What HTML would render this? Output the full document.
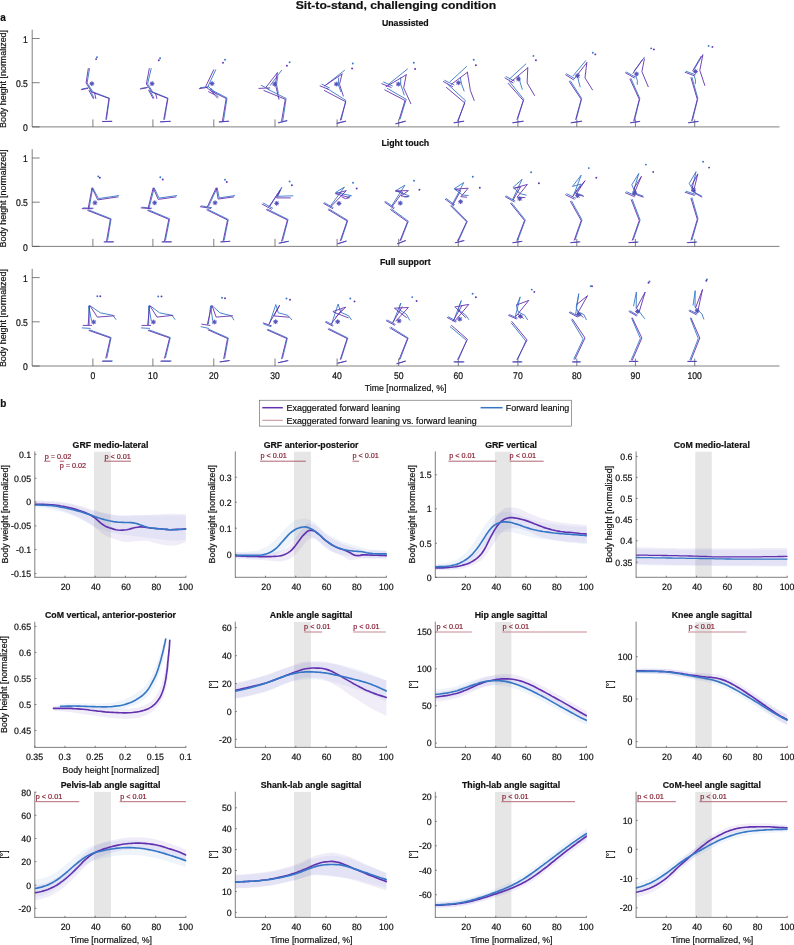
<!DOCTYPE html>
<html><head><meta charset="utf-8"><title>Sit-to-stand</title>
<style>html,body{margin:0;padding:0;background:#fff}svg{display:block;will-change:transform}text{font-family:"Liberation Sans",sans-serif}</style></head>
<body>
<svg width="794" height="945" viewBox="0 0 794 945">
<rect width="794" height="945" fill="#fff"/>
<g opacity="0.999">
<text x="395.9" y="8.5" font-size="11.6" text-anchor="middle" fill="#111111" textLength="200.4" lengthAdjust="spacingAndGlyphs" font-weight="bold" stroke="#111111" stroke-width="0.2">Sit-to-stand, challenging condition</text>
<text x="0.2" y="20.9" font-size="10" text-anchor="start" fill="#111111" font-weight="bold" stroke="#111111" stroke-width="0.2">a</text>
<text x="0.2" y="406.9" font-size="10" text-anchor="start" fill="#111111" font-weight="bold" stroke="#111111" stroke-width="0.2">b</text>
<line x1="32.2" y1="29.7" x2="32.2" y2="126.9" stroke="#4a4a4a" stroke-width="0.7"/>
<line x1="32.2" y1="126.9" x2="779.5" y2="126.9" stroke="#4a4a4a" stroke-width="0.7"/>
<line x1="32.2" y1="126.9" x2="39.7" y2="126.9" stroke="#4a4a4a" stroke-width="0.7"/>
<text x="0" y="0" font-size="8.6" text-anchor="end" fill="#111111" style="text-rendering:geometricPrecision" transform="translate(27.9 131.1) scale(1 1.13)" stroke="#111111" stroke-width="0.2">0</text>
<line x1="32.2" y1="82.7" x2="39.7" y2="82.7" stroke="#4a4a4a" stroke-width="0.7"/>
<text x="0" y="0" font-size="8.6" text-anchor="end" fill="#111111" style="text-rendering:geometricPrecision" transform="translate(27.9 86.9) scale(1 1.13)" stroke="#111111" stroke-width="0.2">0.5</text>
<line x1="32.2" y1="38.5" x2="39.7" y2="38.5" stroke="#4a4a4a" stroke-width="0.7"/>
<text x="0" y="0" font-size="8.6" text-anchor="end" fill="#111111" style="text-rendering:geometricPrecision" transform="translate(27.9 42.7) scale(1 1.13)" stroke="#111111" stroke-width="0.2">1</text>
<line x1="92.9" y1="126.9" x2="92.9" y2="119.4" stroke="#4a4a4a" stroke-width="0.7"/>
<line x1="152.9" y1="126.9" x2="152.9" y2="119.4" stroke="#4a4a4a" stroke-width="0.7"/>
<line x1="213.8" y1="126.9" x2="213.8" y2="119.4" stroke="#4a4a4a" stroke-width="0.7"/>
<line x1="275" y1="126.9" x2="275" y2="119.4" stroke="#4a4a4a" stroke-width="0.7"/>
<line x1="337.1" y1="126.9" x2="337.1" y2="119.4" stroke="#4a4a4a" stroke-width="0.7"/>
<line x1="398.7" y1="126.9" x2="398.7" y2="119.4" stroke="#4a4a4a" stroke-width="0.7"/>
<line x1="458.3" y1="126.9" x2="458.3" y2="119.4" stroke="#4a4a4a" stroke-width="0.7"/>
<line x1="517.9" y1="126.9" x2="517.9" y2="119.4" stroke="#4a4a4a" stroke-width="0.7"/>
<line x1="576.8" y1="126.9" x2="576.8" y2="119.4" stroke="#4a4a4a" stroke-width="0.7"/>
<line x1="635.4" y1="126.9" x2="635.4" y2="119.4" stroke="#4a4a4a" stroke-width="0.7"/>
<line x1="694.7" y1="126.9" x2="694.7" y2="119.4" stroke="#4a4a4a" stroke-width="0.7"/>
<text x="405.3" y="26" font-size="8.78" text-anchor="middle" fill="#111111" font-weight="bold" stroke="#111111" stroke-width="0.2">Unassisted</text>
<text x="6.3" y="79" font-size="8.8" text-anchor="middle" fill="#111111" transform="rotate(-90 6.3 79)" textLength="98" lengthAdjust="spacingAndGlyphs" stroke="#111111" stroke-width="0.2">Body height [normalized]</text>
<line x1="32.2" y1="149.2" x2="32.2" y2="246.4" stroke="#4a4a4a" stroke-width="0.7"/>
<line x1="32.2" y1="246.4" x2="779.5" y2="246.4" stroke="#4a4a4a" stroke-width="0.7"/>
<line x1="32.2" y1="246.4" x2="39.7" y2="246.4" stroke="#4a4a4a" stroke-width="0.7"/>
<text x="0" y="0" font-size="8.6" text-anchor="end" fill="#111111" style="text-rendering:geometricPrecision" transform="translate(27.9 250.6) scale(1 1.13)" stroke="#111111" stroke-width="0.2">0</text>
<line x1="32.2" y1="202.2" x2="39.7" y2="202.2" stroke="#4a4a4a" stroke-width="0.7"/>
<text x="0" y="0" font-size="8.6" text-anchor="end" fill="#111111" style="text-rendering:geometricPrecision" transform="translate(27.9 206.4) scale(1 1.13)" stroke="#111111" stroke-width="0.2">0.5</text>
<line x1="32.2" y1="158" x2="39.7" y2="158" stroke="#4a4a4a" stroke-width="0.7"/>
<text x="0" y="0" font-size="8.6" text-anchor="end" fill="#111111" style="text-rendering:geometricPrecision" transform="translate(27.9 162.2) scale(1 1.13)" stroke="#111111" stroke-width="0.2">1</text>
<line x1="92.9" y1="246.4" x2="92.9" y2="238.9" stroke="#4a4a4a" stroke-width="0.7"/>
<line x1="152.9" y1="246.4" x2="152.9" y2="238.9" stroke="#4a4a4a" stroke-width="0.7"/>
<line x1="213.8" y1="246.4" x2="213.8" y2="238.9" stroke="#4a4a4a" stroke-width="0.7"/>
<line x1="275" y1="246.4" x2="275" y2="238.9" stroke="#4a4a4a" stroke-width="0.7"/>
<line x1="337.1" y1="246.4" x2="337.1" y2="238.9" stroke="#4a4a4a" stroke-width="0.7"/>
<line x1="398.7" y1="246.4" x2="398.7" y2="238.9" stroke="#4a4a4a" stroke-width="0.7"/>
<line x1="458.3" y1="246.4" x2="458.3" y2="238.9" stroke="#4a4a4a" stroke-width="0.7"/>
<line x1="517.9" y1="246.4" x2="517.9" y2="238.9" stroke="#4a4a4a" stroke-width="0.7"/>
<line x1="576.8" y1="246.4" x2="576.8" y2="238.9" stroke="#4a4a4a" stroke-width="0.7"/>
<line x1="635.4" y1="246.4" x2="635.4" y2="238.9" stroke="#4a4a4a" stroke-width="0.7"/>
<line x1="694.7" y1="246.4" x2="694.7" y2="238.9" stroke="#4a4a4a" stroke-width="0.7"/>
<text x="405.3" y="146" font-size="8.78" text-anchor="middle" fill="#111111" font-weight="bold" stroke="#111111" stroke-width="0.2">Light touch</text>
<text x="6.3" y="198.5" font-size="8.8" text-anchor="middle" fill="#111111" transform="rotate(-90 6.3 198.5)" textLength="98" lengthAdjust="spacingAndGlyphs" stroke="#111111" stroke-width="0.2">Body height [normalized]</text>
<line x1="32.2" y1="268.8" x2="32.2" y2="366" stroke="#4a4a4a" stroke-width="0.7"/>
<line x1="32.2" y1="366" x2="779.5" y2="366" stroke="#4a4a4a" stroke-width="0.7"/>
<line x1="32.2" y1="366" x2="39.7" y2="366" stroke="#4a4a4a" stroke-width="0.7"/>
<text x="0" y="0" font-size="8.6" text-anchor="end" fill="#111111" style="text-rendering:geometricPrecision" transform="translate(27.9 370.2) scale(1 1.13)" stroke="#111111" stroke-width="0.2">0</text>
<line x1="32.2" y1="321.8" x2="39.7" y2="321.8" stroke="#4a4a4a" stroke-width="0.7"/>
<text x="0" y="0" font-size="8.6" text-anchor="end" fill="#111111" style="text-rendering:geometricPrecision" transform="translate(27.9 326) scale(1 1.13)" stroke="#111111" stroke-width="0.2">0.5</text>
<line x1="32.2" y1="277.6" x2="39.7" y2="277.6" stroke="#4a4a4a" stroke-width="0.7"/>
<text x="0" y="0" font-size="8.6" text-anchor="end" fill="#111111" style="text-rendering:geometricPrecision" transform="translate(27.9 281.8) scale(1 1.13)" stroke="#111111" stroke-width="0.2">1</text>
<line x1="92.9" y1="366" x2="92.9" y2="358.5" stroke="#4a4a4a" stroke-width="0.7"/>
<line x1="152.9" y1="366" x2="152.9" y2="358.5" stroke="#4a4a4a" stroke-width="0.7"/>
<line x1="213.8" y1="366" x2="213.8" y2="358.5" stroke="#4a4a4a" stroke-width="0.7"/>
<line x1="275" y1="366" x2="275" y2="358.5" stroke="#4a4a4a" stroke-width="0.7"/>
<line x1="337.1" y1="366" x2="337.1" y2="358.5" stroke="#4a4a4a" stroke-width="0.7"/>
<line x1="398.7" y1="366" x2="398.7" y2="358.5" stroke="#4a4a4a" stroke-width="0.7"/>
<line x1="458.3" y1="366" x2="458.3" y2="358.5" stroke="#4a4a4a" stroke-width="0.7"/>
<line x1="517.9" y1="366" x2="517.9" y2="358.5" stroke="#4a4a4a" stroke-width="0.7"/>
<line x1="576.8" y1="366" x2="576.8" y2="358.5" stroke="#4a4a4a" stroke-width="0.7"/>
<line x1="635.4" y1="366" x2="635.4" y2="358.5" stroke="#4a4a4a" stroke-width="0.7"/>
<line x1="694.7" y1="366" x2="694.7" y2="358.5" stroke="#4a4a4a" stroke-width="0.7"/>
<text x="405.3" y="265" font-size="8.78" text-anchor="middle" fill="#111111" font-weight="bold" stroke="#111111" stroke-width="0.2">Full support</text>
<text x="6.3" y="318.1" font-size="8.8" text-anchor="middle" fill="#111111" transform="rotate(-90 6.3 318.1)" textLength="98" lengthAdjust="spacingAndGlyphs" stroke="#111111" stroke-width="0.2">Body height [normalized]</text>
<text x="0" y="0" font-size="8.6" text-anchor="middle" fill="#111111" style="text-rendering:geometricPrecision" transform="translate(92.9 378.9) scale(1 1.13)" stroke="#111111" stroke-width="0.2">0</text>
<text x="0" y="0" font-size="8.6" text-anchor="middle" fill="#111111" style="text-rendering:geometricPrecision" transform="translate(152.9 378.9) scale(1 1.13)" stroke="#111111" stroke-width="0.2">10</text>
<text x="0" y="0" font-size="8.6" text-anchor="middle" fill="#111111" style="text-rendering:geometricPrecision" transform="translate(213.8 378.9) scale(1 1.13)" stroke="#111111" stroke-width="0.2">20</text>
<text x="0" y="0" font-size="8.6" text-anchor="middle" fill="#111111" style="text-rendering:geometricPrecision" transform="translate(275 378.9) scale(1 1.13)" stroke="#111111" stroke-width="0.2">30</text>
<text x="0" y="0" font-size="8.6" text-anchor="middle" fill="#111111" style="text-rendering:geometricPrecision" transform="translate(337.1 378.9) scale(1 1.13)" stroke="#111111" stroke-width="0.2">40</text>
<text x="0" y="0" font-size="8.6" text-anchor="middle" fill="#111111" style="text-rendering:geometricPrecision" transform="translate(398.7 378.9) scale(1 1.13)" stroke="#111111" stroke-width="0.2">50</text>
<text x="0" y="0" font-size="8.6" text-anchor="middle" fill="#111111" style="text-rendering:geometricPrecision" transform="translate(458.3 378.9) scale(1 1.13)" stroke="#111111" stroke-width="0.2">60</text>
<text x="0" y="0" font-size="8.6" text-anchor="middle" fill="#111111" style="text-rendering:geometricPrecision" transform="translate(517.9 378.9) scale(1 1.13)" stroke="#111111" stroke-width="0.2">70</text>
<text x="0" y="0" font-size="8.6" text-anchor="middle" fill="#111111" style="text-rendering:geometricPrecision" transform="translate(576.8 378.9) scale(1 1.13)" stroke="#111111" stroke-width="0.2">80</text>
<text x="0" y="0" font-size="8.6" text-anchor="middle" fill="#111111" style="text-rendering:geometricPrecision" transform="translate(635.4 378.9) scale(1 1.13)" stroke="#111111" stroke-width="0.2">90</text>
<text x="0" y="0" font-size="8.6" text-anchor="middle" fill="#111111" style="text-rendering:geometricPrecision" transform="translate(694.7 378.9) scale(1 1.13)" stroke="#111111" stroke-width="0.2">100</text>
<text x="405.6" y="391.1" font-size="8.8" text-anchor="middle" fill="#111111" textLength="81.5" lengthAdjust="spacingAndGlyphs" stroke="#111111" stroke-width="0.2">Time [normalized, %]</text>
<polyline points="89.5,68.6 87.1,83 92.9,91.9 109.4,98.2 106.5,119.3" fill="none" stroke="#3577C6" stroke-width="0.9" stroke-linejoin="round" stroke-linecap="round"/>
<polyline points="103,121.6 111.9,121.4" fill="none" stroke="#3577C6" stroke-width="0.9" stroke-linejoin="round" stroke-linecap="round"/>
<polyline points="82.1,89 88.4,87.8" fill="none" stroke="#3577C6" stroke-width="0.9" stroke-linejoin="round" stroke-linecap="round"/>
<polyline points="90.2,90.1 93.9,97.9" fill="none" stroke="#3577C6" stroke-width="0.9" stroke-linejoin="round" stroke-linecap="round"/>
<polyline points="88.3,68.6 86.1,83 92,92.2 109,98.5 105.9,119.3" fill="none" stroke="#6231B0" stroke-width="0.9" stroke-linejoin="round" stroke-linecap="round"/>
<polyline points="102.5,121.5 111.6,121.3" fill="none" stroke="#6231B0" stroke-width="0.9" stroke-linejoin="round" stroke-linecap="round"/>
<polyline points="81.3,89.7 87.6,88.4" fill="none" stroke="#6231B0" stroke-width="0.9" stroke-linejoin="round" stroke-linecap="round"/>
<polyline points="88.9,90.3 93.3,98.5" fill="none" stroke="#6231B0" stroke-width="0.9" stroke-linejoin="round" stroke-linecap="round"/>
<polyline points="94.6,92.8 95.8,98.5" fill="none" stroke="#6231B0" stroke-width="0.9" stroke-linejoin="round" stroke-linecap="round"/>
<circle cx="96.1" cy="59.1" r="0.95" fill="#6231B0"/>
<circle cx="97" cy="57.3" r="0.95" fill="#3577C6"/>
<line x1="89.8" y1="83.6" x2="94.4" y2="83.6" stroke="#3577C6" stroke-width="0.7"/>
<line x1="90.4" y1="81.9" x2="93.7" y2="85.2" stroke="#3577C6" stroke-width="0.7"/>
<line x1="92.1" y1="81.3" x2="92.1" y2="85.9" stroke="#3577C6" stroke-width="0.7"/>
<line x1="93.7" y1="81.9" x2="90.4" y2="85.2" stroke="#3577C6" stroke-width="0.7"/>
<line x1="89.4" y1="83.8" x2="94" y2="83.8" stroke="#6231B0" stroke-width="0.7"/>
<line x1="90" y1="82.1" x2="93.3" y2="85.4" stroke="#6231B0" stroke-width="0.7"/>
<line x1="91.7" y1="81.5" x2="91.7" y2="86.1" stroke="#6231B0" stroke-width="0.7"/>
<line x1="93.3" y1="82.1" x2="90" y2="85.4" stroke="#6231B0" stroke-width="0.7"/>
<circle cx="91.9" cy="83.7" r="1.15" fill="#5358BE"/>
<polyline points="151.2,68.6 147.6,83.8 152.7,91.9 168,98.2 164.5,119.3" fill="none" stroke="#3577C6" stroke-width="0.9" stroke-linejoin="round" stroke-linecap="round"/>
<polyline points="160.9,121.9 170.4,121.4" fill="none" stroke="#3577C6" stroke-width="0.9" stroke-linejoin="round" stroke-linecap="round"/>
<polyline points="141,88.4 147.6,87.3" fill="none" stroke="#3577C6" stroke-width="0.9" stroke-linejoin="round" stroke-linecap="round"/>
<polyline points="149.7,90.1 153.9,97.9" fill="none" stroke="#3577C6" stroke-width="0.9" stroke-linejoin="round" stroke-linecap="round"/>
<polyline points="149.3,68.6 146.4,84 151.9,92.2 167.6,98.5 163.8,119.3" fill="none" stroke="#6231B0" stroke-width="0.9" stroke-linejoin="round" stroke-linecap="round"/>
<polyline points="160.4,121.8 170,121.3" fill="none" stroke="#6231B0" stroke-width="0.9" stroke-linejoin="round" stroke-linecap="round"/>
<polyline points="140.3,89 146.8,87.8" fill="none" stroke="#6231B0" stroke-width="0.9" stroke-linejoin="round" stroke-linecap="round"/>
<polyline points="148.7,90.3 153.1,98.5" fill="none" stroke="#6231B0" stroke-width="0.9" stroke-linejoin="round" stroke-linecap="round"/>
<polyline points="155.6,93.5 156.9,98.5" fill="none" stroke="#6231B0" stroke-width="0.9" stroke-linejoin="round" stroke-linecap="round"/>
<circle cx="158.8" cy="60.3" r="0.95" fill="#6231B0"/>
<circle cx="160.1" cy="58.2" r="0.95" fill="#3577C6"/>
<line x1="150" y1="83.6" x2="154.6" y2="83.6" stroke="#3577C6" stroke-width="0.7"/>
<line x1="150.6" y1="81.9" x2="153.9" y2="85.2" stroke="#3577C6" stroke-width="0.7"/>
<line x1="152.3" y1="81.3" x2="152.3" y2="85.9" stroke="#3577C6" stroke-width="0.7"/>
<line x1="153.9" y1="81.9" x2="150.6" y2="85.2" stroke="#3577C6" stroke-width="0.7"/>
<line x1="149.6" y1="83.8" x2="154.2" y2="83.8" stroke="#6231B0" stroke-width="0.7"/>
<line x1="150.2" y1="82.1" x2="153.5" y2="85.4" stroke="#6231B0" stroke-width="0.7"/>
<line x1="151.9" y1="81.5" x2="151.9" y2="86.1" stroke="#6231B0" stroke-width="0.7"/>
<line x1="153.5" y1="82.1" x2="150.2" y2="85.4" stroke="#6231B0" stroke-width="0.7"/>
<circle cx="152.1" cy="83.7" r="1.15" fill="#5358BE"/>
<polyline points="215.7,69.8 208.1,86.2 212.6,90.5 227,98 223.5,120.7" fill="none" stroke="#3577C6" stroke-width="0.9" stroke-linejoin="round" stroke-linecap="round"/>
<polyline points="219.7,122 228.8,121.3" fill="none" stroke="#3577C6" stroke-width="0.9" stroke-linejoin="round" stroke-linecap="round"/>
<polyline points="200.3,87.7 208.6,86.7" fill="none" stroke="#3577C6" stroke-width="0.9" stroke-linejoin="round" stroke-linecap="round"/>
<polyline points="211.1,88.4 218.2,97" fill="none" stroke="#3577C6" stroke-width="0.9" stroke-linejoin="round" stroke-linecap="round"/>
<polyline points="213.7,69.8 205.6,86.7 211.1,91 226.2,98.5 222.5,120.7" fill="none" stroke="#6231B0" stroke-width="0.9" stroke-linejoin="round" stroke-linecap="round"/>
<polyline points="219.2,121.9 228.3,121.2" fill="none" stroke="#6231B0" stroke-width="0.9" stroke-linejoin="round" stroke-linecap="round"/>
<polyline points="199.3,88.7 207.4,87.4" fill="none" stroke="#6231B0" stroke-width="0.9" stroke-linejoin="round" stroke-linecap="round"/>
<polyline points="209.9,89.2 217.4,98" fill="none" stroke="#6231B0" stroke-width="0.9" stroke-linejoin="round" stroke-linecap="round"/>
<polyline points="208.6,91.7 214.2,94.5" fill="none" stroke="#6231B0" stroke-width="0.9" stroke-linejoin="round" stroke-linecap="round"/>
<circle cx="223" cy="62.7" r="0.95" fill="#6231B0"/>
<circle cx="225" cy="59.7" r="0.95" fill="#3577C6"/>
<line x1="210" y1="83.5" x2="214.6" y2="83.5" stroke="#3577C6" stroke-width="0.7"/>
<line x1="210.7" y1="81.8" x2="213.9" y2="85.1" stroke="#3577C6" stroke-width="0.7"/>
<line x1="212.3" y1="81.2" x2="212.3" y2="85.8" stroke="#3577C6" stroke-width="0.7"/>
<line x1="213.9" y1="81.8" x2="210.7" y2="85.1" stroke="#3577C6" stroke-width="0.7"/>
<line x1="209.6" y1="83.7" x2="214.2" y2="83.7" stroke="#6231B0" stroke-width="0.7"/>
<line x1="210.3" y1="82" x2="213.5" y2="85.3" stroke="#6231B0" stroke-width="0.7"/>
<line x1="211.9" y1="81.4" x2="211.9" y2="86" stroke="#6231B0" stroke-width="0.7"/>
<line x1="213.5" y1="82" x2="210.3" y2="85.3" stroke="#6231B0" stroke-width="0.7"/>
<circle cx="212.1" cy="83.6" r="1.15" fill="#5358BE"/>
<polyline points="281.6,70.3 270.2,85.4" fill="none" stroke="#3577C6" stroke-width="0.9" stroke-linejoin="round" stroke-linecap="round"/>
<polyline points="261.4,85.4 269,89.2" fill="none" stroke="#3577C6" stroke-width="0.9" stroke-linejoin="round" stroke-linecap="round"/>
<polyline points="267.7,89.2 286.1,98.5 282.8,120.7" fill="none" stroke="#3577C6" stroke-width="0.9" stroke-linejoin="round" stroke-linecap="round"/>
<polyline points="277.8,76.6 276.5,84.2 278.3,93" fill="none" stroke="#3577C6" stroke-width="0.9" stroke-linejoin="round" stroke-linecap="round"/>
<polyline points="278.8,122.8 287.1,120.8" fill="none" stroke="#3577C6" stroke-width="0.9" stroke-linejoin="round" stroke-linecap="round"/>
<polyline points="277.3,72.8 266.4,86.7" fill="none" stroke="#6231B0" stroke-width="0.9" stroke-linejoin="round" stroke-linecap="round"/>
<polyline points="258.9,88.4 269.7,87.9" fill="none" stroke="#6231B0" stroke-width="0.9" stroke-linejoin="round" stroke-linecap="round"/>
<polyline points="263.9,90.5 285.3,99.3 281.6,120.7" fill="none" stroke="#6231B0" stroke-width="0.9" stroke-linejoin="round" stroke-linecap="round"/>
<polyline points="277.3,72.8 275.3,84.2 279,99.3" fill="none" stroke="#6231B0" stroke-width="0.9" stroke-linejoin="round" stroke-linecap="round"/>
<polyline points="278.3,122.7 286.6,120.7" fill="none" stroke="#6231B0" stroke-width="0.9" stroke-linejoin="round" stroke-linecap="round"/>
<circle cx="286.9" cy="65.8" r="0.95" fill="#6231B0"/>
<circle cx="289.6" cy="62.2" r="0.95" fill="#3577C6"/>
<line x1="272.6" y1="84" x2="277.2" y2="84" stroke="#3577C6" stroke-width="0.7"/>
<line x1="273.3" y1="82.3" x2="276.5" y2="85.6" stroke="#3577C6" stroke-width="0.7"/>
<line x1="274.9" y1="81.7" x2="274.9" y2="86.3" stroke="#3577C6" stroke-width="0.7"/>
<line x1="276.5" y1="82.3" x2="273.3" y2="85.6" stroke="#3577C6" stroke-width="0.7"/>
<line x1="272.2" y1="84.2" x2="276.8" y2="84.2" stroke="#6231B0" stroke-width="0.7"/>
<line x1="272.9" y1="82.5" x2="276.1" y2="85.8" stroke="#6231B0" stroke-width="0.7"/>
<line x1="274.5" y1="81.9" x2="274.5" y2="86.5" stroke="#6231B0" stroke-width="0.7"/>
<line x1="276.1" y1="82.5" x2="272.9" y2="85.8" stroke="#6231B0" stroke-width="0.7"/>
<circle cx="274.7" cy="84.1" r="1.15" fill="#5358BE"/>
<polyline points="344.5,70.3 326.9,84.2" fill="none" stroke="#3577C6" stroke-width="0.9" stroke-linejoin="round" stroke-linecap="round"/>
<polyline points="321.9,84.2 329.4,87.9" fill="none" stroke="#3577C6" stroke-width="0.9" stroke-linejoin="round" stroke-linecap="round"/>
<polyline points="326.9,88.4 345.8,100.3 341.3,119.7" fill="none" stroke="#3577C6" stroke-width="0.9" stroke-linejoin="round" stroke-linecap="round"/>
<polyline points="338.7,77.9 338.2,84.2 340.8,91.7" fill="none" stroke="#3577C6" stroke-width="0.9" stroke-linejoin="round" stroke-linecap="round"/>
<polyline points="337.5,123.3 345.8,121.3" fill="none" stroke="#3577C6" stroke-width="0.9" stroke-linejoin="round" stroke-linecap="round"/>
<polyline points="342,74.1 324.4,85.9" fill="none" stroke="#6231B0" stroke-width="0.9" stroke-linejoin="round" stroke-linecap="round"/>
<polyline points="320.1,85.9 328.2,89.2" fill="none" stroke="#6231B0" stroke-width="0.9" stroke-linejoin="round" stroke-linecap="round"/>
<polyline points="324.4,90.5 345.8,101.8 340.3,120.2" fill="none" stroke="#6231B0" stroke-width="0.9" stroke-linejoin="round" stroke-linecap="round"/>
<polyline points="342,74.1 339.5,84.2 343.3,96" fill="none" stroke="#6231B0" stroke-width="0.9" stroke-linejoin="round" stroke-linecap="round"/>
<polyline points="337,123.2 345.3,121.2" fill="none" stroke="#6231B0" stroke-width="0.9" stroke-linejoin="round" stroke-linecap="round"/>
<circle cx="352.1" cy="68.5" r="0.95" fill="#6231B0"/>
<circle cx="352.8" cy="63.5" r="0.95" fill="#3577C6"/>
<line x1="334.3" y1="84" x2="338.9" y2="84" stroke="#3577C6" stroke-width="0.7"/>
<line x1="335" y1="82.3" x2="338.2" y2="85.6" stroke="#3577C6" stroke-width="0.7"/>
<line x1="336.6" y1="81.7" x2="336.6" y2="86.3" stroke="#3577C6" stroke-width="0.7"/>
<line x1="338.2" y1="82.3" x2="335" y2="85.6" stroke="#3577C6" stroke-width="0.7"/>
<line x1="333.9" y1="84.2" x2="338.5" y2="84.2" stroke="#6231B0" stroke-width="0.7"/>
<line x1="334.6" y1="82.5" x2="337.8" y2="85.8" stroke="#6231B0" stroke-width="0.7"/>
<line x1="336.2" y1="81.9" x2="336.2" y2="86.5" stroke="#6231B0" stroke-width="0.7"/>
<line x1="337.8" y1="82.5" x2="334.6" y2="85.8" stroke="#6231B0" stroke-width="0.7"/>
<circle cx="336.4" cy="84.1" r="1.15" fill="#5358BE"/>
<polyline points="407.5,69 388.6,84.2" fill="none" stroke="#3577C6" stroke-width="0.9" stroke-linejoin="round" stroke-linecap="round"/>
<polyline points="383.6,82.1 392.4,85.9" fill="none" stroke="#3577C6" stroke-width="0.9" stroke-linejoin="round" stroke-linecap="round"/>
<polyline points="387.4,88.4 406.2,99.3 400.2,118.9" fill="none" stroke="#3577C6" stroke-width="0.9" stroke-linejoin="round" stroke-linecap="round"/>
<polyline points="400.7,77.9 400.7,84.2 404.2,95" fill="none" stroke="#3577C6" stroke-width="0.9" stroke-linejoin="round" stroke-linecap="round"/>
<polyline points="396.2,123.8 405.5,121.3" fill="none" stroke="#3577C6" stroke-width="0.9" stroke-linejoin="round" stroke-linecap="round"/>
<polyline points="406.2,74.8 386.1,86.7" fill="none" stroke="#6231B0" stroke-width="0.9" stroke-linejoin="round" stroke-linecap="round"/>
<polyline points="381.8,83.7 391.1,87.4" fill="none" stroke="#6231B0" stroke-width="0.9" stroke-linejoin="round" stroke-linecap="round"/>
<polyline points="384.8,89.9 405,100.5 399.2,119.4" fill="none" stroke="#6231B0" stroke-width="0.9" stroke-linejoin="round" stroke-linecap="round"/>
<polyline points="406.2,74.8 403.7,87.9 410.8,103.6" fill="none" stroke="#6231B0" stroke-width="0.9" stroke-linejoin="round" stroke-linecap="round"/>
<polyline points="395.7,123.7 405,121.2" fill="none" stroke="#6231B0" stroke-width="0.9" stroke-linejoin="round" stroke-linecap="round"/>
<circle cx="415.1" cy="69" r="0.95" fill="#6231B0"/>
<circle cx="413.8" cy="62.7" r="0.95" fill="#3577C6"/>
<line x1="396.3" y1="84" x2="400.9" y2="84" stroke="#3577C6" stroke-width="0.7"/>
<line x1="397" y1="82.3" x2="400.2" y2="85.6" stroke="#3577C6" stroke-width="0.7"/>
<line x1="398.6" y1="81.7" x2="398.6" y2="86.3" stroke="#3577C6" stroke-width="0.7"/>
<line x1="400.2" y1="82.3" x2="397" y2="85.6" stroke="#3577C6" stroke-width="0.7"/>
<line x1="395.9" y1="84.2" x2="400.5" y2="84.2" stroke="#6231B0" stroke-width="0.7"/>
<line x1="396.6" y1="82.5" x2="399.8" y2="85.8" stroke="#6231B0" stroke-width="0.7"/>
<line x1="398.2" y1="81.9" x2="398.2" y2="86.5" stroke="#6231B0" stroke-width="0.7"/>
<line x1="399.8" y1="82.5" x2="396.6" y2="85.8" stroke="#6231B0" stroke-width="0.7"/>
<circle cx="398.4" cy="84.1" r="1.15" fill="#5358BE"/>
<polyline points="466.6,66.5 450.2,81.6" fill="none" stroke="#3577C6" stroke-width="0.9" stroke-linejoin="round" stroke-linecap="round"/>
<polyline points="444.7,80.4 454,84.9" fill="none" stroke="#3577C6" stroke-width="0.9" stroke-linejoin="round" stroke-linecap="round"/>
<polyline points="447.7,84.2 465.3,100.5 458.5,120.2" fill="none" stroke="#3577C6" stroke-width="0.9" stroke-linejoin="round" stroke-linecap="round"/>
<polyline points="460.3,77.9 461.6,84.2 464.1,91" fill="none" stroke="#3577C6" stroke-width="0.9" stroke-linejoin="round" stroke-linecap="round"/>
<polyline points="454.5,122.8 463.8,121.3" fill="none" stroke="#3577C6" stroke-width="0.9" stroke-linejoin="round" stroke-linecap="round"/>
<polyline points="467.4,72.3 451.5,84.2" fill="none" stroke="#6231B0" stroke-width="0.9" stroke-linejoin="round" stroke-linecap="round"/>
<polyline points="443.4,81.6 452.7,86.7" fill="none" stroke="#6231B0" stroke-width="0.9" stroke-linejoin="round" stroke-linecap="round"/>
<polyline points="446.4,87.4 464.8,103 457.8,120.7" fill="none" stroke="#6231B0" stroke-width="0.9" stroke-linejoin="round" stroke-linecap="round"/>
<polyline points="467.4,72.3 470.4,90.5 474.2,100.5" fill="none" stroke="#6231B0" stroke-width="0.9" stroke-linejoin="round" stroke-linecap="round"/>
<polyline points="454,122.7 463.3,121.2" fill="none" stroke="#6231B0" stroke-width="0.9" stroke-linejoin="round" stroke-linecap="round"/>
<circle cx="475.9" cy="65.3" r="0.95" fill="#6231B0"/>
<circle cx="473.7" cy="59.7" r="0.95" fill="#3577C6"/>
<line x1="456.4" y1="82.7" x2="461" y2="82.7" stroke="#3577C6" stroke-width="0.7"/>
<line x1="457.1" y1="81.1" x2="460.3" y2="84.3" stroke="#3577C6" stroke-width="0.7"/>
<line x1="458.7" y1="80.4" x2="458.7" y2="85" stroke="#3577C6" stroke-width="0.7"/>
<line x1="460.3" y1="81.1" x2="457.1" y2="84.3" stroke="#3577C6" stroke-width="0.7"/>
<line x1="456" y1="82.9" x2="460.6" y2="82.9" stroke="#6231B0" stroke-width="0.7"/>
<line x1="456.7" y1="81.3" x2="459.9" y2="84.5" stroke="#6231B0" stroke-width="0.7"/>
<line x1="458.3" y1="80.6" x2="458.3" y2="85.2" stroke="#6231B0" stroke-width="0.7"/>
<line x1="459.9" y1="81.3" x2="456.7" y2="84.5" stroke="#6231B0" stroke-width="0.7"/>
<circle cx="458.5" cy="82.8" r="1.15" fill="#5358BE"/>
<polyline points="525.8,64 509.4,79.1" fill="none" stroke="#3577C6" stroke-width="0.9" stroke-linejoin="round" stroke-linecap="round"/>
<polyline points="506.1,76.6 514.5,81.1" fill="none" stroke="#3577C6" stroke-width="0.9" stroke-linejoin="round" stroke-linecap="round"/>
<polyline points="509.4,81.6 523.8,99.3 517.7,118.9" fill="none" stroke="#3577C6" stroke-width="0.9" stroke-linejoin="round" stroke-linecap="round"/>
<polyline points="518.7,76.1 520.3,82.9 522.3,89.4" fill="none" stroke="#3577C6" stroke-width="0.9" stroke-linejoin="round" stroke-linecap="round"/>
<polyline points="513.2,122.8 523.3,121.3" fill="none" stroke="#3577C6" stroke-width="0.9" stroke-linejoin="round" stroke-linecap="round"/>
<polyline points="527.8,67.8 511.2,81.6" fill="none" stroke="#6231B0" stroke-width="0.9" stroke-linejoin="round" stroke-linecap="round"/>
<polyline points="504.9,77.9 513.2,82.9" fill="none" stroke="#6231B0" stroke-width="0.9" stroke-linejoin="round" stroke-linecap="round"/>
<polyline points="508.2,83.4 523.3,100.5 517,119.4" fill="none" stroke="#6231B0" stroke-width="0.9" stroke-linejoin="round" stroke-linecap="round"/>
<polyline points="527.8,67.8 527.1,82.9 534.6,95.5" fill="none" stroke="#6231B0" stroke-width="0.9" stroke-linejoin="round" stroke-linecap="round"/>
<polyline points="512.7,122.7 522.8,121.2" fill="none" stroke="#6231B0" stroke-width="0.9" stroke-linejoin="round" stroke-linecap="round"/>
<circle cx="535.9" cy="60.2" r="0.95" fill="#6231B0"/>
<circle cx="533.4" cy="55.9" r="0.95" fill="#3577C6"/>
<line x1="516.3" y1="78.9" x2="520.9" y2="78.9" stroke="#3577C6" stroke-width="0.7"/>
<line x1="517" y1="77.3" x2="520.3" y2="80.5" stroke="#3577C6" stroke-width="0.7"/>
<line x1="518.6" y1="76.6" x2="518.6" y2="81.2" stroke="#3577C6" stroke-width="0.7"/>
<line x1="520.3" y1="77.3" x2="517" y2="80.5" stroke="#3577C6" stroke-width="0.7"/>
<line x1="515.9" y1="79.1" x2="520.5" y2="79.1" stroke="#6231B0" stroke-width="0.7"/>
<line x1="516.6" y1="77.5" x2="519.9" y2="80.7" stroke="#6231B0" stroke-width="0.7"/>
<line x1="518.2" y1="76.8" x2="518.2" y2="81.4" stroke="#6231B0" stroke-width="0.7"/>
<line x1="519.9" y1="77.5" x2="516.6" y2="80.7" stroke="#6231B0" stroke-width="0.7"/>
<circle cx="518.4" cy="79" r="1.15" fill="#5358BE"/>
<polyline points="585.7,60.7 573.1,75.8" fill="none" stroke="#3577C6" stroke-width="0.9" stroke-linejoin="round" stroke-linecap="round"/>
<polyline points="566.6,73.8 574.7,78.6" fill="none" stroke="#3577C6" stroke-width="0.9" stroke-linejoin="round" stroke-linecap="round"/>
<polyline points="570.4,80.9 581.7,98.5 576.4,118.9" fill="none" stroke="#3577C6" stroke-width="0.9" stroke-linejoin="round" stroke-linecap="round"/>
<polyline points="577.7,76.1 578.7,81.6 580.2,86.9" fill="none" stroke="#3577C6" stroke-width="0.9" stroke-linejoin="round" stroke-linecap="round"/>
<polyline points="571.6,122.8 581.7,121.3" fill="none" stroke="#3577C6" stroke-width="0.9" stroke-linejoin="round" stroke-linecap="round"/>
<polyline points="586.8,62.7 574.9,77.9" fill="none" stroke="#6231B0" stroke-width="0.9" stroke-linejoin="round" stroke-linecap="round"/>
<polyline points="565.6,74.8 573.7,79.9" fill="none" stroke="#6231B0" stroke-width="0.9" stroke-linejoin="round" stroke-linecap="round"/>
<polyline points="569.4,81.6 581.2,99.3 575.7,119.4" fill="none" stroke="#6231B0" stroke-width="0.9" stroke-linejoin="round" stroke-linecap="round"/>
<polyline points="586.8,62.7 585,77.9 592.5,89.9" fill="none" stroke="#6231B0" stroke-width="0.9" stroke-linejoin="round" stroke-linecap="round"/>
<polyline points="571.1,122.7 581.2,121.2" fill="none" stroke="#6231B0" stroke-width="0.9" stroke-linejoin="round" stroke-linecap="round"/>
<circle cx="595.3" cy="54.4" r="0.95" fill="#6231B0"/>
<circle cx="592.8" cy="52.7" r="0.95" fill="#3577C6"/>
<line x1="575.5" y1="75.6" x2="580.1" y2="75.6" stroke="#3577C6" stroke-width="0.7"/>
<line x1="576.2" y1="74" x2="579.5" y2="77.3" stroke="#3577C6" stroke-width="0.7"/>
<line x1="577.8" y1="73.3" x2="577.8" y2="77.9" stroke="#3577C6" stroke-width="0.7"/>
<line x1="579.5" y1="74" x2="576.2" y2="77.3" stroke="#3577C6" stroke-width="0.7"/>
<line x1="575.1" y1="75.8" x2="579.7" y2="75.8" stroke="#6231B0" stroke-width="0.7"/>
<line x1="575.8" y1="74.2" x2="579.1" y2="77.5" stroke="#6231B0" stroke-width="0.7"/>
<line x1="577.4" y1="73.5" x2="577.4" y2="78.1" stroke="#6231B0" stroke-width="0.7"/>
<line x1="579.1" y1="74.2" x2="575.8" y2="77.5" stroke="#6231B0" stroke-width="0.7"/>
<circle cx="577.6" cy="75.7" r="1.15" fill="#5358BE"/>
<polyline points="644.4,57.2 634.3,70.8" fill="none" stroke="#3577C6" stroke-width="0.9" stroke-linejoin="round" stroke-linecap="round"/>
<polyline points="626.5,72.1 635.1,76.9" fill="none" stroke="#3577C6" stroke-width="0.9" stroke-linejoin="round" stroke-linecap="round"/>
<polyline points="631,78.6 639.8,98.5 634.6,120.2" fill="none" stroke="#3577C6" stroke-width="0.9" stroke-linejoin="round" stroke-linecap="round"/>
<polyline points="635.8,76.1 637.3,80.4 637.3,84.4" fill="none" stroke="#3577C6" stroke-width="0.9" stroke-linejoin="round" stroke-linecap="round"/>
<polyline points="631,122.8 639.8,121.5" fill="none" stroke="#3577C6" stroke-width="0.9" stroke-linejoin="round" stroke-linecap="round"/>
<polyline points="642.4,59.7 633,73.3" fill="none" stroke="#6231B0" stroke-width="0.9" stroke-linejoin="round" stroke-linecap="round"/>
<polyline points="625.5,72.8 634.3,77.9" fill="none" stroke="#6231B0" stroke-width="0.9" stroke-linejoin="round" stroke-linecap="round"/>
<polyline points="630,79.1 639.3,99.3 633.8,120.7" fill="none" stroke="#6231B0" stroke-width="0.9" stroke-linejoin="round" stroke-linecap="round"/>
<polyline points="644.4,59 641.9,71.6 648.2,86.7" fill="none" stroke="#6231B0" stroke-width="0.9" stroke-linejoin="round" stroke-linecap="round"/>
<polyline points="630.5,122.7 639.3,121.4" fill="none" stroke="#6231B0" stroke-width="0.9" stroke-linejoin="round" stroke-linecap="round"/>
<circle cx="653.9" cy="49.4" r="0.95" fill="#6231B0"/>
<circle cx="651.2" cy="48.4" r="0.95" fill="#3577C6"/>
<line x1="634.4" y1="73.9" x2="639" y2="73.9" stroke="#3577C6" stroke-width="0.7"/>
<line x1="635.1" y1="72.3" x2="638.3" y2="75.5" stroke="#3577C6" stroke-width="0.7"/>
<line x1="636.7" y1="71.6" x2="636.7" y2="76.2" stroke="#3577C6" stroke-width="0.7"/>
<line x1="638.3" y1="72.3" x2="635.1" y2="75.5" stroke="#3577C6" stroke-width="0.7"/>
<line x1="634" y1="74.1" x2="638.6" y2="74.1" stroke="#6231B0" stroke-width="0.7"/>
<line x1="634.7" y1="72.5" x2="637.9" y2="75.7" stroke="#6231B0" stroke-width="0.7"/>
<line x1="636.3" y1="71.8" x2="636.3" y2="76.4" stroke="#6231B0" stroke-width="0.7"/>
<line x1="637.9" y1="72.5" x2="634.7" y2="75.7" stroke="#6231B0" stroke-width="0.7"/>
<circle cx="636.5" cy="74" r="1.15" fill="#5358BE"/>
<polyline points="702.8,54.7 694.3,69.3" fill="none" stroke="#3577C6" stroke-width="0.9" stroke-linejoin="round" stroke-linecap="round"/>
<polyline points="686.2,71.3 695.3,74.8" fill="none" stroke="#3577C6" stroke-width="0.9" stroke-linejoin="round" stroke-linecap="round"/>
<polyline points="692,77.4 697.8,98.5 692.5,120.2" fill="none" stroke="#3577C6" stroke-width="0.9" stroke-linejoin="round" stroke-linecap="round"/>
<polyline points="694.3,76.1 695.5,79.9 695.3,83.7" fill="none" stroke="#3577C6" stroke-width="0.9" stroke-linejoin="round" stroke-linecap="round"/>
<polyline points="689,122.8 698.3,121.5" fill="none" stroke="#3577C6" stroke-width="0.9" stroke-linejoin="round" stroke-linecap="round"/>
<polyline points="701.1,56.4 692.7,70.8" fill="none" stroke="#6231B0" stroke-width="0.9" stroke-linejoin="round" stroke-linecap="round"/>
<polyline points="685.2,72.3 694.3,75.8" fill="none" stroke="#6231B0" stroke-width="0.9" stroke-linejoin="round" stroke-linecap="round"/>
<polyline points="691,77.9 697.3,99.3 691.7,120.7" fill="none" stroke="#6231B0" stroke-width="0.9" stroke-linejoin="round" stroke-linecap="round"/>
<polyline points="702.8,55.2 699.8,70.3 704.8,85.4" fill="none" stroke="#6231B0" stroke-width="0.9" stroke-linejoin="round" stroke-linecap="round"/>
<polyline points="688.5,122.7 697.8,121.4" fill="none" stroke="#6231B0" stroke-width="0.9" stroke-linejoin="round" stroke-linecap="round"/>
<circle cx="712.4" cy="46.9" r="0.95" fill="#6231B0"/>
<circle cx="708.6" cy="45.9" r="0.95" fill="#3577C6"/>
<line x1="693.4" y1="71.4" x2="698" y2="71.4" stroke="#3577C6" stroke-width="0.7"/>
<line x1="694" y1="69.7" x2="697.3" y2="73" stroke="#3577C6" stroke-width="0.7"/>
<line x1="695.7" y1="69.1" x2="695.7" y2="73.7" stroke="#3577C6" stroke-width="0.7"/>
<line x1="697.3" y1="69.7" x2="694" y2="73" stroke="#3577C6" stroke-width="0.7"/>
<line x1="693" y1="71.6" x2="697.6" y2="71.6" stroke="#6231B0" stroke-width="0.7"/>
<line x1="693.6" y1="69.9" x2="696.9" y2="73.2" stroke="#6231B0" stroke-width="0.7"/>
<line x1="695.3" y1="69.3" x2="695.3" y2="73.9" stroke="#6231B0" stroke-width="0.7"/>
<line x1="696.9" y1="69.9" x2="693.6" y2="73.2" stroke="#6231B0" stroke-width="0.7"/>
<circle cx="695.5" cy="71.5" r="1.15" fill="#5358BE"/>
<polyline points="89.2,207.9 92.7,187.8 98.5,198.6 118.7,195.6" fill="none" stroke="#3577C6" stroke-width="0.9" stroke-linejoin="round" stroke-linecap="round"/>
<polyline points="83.2,207.9 93.2,208.2" fill="none" stroke="#3577C6" stroke-width="0.9" stroke-linejoin="round" stroke-linecap="round"/>
<polyline points="88.7,209.9 111.1,218.8 107.6,240.2" fill="none" stroke="#3577C6" stroke-width="0.9" stroke-linejoin="round" stroke-linecap="round"/>
<polyline points="104.8,241.8 113.7,241.8" fill="none" stroke="#3577C6" stroke-width="0.9" stroke-linejoin="round" stroke-linecap="round"/>
<polyline points="88.2,208.4 92,187.8 97.8,199.9 117.9,196.9" fill="none" stroke="#6231B0" stroke-width="0.9" stroke-linejoin="round" stroke-linecap="round"/>
<polyline points="82.2,208.7 92.2,208.7" fill="none" stroke="#6231B0" stroke-width="0.9" stroke-linejoin="round" stroke-linecap="round"/>
<polyline points="87.7,210.5 110.4,219.3 106.6,240.7" fill="none" stroke="#6231B0" stroke-width="0.9" stroke-linejoin="round" stroke-linecap="round"/>
<polyline points="104.1,241.9 112.9,241.9" fill="none" stroke="#6231B0" stroke-width="0.9" stroke-linejoin="round" stroke-linecap="round"/>
<circle cx="99.8" cy="177.7" r="0.95" fill="#6231B0"/>
<circle cx="98.3" cy="176.4" r="0.95" fill="#3577C6"/>
<line x1="92.9" y1="202.7" x2="97.5" y2="202.7" stroke="#3577C6" stroke-width="0.7"/>
<line x1="93.5" y1="201.1" x2="96.8" y2="204.3" stroke="#3577C6" stroke-width="0.7"/>
<line x1="95.2" y1="200.4" x2="95.2" y2="205" stroke="#3577C6" stroke-width="0.7"/>
<line x1="96.8" y1="201.1" x2="93.5" y2="204.3" stroke="#3577C6" stroke-width="0.7"/>
<line x1="92.5" y1="202.9" x2="97.1" y2="202.9" stroke="#6231B0" stroke-width="0.7"/>
<line x1="93.1" y1="201.3" x2="96.4" y2="204.5" stroke="#6231B0" stroke-width="0.7"/>
<line x1="94.8" y1="200.6" x2="94.8" y2="205.2" stroke="#6231B0" stroke-width="0.7"/>
<line x1="96.4" y1="201.3" x2="93.1" y2="204.5" stroke="#6231B0" stroke-width="0.7"/>
<circle cx="95" cy="202.8" r="1.15" fill="#5358BE"/>
<polyline points="149.2,207.4 154.2,187.8 159,198.1 176.6,195.6" fill="none" stroke="#3577C6" stroke-width="0.9" stroke-linejoin="round" stroke-linecap="round"/>
<polyline points="142.1,207.2 151.7,208.2" fill="none" stroke="#3577C6" stroke-width="0.9" stroke-linejoin="round" stroke-linecap="round"/>
<polyline points="148.7,209.9 169.6,218.8 165.5,240.2" fill="none" stroke="#3577C6" stroke-width="0.9" stroke-linejoin="round" stroke-linecap="round"/>
<polyline points="162.8,241.8 171.6,241.8" fill="none" stroke="#3577C6" stroke-width="0.9" stroke-linejoin="round" stroke-linecap="round"/>
<polyline points="148.2,207.9 153.2,187.8 158.2,199.4 175.9,196.9" fill="none" stroke="#6231B0" stroke-width="0.9" stroke-linejoin="round" stroke-linecap="round"/>
<polyline points="141.1,207.9 150.7,208.7" fill="none" stroke="#6231B0" stroke-width="0.9" stroke-linejoin="round" stroke-linecap="round"/>
<polyline points="147.7,210.5 168.8,219.3 164.5,240.7" fill="none" stroke="#6231B0" stroke-width="0.9" stroke-linejoin="round" stroke-linecap="round"/>
<polyline points="162,241.9 170.8,241.9" fill="none" stroke="#6231B0" stroke-width="0.9" stroke-linejoin="round" stroke-linecap="round"/>
<circle cx="162.8" cy="179.5" r="0.95" fill="#6231B0"/>
<circle cx="160.3" cy="177.2" r="0.95" fill="#3577C6"/>
<line x1="152.6" y1="202.7" x2="157.2" y2="202.7" stroke="#3577C6" stroke-width="0.7"/>
<line x1="153.2" y1="201.1" x2="156.5" y2="204.3" stroke="#3577C6" stroke-width="0.7"/>
<line x1="154.9" y1="200.4" x2="154.9" y2="205" stroke="#3577C6" stroke-width="0.7"/>
<line x1="156.5" y1="201.1" x2="153.2" y2="204.3" stroke="#3577C6" stroke-width="0.7"/>
<line x1="152.2" y1="202.9" x2="156.8" y2="202.9" stroke="#6231B0" stroke-width="0.7"/>
<line x1="152.8" y1="201.3" x2="156.1" y2="204.5" stroke="#6231B0" stroke-width="0.7"/>
<line x1="154.5" y1="200.6" x2="154.5" y2="205.2" stroke="#6231B0" stroke-width="0.7"/>
<line x1="156.1" y1="201.3" x2="152.8" y2="204.5" stroke="#6231B0" stroke-width="0.7"/>
<circle cx="154.7" cy="202.8" r="1.15" fill="#5358BE"/>
<polyline points="208.6,206.2 217.2,187.8 219.2,197.9 234.6,195.6" fill="none" stroke="#3577C6" stroke-width="0.9" stroke-linejoin="round" stroke-linecap="round"/>
<polyline points="201.3,205.9 211.6,207.7" fill="none" stroke="#3577C6" stroke-width="0.9" stroke-linejoin="round" stroke-linecap="round"/>
<polyline points="207.9,209.4 228.3,219.5 224.2,240.2" fill="none" stroke="#3577C6" stroke-width="0.9" stroke-linejoin="round" stroke-linecap="round"/>
<polyline points="221.5,241.8 230,241.3" fill="none" stroke="#3577C6" stroke-width="0.9" stroke-linejoin="round" stroke-linecap="round"/>
<polyline points="207.4,206.7 216.2,187.8 218.2,199.1 233.8,196.9" fill="none" stroke="#6231B0" stroke-width="0.9" stroke-linejoin="round" stroke-linecap="round"/>
<polyline points="200.3,206.7 210.6,208.4" fill="none" stroke="#6231B0" stroke-width="0.9" stroke-linejoin="round" stroke-linecap="round"/>
<polyline points="206.9,209.9 227.5,220 223.2,240.7" fill="none" stroke="#6231B0" stroke-width="0.9" stroke-linejoin="round" stroke-linecap="round"/>
<polyline points="220.7,241.9 229.3,241.4" fill="none" stroke="#6231B0" stroke-width="0.9" stroke-linejoin="round" stroke-linecap="round"/>
<circle cx="226.8" cy="182" r="0.95" fill="#6231B0"/>
<circle cx="225" cy="179.7" r="0.95" fill="#3577C6"/>
<line x1="213" y1="202.7" x2="217.6" y2="202.7" stroke="#3577C6" stroke-width="0.7"/>
<line x1="213.7" y1="201.1" x2="216.9" y2="204.3" stroke="#3577C6" stroke-width="0.7"/>
<line x1="215.3" y1="200.4" x2="215.3" y2="205" stroke="#3577C6" stroke-width="0.7"/>
<line x1="216.9" y1="201.1" x2="213.7" y2="204.3" stroke="#3577C6" stroke-width="0.7"/>
<line x1="212.6" y1="202.9" x2="217.2" y2="202.9" stroke="#6231B0" stroke-width="0.7"/>
<line x1="213.3" y1="201.3" x2="216.5" y2="204.5" stroke="#6231B0" stroke-width="0.7"/>
<line x1="214.9" y1="200.6" x2="214.9" y2="205.2" stroke="#6231B0" stroke-width="0.7"/>
<line x1="216.5" y1="201.3" x2="213.3" y2="204.5" stroke="#6231B0" stroke-width="0.7"/>
<circle cx="215.1" cy="202.8" r="1.15" fill="#5358BE"/>
<polyline points="270.2,205.9 281.8,187.3 277.8,196.3 292.9,195.8" fill="none" stroke="#3577C6" stroke-width="0.9" stroke-linejoin="round" stroke-linecap="round"/>
<polyline points="263.4,203.1 272.7,208.2" fill="none" stroke="#3577C6" stroke-width="0.9" stroke-linejoin="round" stroke-linecap="round"/>
<polyline points="267.5,209.2 288.1,219.5 282.6,240.7" fill="none" stroke="#3577C6" stroke-width="0.9" stroke-linejoin="round" stroke-linecap="round"/>
<polyline points="279.8,243 288.6,241.3" fill="none" stroke="#3577C6" stroke-width="0.9" stroke-linejoin="round" stroke-linecap="round"/>
<polyline points="269,206.7 280.3,189.8 276.5,197.9 290.4,197.9" fill="none" stroke="#6231B0" stroke-width="0.9" stroke-linejoin="round" stroke-linecap="round"/>
<polyline points="262.2,204.2 271.5,209.2" fill="none" stroke="#6231B0" stroke-width="0.9" stroke-linejoin="round" stroke-linecap="round"/>
<polyline points="266.4,209.7 287.4,220 281.6,241.2" fill="none" stroke="#6231B0" stroke-width="0.9" stroke-linejoin="round" stroke-linecap="round"/>
<polyline points="279,243.2 287.9,241.4" fill="none" stroke="#6231B0" stroke-width="0.9" stroke-linejoin="round" stroke-linecap="round"/>
<circle cx="291.9" cy="185.3" r="0.95" fill="#6231B0"/>
<circle cx="289.6" cy="181.5" r="0.95" fill="#3577C6"/>
<line x1="274.6" y1="203.2" x2="279.2" y2="203.2" stroke="#3577C6" stroke-width="0.7"/>
<line x1="275.3" y1="201.6" x2="278.6" y2="204.8" stroke="#3577C6" stroke-width="0.7"/>
<line x1="276.9" y1="200.9" x2="276.9" y2="205.5" stroke="#3577C6" stroke-width="0.7"/>
<line x1="278.6" y1="201.6" x2="275.3" y2="204.8" stroke="#3577C6" stroke-width="0.7"/>
<line x1="274.2" y1="203.4" x2="278.8" y2="203.4" stroke="#6231B0" stroke-width="0.7"/>
<line x1="274.9" y1="201.8" x2="278.2" y2="205" stroke="#6231B0" stroke-width="0.7"/>
<line x1="276.5" y1="201.1" x2="276.5" y2="205.7" stroke="#6231B0" stroke-width="0.7"/>
<line x1="278.2" y1="201.8" x2="274.9" y2="205" stroke="#6231B0" stroke-width="0.7"/>
<circle cx="276.7" cy="203.3" r="1.15" fill="#5358BE"/>
<polyline points="330.6,205.8 344.4,187.1 335.6,192.5 351.4,195.7 347.6,197.2" fill="none" stroke="#3577C6" stroke-width="0.9" stroke-linejoin="round" stroke-linecap="round"/>
<polyline points="324.5,202.7 333.2,207.6" fill="none" stroke="#3577C6" stroke-width="0.9" stroke-linejoin="round" stroke-linecap="round"/>
<polyline points="329.1,209 347.8,220.5 341.2,240.3" fill="none" stroke="#3577C6" stroke-width="0.9" stroke-linejoin="round" stroke-linecap="round"/>
<polyline points="338.4,243.6 346.5,241.1" fill="none" stroke="#3577C6" stroke-width="0.9" stroke-linejoin="round" stroke-linecap="round"/>
<polyline points="331.2,206.3 346.3,190.6 335.4,193.7 349.5,197.6 345.5,198.7 341.9,196.9" fill="none" stroke="#6231B0" stroke-width="0.9" stroke-linejoin="round" stroke-linecap="round"/>
<polyline points="323.7,203.5 332.5,208.5" fill="none" stroke="#6231B0" stroke-width="0.9" stroke-linejoin="round" stroke-linecap="round"/>
<polyline points="328.2,209.7 347.1,221 340.3,240.7" fill="none" stroke="#6231B0" stroke-width="0.9" stroke-linejoin="round" stroke-linecap="round"/>
<polyline points="337.7,243.7 345.8,241.2" fill="none" stroke="#6231B0" stroke-width="0.9" stroke-linejoin="round" stroke-linecap="round"/>
<circle cx="356.7" cy="188.5" r="0.95" fill="#6231B0"/>
<circle cx="353" cy="182.8" r="0.95" fill="#3577C6"/>
<line x1="336.9" y1="203.3" x2="341.5" y2="203.3" stroke="#3577C6" stroke-width="0.7"/>
<line x1="337.6" y1="201.7" x2="340.8" y2="204.9" stroke="#3577C6" stroke-width="0.7"/>
<line x1="339.2" y1="201" x2="339.2" y2="205.6" stroke="#3577C6" stroke-width="0.7"/>
<line x1="340.8" y1="201.7" x2="337.6" y2="204.9" stroke="#3577C6" stroke-width="0.7"/>
<line x1="336.5" y1="203.5" x2="341.1" y2="203.5" stroke="#6231B0" stroke-width="0.7"/>
<line x1="337.2" y1="201.9" x2="340.4" y2="205.1" stroke="#6231B0" stroke-width="0.7"/>
<line x1="338.8" y1="201.2" x2="338.8" y2="205.8" stroke="#6231B0" stroke-width="0.7"/>
<line x1="340.4" y1="201.9" x2="337.2" y2="205.1" stroke="#6231B0" stroke-width="0.7"/>
<circle cx="339" cy="203.4" r="1.15" fill="#5358BE"/>
<polyline points="391.7,205.8 404.9,185.2 395.5,190.9 409.3,195.9 404.9,197.2" fill="none" stroke="#3577C6" stroke-width="0.9" stroke-linejoin="round" stroke-linecap="round"/>
<polyline points="385.6,201.5 394.3,207.6" fill="none" stroke="#3577C6" stroke-width="0.9" stroke-linejoin="round" stroke-linecap="round"/>
<polyline points="391.6,209 408.3,221.2 400.9,240.3" fill="none" stroke="#3577C6" stroke-width="0.9" stroke-linejoin="round" stroke-linecap="round"/>
<polyline points="398.1,243.6 405.7,240.6" fill="none" stroke="#3577C6" stroke-width="0.9" stroke-linejoin="round" stroke-linecap="round"/>
<polyline points="392.3,206.3 402.6,192.2 395.5,190.9 408.4,190.6 401.1,195.9 408.1,196.9" fill="none" stroke="#6231B0" stroke-width="0.9" stroke-linejoin="round" stroke-linecap="round"/>
<polyline points="384.8,202.2 393.6,208.5" fill="none" stroke="#6231B0" stroke-width="0.9" stroke-linejoin="round" stroke-linecap="round"/>
<polyline points="390.6,209.7 407.5,221.8 400,240.7" fill="none" stroke="#6231B0" stroke-width="0.9" stroke-linejoin="round" stroke-linecap="round"/>
<polyline points="397.4,243.7 405,240.7" fill="none" stroke="#6231B0" stroke-width="0.9" stroke-linejoin="round" stroke-linecap="round"/>
<circle cx="419.4" cy="189.8" r="0.95" fill="#6231B0"/>
<circle cx="414" cy="180.8" r="0.95" fill="#3577C6"/>
<line x1="398.2" y1="203" x2="402.8" y2="203" stroke="#3577C6" stroke-width="0.7"/>
<line x1="398.9" y1="201.4" x2="402.1" y2="204.7" stroke="#3577C6" stroke-width="0.7"/>
<line x1="400.5" y1="200.7" x2="400.5" y2="205.3" stroke="#3577C6" stroke-width="0.7"/>
<line x1="402.1" y1="201.4" x2="398.9" y2="204.7" stroke="#3577C6" stroke-width="0.7"/>
<line x1="397.8" y1="203.2" x2="402.4" y2="203.2" stroke="#6231B0" stroke-width="0.7"/>
<line x1="398.5" y1="201.6" x2="401.7" y2="204.9" stroke="#6231B0" stroke-width="0.7"/>
<line x1="400.1" y1="200.9" x2="400.1" y2="205.5" stroke="#6231B0" stroke-width="0.7"/>
<line x1="401.7" y1="201.6" x2="398.5" y2="204.9" stroke="#6231B0" stroke-width="0.7"/>
<circle cx="400.3" cy="203.1" r="1.15" fill="#5358BE"/>
<polyline points="452.5,203.9 463.8,182.5 454.1,188.8 462.6,195.1 468.2,195.5" fill="none" stroke="#3577C6" stroke-width="0.9" stroke-linejoin="round" stroke-linecap="round"/>
<polyline points="446.2,198.5 454.5,204.6" fill="none" stroke="#3577C6" stroke-width="0.9" stroke-linejoin="round" stroke-linecap="round"/>
<polyline points="451.6,205.3 467.3,221.3 458.8,240.3" fill="none" stroke="#3577C6" stroke-width="0.9" stroke-linejoin="round" stroke-linecap="round"/>
<polyline points="456,242.7 464.1,240.6" fill="none" stroke="#3577C6" stroke-width="0.9" stroke-linejoin="round" stroke-linecap="round"/>
<polyline points="452.9,204.8 460.7,190.7 455,189.2 468.2,188.2 460.9,196.7 466.7,197.2" fill="none" stroke="#6231B0" stroke-width="0.9" stroke-linejoin="round" stroke-linecap="round"/>
<polyline points="445.3,199.2 453.7,205.5" fill="none" stroke="#6231B0" stroke-width="0.9" stroke-linejoin="round" stroke-linecap="round"/>
<polyline points="450.7,205.9 466.6,221.8 457.8,240.7" fill="none" stroke="#6231B0" stroke-width="0.9" stroke-linejoin="round" stroke-linecap="round"/>
<polyline points="455.3,242.7 463.3,240.7" fill="none" stroke="#6231B0" stroke-width="0.9" stroke-linejoin="round" stroke-linecap="round"/>
<circle cx="479.8" cy="187.8" r="0.95" fill="#6231B0"/>
<circle cx="472.8" cy="176.7" r="0.95" fill="#3577C6"/>
<line x1="458.5" y1="201.6" x2="463.1" y2="201.6" stroke="#3577C6" stroke-width="0.7"/>
<line x1="459.2" y1="199.9" x2="462.4" y2="203.2" stroke="#3577C6" stroke-width="0.7"/>
<line x1="460.8" y1="199.3" x2="460.8" y2="203.9" stroke="#3577C6" stroke-width="0.7"/>
<line x1="462.4" y1="199.9" x2="459.2" y2="203.2" stroke="#3577C6" stroke-width="0.7"/>
<line x1="458.1" y1="201.8" x2="462.7" y2="201.8" stroke="#6231B0" stroke-width="0.7"/>
<line x1="458.8" y1="200.1" x2="462" y2="203.4" stroke="#6231B0" stroke-width="0.7"/>
<line x1="460.4" y1="199.5" x2="460.4" y2="204.1" stroke="#6231B0" stroke-width="0.7"/>
<line x1="462" y1="200.1" x2="458.8" y2="203.4" stroke="#6231B0" stroke-width="0.7"/>
<circle cx="460.6" cy="201.7" r="1.15" fill="#5358BE"/>
<polyline points="512.9,198.9 522.1,179.3 512.9,187.5 520.5,193.8 526.2,195.1" fill="none" stroke="#3577C6" stroke-width="0.9" stroke-linejoin="round" stroke-linecap="round"/>
<polyline points="506.3,196 515,200.9" fill="none" stroke="#3577C6" stroke-width="0.9" stroke-linejoin="round" stroke-linecap="round"/>
<polyline points="511.6,202.8 525.3,220 518,239.8" fill="none" stroke="#3577C6" stroke-width="0.9" stroke-linejoin="round" stroke-linecap="round"/>
<polyline points="513.4,242.7 522,241.4" fill="none" stroke="#3577C6" stroke-width="0.9" stroke-linejoin="round" stroke-linecap="round"/>
<polyline points="513.3,199.7 520.5,186.9 514.2,188.2 527.4,184.4 517.1,197.2 524.9,197.6" fill="none" stroke="#6231B0" stroke-width="0.9" stroke-linejoin="round" stroke-linecap="round"/>
<polyline points="505.4,196.7 514.2,201.8" fill="none" stroke="#6231B0" stroke-width="0.9" stroke-linejoin="round" stroke-linecap="round"/>
<polyline points="510.7,203.4 524.5,220.5 517,240.2" fill="none" stroke="#6231B0" stroke-width="0.9" stroke-linejoin="round" stroke-linecap="round"/>
<polyline points="512.7,242.7 521.3,241.4" fill="none" stroke="#6231B0" stroke-width="0.9" stroke-linejoin="round" stroke-linecap="round"/>
<circle cx="538.9" cy="183.2" r="0.95" fill="#6231B0"/>
<circle cx="531.1" cy="172.3" r="0.95" fill="#3577C6"/>
<line x1="517.7" y1="198.7" x2="522.3" y2="198.7" stroke="#3577C6" stroke-width="0.7"/>
<line x1="518.4" y1="197" x2="521.6" y2="200.3" stroke="#3577C6" stroke-width="0.7"/>
<line x1="520" y1="196.4" x2="520" y2="201" stroke="#3577C6" stroke-width="0.7"/>
<line x1="521.6" y1="197" x2="518.4" y2="200.3" stroke="#3577C6" stroke-width="0.7"/>
<line x1="517.3" y1="198.9" x2="521.9" y2="198.9" stroke="#6231B0" stroke-width="0.7"/>
<line x1="518" y1="197.2" x2="521.2" y2="200.5" stroke="#6231B0" stroke-width="0.7"/>
<line x1="519.6" y1="196.6" x2="519.6" y2="201.2" stroke="#6231B0" stroke-width="0.7"/>
<line x1="521.2" y1="197.2" x2="518" y2="200.5" stroke="#6231B0" stroke-width="0.7"/>
<circle cx="519.8" cy="198.8" r="1.15" fill="#5358BE"/>
<polyline points="573.4,195.8 581.2,175.2 572.4,186.5 581.2,184 574.9,192.8 582.5,195.3" fill="none" stroke="#3577C6" stroke-width="0.9" stroke-linejoin="round" stroke-linecap="round"/>
<polyline points="566.9,193.8 575.2,198.1" fill="none" stroke="#3577C6" stroke-width="0.9" stroke-linejoin="round" stroke-linecap="round"/>
<polyline points="571.6,201.1 582,220 575.2,239.7" fill="none" stroke="#3577C6" stroke-width="0.9" stroke-linejoin="round" stroke-linecap="round"/>
<polyline points="571.4,242.5 579.9,241.8" fill="none" stroke="#3577C6" stroke-width="0.9" stroke-linejoin="round" stroke-linecap="round"/>
<polyline points="572.4,196.6 585,180.7 576.2,194.1 583.7,196.3" fill="none" stroke="#6231B0" stroke-width="0.9" stroke-linejoin="round" stroke-linecap="round"/>
<polyline points="565.6,194.8 574.2,199.1" fill="none" stroke="#6231B0" stroke-width="0.9" stroke-linejoin="round" stroke-linecap="round"/>
<polyline points="570.6,201.6 581.2,220.5 574.2,240.2" fill="none" stroke="#6231B0" stroke-width="0.9" stroke-linejoin="round" stroke-linecap="round"/>
<polyline points="570.6,242.7 579.2,241.9" fill="none" stroke="#6231B0" stroke-width="0.9" stroke-linejoin="round" stroke-linecap="round"/>
<circle cx="596.3" cy="177.7" r="0.95" fill="#6231B0"/>
<circle cx="588.8" cy="168.1" r="0.95" fill="#3577C6"/>
<line x1="575.5" y1="195.6" x2="580.1" y2="195.6" stroke="#3577C6" stroke-width="0.7"/>
<line x1="576.2" y1="194" x2="579.5" y2="197.3" stroke="#3577C6" stroke-width="0.7"/>
<line x1="577.8" y1="193.3" x2="577.8" y2="197.9" stroke="#3577C6" stroke-width="0.7"/>
<line x1="579.5" y1="194" x2="576.2" y2="197.3" stroke="#3577C6" stroke-width="0.7"/>
<line x1="575.1" y1="195.8" x2="579.7" y2="195.8" stroke="#6231B0" stroke-width="0.7"/>
<line x1="575.8" y1="194.2" x2="579.1" y2="197.5" stroke="#6231B0" stroke-width="0.7"/>
<line x1="577.4" y1="193.5" x2="577.4" y2="198.1" stroke="#6231B0" stroke-width="0.7"/>
<line x1="579.1" y1="194.2" x2="575.8" y2="197.5" stroke="#6231B0" stroke-width="0.7"/>
<circle cx="577.6" cy="195.7" r="1.15" fill="#5358BE"/>
<polyline points="633,192.8 638.8,173.4 631.8,184.8 635.6,193.3 643.1,196.1" fill="none" stroke="#3577C6" stroke-width="0.9" stroke-linejoin="round" stroke-linecap="round"/>
<polyline points="626.7,191.8 635.3,195.6" fill="none" stroke="#3577C6" stroke-width="0.9" stroke-linejoin="round" stroke-linecap="round"/>
<polyline points="632.3,199.4 640.1,220 633.3,239.7" fill="none" stroke="#3577C6" stroke-width="0.9" stroke-linejoin="round" stroke-linecap="round"/>
<polyline points="629.5,242.5 638.1,242" fill="none" stroke="#3577C6" stroke-width="0.9" stroke-linejoin="round" stroke-linecap="round"/>
<polyline points="633.8,194.1 641.4,176.4 634.3,187.8 636.8,194.8 643.1,197.1" fill="none" stroke="#6231B0" stroke-width="0.9" stroke-linejoin="round" stroke-linecap="round"/>
<polyline points="625.5,192.8 634.3,196.6" fill="none" stroke="#6231B0" stroke-width="0.9" stroke-linejoin="round" stroke-linecap="round"/>
<polyline points="631.3,199.9 639.3,220.5 632.3,240.2" fill="none" stroke="#6231B0" stroke-width="0.9" stroke-linejoin="round" stroke-linecap="round"/>
<polyline points="628.8,242.7 637.3,242.2" fill="none" stroke="#6231B0" stroke-width="0.9" stroke-linejoin="round" stroke-linecap="round"/>
<circle cx="653.2" cy="171.9" r="0.95" fill="#6231B0"/>
<circle cx="645.9" cy="164.6" r="0.95" fill="#3577C6"/>
<line x1="632.4" y1="193.1" x2="637" y2="193.1" stroke="#3577C6" stroke-width="0.7"/>
<line x1="633.1" y1="191.5" x2="636.3" y2="194.8" stroke="#3577C6" stroke-width="0.7"/>
<line x1="634.7" y1="190.8" x2="634.7" y2="195.4" stroke="#3577C6" stroke-width="0.7"/>
<line x1="636.3" y1="191.5" x2="633.1" y2="194.8" stroke="#3577C6" stroke-width="0.7"/>
<line x1="632" y1="193.3" x2="636.6" y2="193.3" stroke="#6231B0" stroke-width="0.7"/>
<line x1="632.7" y1="191.7" x2="635.9" y2="195" stroke="#6231B0" stroke-width="0.7"/>
<line x1="634.3" y1="191" x2="634.3" y2="195.6" stroke="#6231B0" stroke-width="0.7"/>
<line x1="635.9" y1="191.7" x2="632.7" y2="195" stroke="#6231B0" stroke-width="0.7"/>
<circle cx="634.5" cy="193.2" r="1.15" fill="#5358BE"/>
<polyline points="691.7,190.8 696,171.7 689.2,183.5 694.3,192.3 701.8,196.1" fill="none" stroke="#3577C6" stroke-width="0.9" stroke-linejoin="round" stroke-linecap="round"/>
<polyline points="686.2,191.3 695.3,194.3" fill="none" stroke="#3577C6" stroke-width="0.9" stroke-linejoin="round" stroke-linecap="round"/>
<polyline points="692,197.9 698,218.8 692,239.7" fill="none" stroke="#3577C6" stroke-width="0.9" stroke-linejoin="round" stroke-linecap="round"/>
<polyline points="688,242.5 696.8,242" fill="none" stroke="#3577C6" stroke-width="0.9" stroke-linejoin="round" stroke-linecap="round"/>
<polyline points="693.5,191.6 697.8,173.9 691.7,185.3 695.3,193.3 701.8,197.1" fill="none" stroke="#6231B0" stroke-width="0.9" stroke-linejoin="round" stroke-linecap="round"/>
<polyline points="685.2,192.3 694.3,195.3" fill="none" stroke="#6231B0" stroke-width="0.9" stroke-linejoin="round" stroke-linecap="round"/>
<polyline points="691,198.4 697.3,219.3 691,240.2" fill="none" stroke="#6231B0" stroke-width="0.9" stroke-linejoin="round" stroke-linecap="round"/>
<polyline points="687.2,242.7 696,242.2" fill="none" stroke="#6231B0" stroke-width="0.9" stroke-linejoin="round" stroke-linecap="round"/>
<circle cx="709.1" cy="167.6" r="0.95" fill="#6231B0"/>
<circle cx="703.1" cy="161.8" r="0.95" fill="#3577C6"/>
<line x1="691.6" y1="190.1" x2="696.2" y2="190.1" stroke="#3577C6" stroke-width="0.7"/>
<line x1="692.3" y1="188.5" x2="695.5" y2="191.7" stroke="#3577C6" stroke-width="0.7"/>
<line x1="693.9" y1="187.8" x2="693.9" y2="192.4" stroke="#3577C6" stroke-width="0.7"/>
<line x1="695.5" y1="188.5" x2="692.3" y2="191.7" stroke="#3577C6" stroke-width="0.7"/>
<line x1="691.2" y1="190.3" x2="695.8" y2="190.3" stroke="#6231B0" stroke-width="0.7"/>
<line x1="691.9" y1="188.7" x2="695.1" y2="191.9" stroke="#6231B0" stroke-width="0.7"/>
<line x1="693.5" y1="188" x2="693.5" y2="192.6" stroke="#6231B0" stroke-width="0.7"/>
<line x1="695.1" y1="188.7" x2="691.9" y2="191.9" stroke="#6231B0" stroke-width="0.7"/>
<circle cx="693.7" cy="190.2" r="1.15" fill="#5358BE"/>
<polyline points="89.2,324.4 88.7,305.8 91.5,320.4" fill="none" stroke="#3577C6" stroke-width="0.9" stroke-linejoin="round" stroke-linecap="round"/>
<polyline points="91.2,306.5 100.3,312.8 112.9,315.3 115.9,319.4" fill="none" stroke="#3577C6" stroke-width="0.9" stroke-linejoin="round" stroke-linecap="round"/>
<polyline points="82.2,327.9 90.2,328.4" fill="none" stroke="#3577C6" stroke-width="0.9" stroke-linejoin="round" stroke-linecap="round"/>
<polyline points="90,329.9 111.1,337.5 106.9,357.7" fill="none" stroke="#3577C6" stroke-width="0.9" stroke-linejoin="round" stroke-linecap="round"/>
<polyline points="103.1,361 112.4,361" fill="none" stroke="#3577C6" stroke-width="0.9" stroke-linejoin="round" stroke-linecap="round"/>
<polyline points="88.2,324.9 89.7,305.3 97.3,317.1 114.2,315.8" fill="none" stroke="#6231B0" stroke-width="0.9" stroke-linejoin="round" stroke-linecap="round"/>
<polyline points="83.2,325.4 91.5,325.4" fill="none" stroke="#6231B0" stroke-width="0.9" stroke-linejoin="round" stroke-linecap="round"/>
<polyline points="89,330.5 110.4,338 105.8,358.2" fill="none" stroke="#6231B0" stroke-width="0.9" stroke-linejoin="round" stroke-linecap="round"/>
<polyline points="102.3,361.2 111.6,361.2" fill="none" stroke="#6231B0" stroke-width="0.9" stroke-linejoin="round" stroke-linecap="round"/>
<circle cx="100.3" cy="296.2" r="0.95" fill="#6231B0"/>
<circle cx="97.3" cy="296.2" r="0.95" fill="#3577C6"/>
<line x1="91.6" y1="321.9" x2="96.2" y2="321.9" stroke="#3577C6" stroke-width="0.7"/>
<line x1="92.3" y1="320.3" x2="95.5" y2="323.6" stroke="#3577C6" stroke-width="0.7"/>
<line x1="93.9" y1="319.6" x2="93.9" y2="324.2" stroke="#3577C6" stroke-width="0.7"/>
<line x1="95.5" y1="320.3" x2="92.3" y2="323.6" stroke="#3577C6" stroke-width="0.7"/>
<line x1="91.2" y1="322.1" x2="95.8" y2="322.1" stroke="#6231B0" stroke-width="0.7"/>
<line x1="91.9" y1="320.5" x2="95.1" y2="323.8" stroke="#6231B0" stroke-width="0.7"/>
<line x1="93.5" y1="319.8" x2="93.5" y2="324.4" stroke="#6231B0" stroke-width="0.7"/>
<line x1="95.1" y1="320.5" x2="91.9" y2="323.8" stroke="#6231B0" stroke-width="0.7"/>
<circle cx="93.7" cy="322" r="1.15" fill="#5358BE"/>
<polyline points="148.7,324.4 148.7,305.8 151.2,320.4" fill="none" stroke="#3577C6" stroke-width="0.9" stroke-linejoin="round" stroke-linecap="round"/>
<polyline points="151.2,306.5 159.5,312.8 172.1,315.3 174.9,319.4" fill="none" stroke="#3577C6" stroke-width="0.9" stroke-linejoin="round" stroke-linecap="round"/>
<polyline points="141.4,327.9 149.4,328.4" fill="none" stroke="#3577C6" stroke-width="0.9" stroke-linejoin="round" stroke-linecap="round"/>
<polyline points="149.2,329.9 170.3,337.5 165.5,357.7" fill="none" stroke="#3577C6" stroke-width="0.9" stroke-linejoin="round" stroke-linecap="round"/>
<polyline points="161.5,361 171.1,361" fill="none" stroke="#3577C6" stroke-width="0.9" stroke-linejoin="round" stroke-linecap="round"/>
<polyline points="147.7,324.9 149.7,305.3 157,317.1 172.8,315.3" fill="none" stroke="#6231B0" stroke-width="0.9" stroke-linejoin="round" stroke-linecap="round"/>
<polyline points="141.9,325.4 150.7,325.4" fill="none" stroke="#6231B0" stroke-width="0.9" stroke-linejoin="round" stroke-linecap="round"/>
<polyline points="148.2,330.5 169.6,338 164.5,358.2" fill="none" stroke="#6231B0" stroke-width="0.9" stroke-linejoin="round" stroke-linecap="round"/>
<polyline points="160.8,361.2 170.3,361.2" fill="none" stroke="#6231B0" stroke-width="0.9" stroke-linejoin="round" stroke-linecap="round"/>
<circle cx="161.5" cy="296.4" r="0.95" fill="#6231B0"/>
<circle cx="158.2" cy="296.4" r="0.95" fill="#3577C6"/>
<line x1="151.3" y1="321.9" x2="155.9" y2="321.9" stroke="#3577C6" stroke-width="0.7"/>
<line x1="152" y1="320.3" x2="155.2" y2="323.6" stroke="#3577C6" stroke-width="0.7"/>
<line x1="153.6" y1="319.6" x2="153.6" y2="324.2" stroke="#3577C6" stroke-width="0.7"/>
<line x1="155.2" y1="320.3" x2="152" y2="323.6" stroke="#3577C6" stroke-width="0.7"/>
<line x1="150.9" y1="322.1" x2="155.5" y2="322.1" stroke="#6231B0" stroke-width="0.7"/>
<line x1="151.6" y1="320.5" x2="154.8" y2="323.8" stroke="#6231B0" stroke-width="0.7"/>
<line x1="153.2" y1="319.8" x2="153.2" y2="324.4" stroke="#6231B0" stroke-width="0.7"/>
<line x1="154.8" y1="320.5" x2="151.6" y2="323.8" stroke="#6231B0" stroke-width="0.7"/>
<circle cx="153.4" cy="322" r="1.15" fill="#5358BE"/>
<polyline points="208.4,323.7 210.6,305.8 212.6,319.9" fill="none" stroke="#3577C6" stroke-width="0.9" stroke-linejoin="round" stroke-linecap="round"/>
<polyline points="213.1,306.5 219.9,312.8 231.3,315.8 233.8,319.9" fill="none" stroke="#3577C6" stroke-width="0.9" stroke-linejoin="round" stroke-linecap="round"/>
<polyline points="201.1,326.7 208.6,328.4" fill="none" stroke="#3577C6" stroke-width="0.9" stroke-linejoin="round" stroke-linecap="round"/>
<polyline points="209.1,329.4 228.3,338 224.7,358.2" fill="none" stroke="#3577C6" stroke-width="0.9" stroke-linejoin="round" stroke-linecap="round"/>
<polyline points="220.7,361.8 229.5,360.5" fill="none" stroke="#3577C6" stroke-width="0.9" stroke-linejoin="round" stroke-linecap="round"/>
<polyline points="207.4,324.2 211.9,305.3 216.2,317.1 232.5,315.8" fill="none" stroke="#6231B0" stroke-width="0.9" stroke-linejoin="round" stroke-linecap="round"/>
<polyline points="201.8,324.2 209.9,325.4" fill="none" stroke="#6231B0" stroke-width="0.9" stroke-linejoin="round" stroke-linecap="round"/>
<polyline points="208.1,329.9 227.5,338.5 223.7,358.7" fill="none" stroke="#6231B0" stroke-width="0.9" stroke-linejoin="round" stroke-linecap="round"/>
<polyline points="219.9,361.9 228.8,360.7" fill="none" stroke="#6231B0" stroke-width="0.9" stroke-linejoin="round" stroke-linecap="round"/>
<circle cx="225" cy="298.2" r="0.95" fill="#6231B0"/>
<circle cx="222" cy="297.7" r="0.95" fill="#3577C6"/>
<line x1="212.3" y1="321.9" x2="216.9" y2="321.9" stroke="#3577C6" stroke-width="0.7"/>
<line x1="212.9" y1="320.3" x2="216.2" y2="323.6" stroke="#3577C6" stroke-width="0.7"/>
<line x1="214.6" y1="319.6" x2="214.6" y2="324.2" stroke="#3577C6" stroke-width="0.7"/>
<line x1="216.2" y1="320.3" x2="212.9" y2="323.6" stroke="#3577C6" stroke-width="0.7"/>
<line x1="211.9" y1="322.1" x2="216.5" y2="322.1" stroke="#6231B0" stroke-width="0.7"/>
<line x1="212.5" y1="320.5" x2="215.8" y2="323.8" stroke="#6231B0" stroke-width="0.7"/>
<line x1="214.2" y1="319.8" x2="214.2" y2="324.4" stroke="#6231B0" stroke-width="0.7"/>
<line x1="215.8" y1="320.5" x2="212.5" y2="323.8" stroke="#6231B0" stroke-width="0.7"/>
<circle cx="214.4" cy="322" r="1.15" fill="#5358BE"/>
<polyline points="269.5,323.5 275.8,304.6 278.3,312.8 287.7,315.3 291.8,319.7" fill="none" stroke="#3577C6" stroke-width="0.9" stroke-linejoin="round" stroke-linecap="round"/>
<polyline points="263.8,324.1 270.7,326.6" fill="none" stroke="#3577C6" stroke-width="0.9" stroke-linejoin="round" stroke-linecap="round"/>
<polyline points="268.1,329.4 287.4,338 282.5,358.2" fill="none" stroke="#3577C6" stroke-width="0.9" stroke-linejoin="round" stroke-linecap="round"/>
<polyline points="278.9,362.6 288,360.6" fill="none" stroke="#3577C6" stroke-width="0.9" stroke-linejoin="round" stroke-linecap="round"/>
<polyline points="268.9,324.1 279.6,305.2 273.9,315.9 288.8,317.2" fill="none" stroke="#6231B0" stroke-width="0.9" stroke-linejoin="round" stroke-linecap="round"/>
<polyline points="263.2,322.9 271.4,325.8" fill="none" stroke="#6231B0" stroke-width="0.9" stroke-linejoin="round" stroke-linecap="round"/>
<polyline points="267.2,329.9 286.6,338.5 281.6,358.7" fill="none" stroke="#6231B0" stroke-width="0.9" stroke-linejoin="round" stroke-linecap="round"/>
<polyline points="278.3,362.7 287.4,360.7" fill="none" stroke="#6231B0" stroke-width="0.9" stroke-linejoin="round" stroke-linecap="round"/>
<circle cx="290" cy="299.8" r="0.95" fill="#6231B0"/>
<circle cx="286.5" cy="298.5" r="0.95" fill="#3577C6"/>
<line x1="273.5" y1="321.6" x2="278.1" y2="321.6" stroke="#3577C6" stroke-width="0.7"/>
<line x1="274.2" y1="320" x2="277.4" y2="323.3" stroke="#3577C6" stroke-width="0.7"/>
<line x1="275.8" y1="319.3" x2="275.8" y2="323.9" stroke="#3577C6" stroke-width="0.7"/>
<line x1="277.4" y1="320" x2="274.2" y2="323.3" stroke="#3577C6" stroke-width="0.7"/>
<line x1="273.1" y1="321.8" x2="277.7" y2="321.8" stroke="#6231B0" stroke-width="0.7"/>
<line x1="273.8" y1="320.2" x2="277" y2="323.5" stroke="#6231B0" stroke-width="0.7"/>
<line x1="275.4" y1="319.5" x2="275.4" y2="324.1" stroke="#6231B0" stroke-width="0.7"/>
<line x1="277" y1="320.2" x2="273.8" y2="323.5" stroke="#6231B0" stroke-width="0.7"/>
<circle cx="275.6" cy="321.7" r="1.15" fill="#5358BE"/>
<polyline points="331.8,323.5 338.1,304 340.6,312.2 348.8,315.9 351.3,319.7" fill="none" stroke="#3577C6" stroke-width="0.9" stroke-linejoin="round" stroke-linecap="round"/>
<polyline points="326.3,321.5 333.1,325.2" fill="none" stroke="#3577C6" stroke-width="0.9" stroke-linejoin="round" stroke-linecap="round"/>
<polyline points="329.1,328.6 347.8,338 341.1,359" fill="none" stroke="#3577C6" stroke-width="0.9" stroke-linejoin="round" stroke-linecap="round"/>
<polyline points="338.4,363.1 346.4,361.1" fill="none" stroke="#3577C6" stroke-width="0.9" stroke-linejoin="round" stroke-linecap="round"/>
<polyline points="331.2,324.1 341.9,309.6" fill="none" stroke="#6231B0" stroke-width="0.9" stroke-linejoin="round" stroke-linecap="round"/>
<polyline points="333.1,311.5 345.7,307.1 335.6,317.2" fill="none" stroke="#6231B0" stroke-width="0.9" stroke-linejoin="round" stroke-linecap="round"/>
<polyline points="333.7,312.2 348.2,317.8" fill="none" stroke="#6231B0" stroke-width="0.9" stroke-linejoin="round" stroke-linecap="round"/>
<polyline points="325.5,322.2 332.5,326" fill="none" stroke="#6231B0" stroke-width="0.9" stroke-linejoin="round" stroke-linecap="round"/>
<polyline points="328.2,329.2 347.1,338.5 340.3,359.4" fill="none" stroke="#6231B0" stroke-width="0.9" stroke-linejoin="round" stroke-linecap="round"/>
<polyline points="337.7,363.2 345.8,361.2" fill="none" stroke="#6231B0" stroke-width="0.9" stroke-linejoin="round" stroke-linecap="round"/>
<circle cx="354.5" cy="301.4" r="0.95" fill="#6231B0"/>
<circle cx="350.3" cy="298.5" r="0.95" fill="#3577C6"/>
<line x1="335.6" y1="321.6" x2="340.2" y2="321.6" stroke="#3577C6" stroke-width="0.7"/>
<line x1="336.3" y1="320" x2="339.5" y2="323.3" stroke="#3577C6" stroke-width="0.7"/>
<line x1="337.9" y1="319.3" x2="337.9" y2="323.9" stroke="#3577C6" stroke-width="0.7"/>
<line x1="339.5" y1="320" x2="336.3" y2="323.3" stroke="#3577C6" stroke-width="0.7"/>
<line x1="335.2" y1="321.8" x2="339.8" y2="321.8" stroke="#6231B0" stroke-width="0.7"/>
<line x1="335.9" y1="320.2" x2="339.1" y2="323.5" stroke="#6231B0" stroke-width="0.7"/>
<line x1="337.5" y1="319.5" x2="337.5" y2="324.1" stroke="#6231B0" stroke-width="0.7"/>
<line x1="339.1" y1="320.2" x2="335.9" y2="323.5" stroke="#6231B0" stroke-width="0.7"/>
<circle cx="337.7" cy="321.7" r="1.15" fill="#5358BE"/>
<polyline points="393.3,322 400.8,303.1 398.9,309.4 406.5,314.4 409.6,320.1" fill="none" stroke="#3577C6" stroke-width="0.9" stroke-linejoin="round" stroke-linecap="round"/>
<polyline points="387.2,320 395.2,324.3" fill="none" stroke="#3577C6" stroke-width="0.9" stroke-linejoin="round" stroke-linecap="round"/>
<polyline points="391,327.2 408.2,338 400.2,359" fill="none" stroke="#3577C6" stroke-width="0.9" stroke-linejoin="round" stroke-linecap="round"/>
<polyline points="397.4,363.7 405.7,361.1" fill="none" stroke="#3577C6" stroke-width="0.9" stroke-linejoin="round" stroke-linecap="round"/>
<polyline points="392.6,322.6 402.1,306.9" fill="none" stroke="#6231B0" stroke-width="0.9" stroke-linejoin="round" stroke-linecap="round"/>
<polyline points="394.5,308.2 408.4,307.5 395.8,321" fill="none" stroke="#6231B0" stroke-width="0.9" stroke-linejoin="round" stroke-linecap="round"/>
<polyline points="395.2,308.8 406.5,317.6" fill="none" stroke="#6231B0" stroke-width="0.9" stroke-linejoin="round" stroke-linecap="round"/>
<polyline points="386.3,320.7 394.5,325.2" fill="none" stroke="#6231B0" stroke-width="0.9" stroke-linejoin="round" stroke-linecap="round"/>
<polyline points="389.9,327.9 407.5,338.5 399.2,359.4" fill="none" stroke="#6231B0" stroke-width="0.9" stroke-linejoin="round" stroke-linecap="round"/>
<polyline points="396.7,363.7 405,361.2" fill="none" stroke="#6231B0" stroke-width="0.9" stroke-linejoin="round" stroke-linecap="round"/>
<circle cx="416.6" cy="301" r="0.95" fill="#6231B0"/>
<circle cx="412.2" cy="297.1" r="0.95" fill="#3577C6"/>
<line x1="397" y1="320.8" x2="401.6" y2="320.8" stroke="#3577C6" stroke-width="0.7"/>
<line x1="397.7" y1="319.2" x2="401" y2="322.4" stroke="#3577C6" stroke-width="0.7"/>
<line x1="399.3" y1="318.5" x2="399.3" y2="323.1" stroke="#3577C6" stroke-width="0.7"/>
<line x1="401" y1="319.2" x2="397.7" y2="322.4" stroke="#3577C6" stroke-width="0.7"/>
<line x1="396.6" y1="321" x2="401.2" y2="321" stroke="#6231B0" stroke-width="0.7"/>
<line x1="397.3" y1="319.4" x2="400.6" y2="322.6" stroke="#6231B0" stroke-width="0.7"/>
<line x1="398.9" y1="318.7" x2="398.9" y2="323.3" stroke="#6231B0" stroke-width="0.7"/>
<line x1="400.6" y1="319.4" x2="397.3" y2="322.6" stroke="#6231B0" stroke-width="0.7"/>
<circle cx="399.1" cy="320.9" r="1.15" fill="#5358BE"/>
<polyline points="453.7,320.4 461.3,300.6 458.1,309.4 465.7,315.1 468.8,319.5" fill="none" stroke="#3577C6" stroke-width="0.9" stroke-linejoin="round" stroke-linecap="round"/>
<polyline points="448.3,316.8 456.4,321.1" fill="none" stroke="#3577C6" stroke-width="0.9" stroke-linejoin="round" stroke-linecap="round"/>
<polyline points="450.2,326.7 466.6,340.5 458.8,358.9" fill="none" stroke="#3577C6" stroke-width="0.9" stroke-linejoin="round" stroke-linecap="round"/>
<polyline points="454.7,361.9 464,361.9" fill="none" stroke="#3577C6" stroke-width="0.9" stroke-linejoin="round" stroke-linecap="round"/>
<polyline points="453.1,321 461.9,305.6" fill="none" stroke="#6231B0" stroke-width="0.9" stroke-linejoin="round" stroke-linecap="round"/>
<polyline points="455,306.9 468.8,304.4 455.6,320.1" fill="none" stroke="#6231B0" stroke-width="0.9" stroke-linejoin="round" stroke-linecap="round"/>
<polyline points="455.6,307.5 465.7,317.6" fill="none" stroke="#6231B0" stroke-width="0.9" stroke-linejoin="round" stroke-linecap="round"/>
<polyline points="447.4,317.6 455.6,322" fill="none" stroke="#6231B0" stroke-width="0.9" stroke-linejoin="round" stroke-linecap="round"/>
<polyline points="451.5,325.4 467.4,339.3 457.8,359.4" fill="none" stroke="#6231B0" stroke-width="0.9" stroke-linejoin="round" stroke-linecap="round"/>
<polyline points="454,361.9 463.3,361.9" fill="none" stroke="#6231B0" stroke-width="0.9" stroke-linejoin="round" stroke-linecap="round"/>
<circle cx="475.9" cy="297.2" r="0.95" fill="#6231B0"/>
<circle cx="472.6" cy="293.7" r="0.95" fill="#3577C6"/>
<line x1="457.7" y1="319" x2="462.3" y2="319" stroke="#3577C6" stroke-width="0.7"/>
<line x1="458.4" y1="317.4" x2="461.7" y2="320.7" stroke="#3577C6" stroke-width="0.7"/>
<line x1="460" y1="316.7" x2="460" y2="321.3" stroke="#3577C6" stroke-width="0.7"/>
<line x1="461.7" y1="317.4" x2="458.4" y2="320.7" stroke="#3577C6" stroke-width="0.7"/>
<line x1="457.3" y1="319.2" x2="461.9" y2="319.2" stroke="#6231B0" stroke-width="0.7"/>
<line x1="458" y1="317.6" x2="461.3" y2="320.9" stroke="#6231B0" stroke-width="0.7"/>
<line x1="459.6" y1="316.9" x2="459.6" y2="321.5" stroke="#6231B0" stroke-width="0.7"/>
<line x1="461.3" y1="317.6" x2="458" y2="320.9" stroke="#6231B0" stroke-width="0.7"/>
<circle cx="459.8" cy="319.1" r="1.15" fill="#5358BE"/>
<polyline points="515.2,317 520.2,296.9 516.4,306.3 518.3,312 524.6,315.2 527.5,319.6" fill="none" stroke="#3577C6" stroke-width="0.9" stroke-linejoin="round" stroke-linecap="round"/>
<polyline points="509.5,314.6 517.2,318.1" fill="none" stroke="#3577C6" stroke-width="0.9" stroke-linejoin="round" stroke-linecap="round"/>
<polyline points="511.2,322.9 525.8,341 518,358.9" fill="none" stroke="#3577C6" stroke-width="0.9" stroke-linejoin="round" stroke-linecap="round"/>
<polyline points="513.4,361.9 522,361.9" fill="none" stroke="#3577C6" stroke-width="0.9" stroke-linejoin="round" stroke-linecap="round"/>
<polyline points="515.8,316.4 528.8,300.4 516.4,305.1" fill="none" stroke="#6231B0" stroke-width="0.9" stroke-linejoin="round" stroke-linecap="round"/>
<polyline points="518.3,314.5 523.3,318.3" fill="none" stroke="#6231B0" stroke-width="0.9" stroke-linejoin="round" stroke-linecap="round"/>
<polyline points="508.6,315.4 516.4,318.9" fill="none" stroke="#6231B0" stroke-width="0.9" stroke-linejoin="round" stroke-linecap="round"/>
<polyline points="511.9,321.6 527.1,340 517,359.4" fill="none" stroke="#6231B0" stroke-width="0.9" stroke-linejoin="round" stroke-linecap="round"/>
<polyline points="512.7,361.9 521.3,361.9" fill="none" stroke="#6231B0" stroke-width="0.9" stroke-linejoin="round" stroke-linecap="round"/>
<circle cx="534.3" cy="291.9" r="0.95" fill="#6231B0"/>
<circle cx="531.8" cy="289.6" r="0.95" fill="#3577C6"/>
<line x1="518.3" y1="316.2" x2="522.9" y2="316.2" stroke="#3577C6" stroke-width="0.7"/>
<line x1="519" y1="314.6" x2="522.2" y2="317.8" stroke="#3577C6" stroke-width="0.7"/>
<line x1="520.6" y1="313.9" x2="520.6" y2="318.5" stroke="#3577C6" stroke-width="0.7"/>
<line x1="522.2" y1="314.6" x2="519" y2="317.8" stroke="#3577C6" stroke-width="0.7"/>
<line x1="517.9" y1="316.4" x2="522.5" y2="316.4" stroke="#6231B0" stroke-width="0.7"/>
<line x1="518.6" y1="314.8" x2="521.8" y2="318" stroke="#6231B0" stroke-width="0.7"/>
<line x1="520.2" y1="314.1" x2="520.2" y2="318.7" stroke="#6231B0" stroke-width="0.7"/>
<line x1="521.8" y1="314.8" x2="518.6" y2="318" stroke="#6231B0" stroke-width="0.7"/>
<circle cx="520.4" cy="316.3" r="1.15" fill="#5358BE"/>
<polyline points="575.6,314.5 578.8,293.7 576.2,307.6 578.1,312 583.8,314.5 586.3,319.6" fill="none" stroke="#3577C6" stroke-width="0.9" stroke-linejoin="round" stroke-linecap="round"/>
<polyline points="570.2,311.9 578.2,316.2" fill="none" stroke="#3577C6" stroke-width="0.9" stroke-linejoin="round" stroke-linecap="round"/>
<polyline points="571.6,319.9 583.2,339 573.9,358.9" fill="none" stroke="#3577C6" stroke-width="0.9" stroke-linejoin="round" stroke-linecap="round"/>
<polyline points="573.1,361.9 580.6,361.9" fill="none" stroke="#3577C6" stroke-width="0.9" stroke-linejoin="round" stroke-linecap="round"/>
<polyline points="576.9,314.5 587.6,295.6 576.9,304.4" fill="none" stroke="#6231B0" stroke-width="0.9" stroke-linejoin="round" stroke-linecap="round"/>
<polyline points="578.8,313.3 583.2,317.3" fill="none" stroke="#6231B0" stroke-width="0.9" stroke-linejoin="round" stroke-linecap="round"/>
<polyline points="569.3,312.6 577.5,317" fill="none" stroke="#6231B0" stroke-width="0.9" stroke-linejoin="round" stroke-linecap="round"/>
<polyline points="572.4,319.1 585,338 574.9,359.4" fill="none" stroke="#6231B0" stroke-width="0.9" stroke-linejoin="round" stroke-linecap="round"/>
<polyline points="572.4,361.9 579.9,361.9" fill="none" stroke="#6231B0" stroke-width="0.9" stroke-linejoin="round" stroke-linecap="round"/>
<circle cx="592" cy="286.3" r="0.95" fill="#6231B0"/>
<circle cx="590.7" cy="286.1" r="0.95" fill="#3577C6"/>
<line x1="576.9" y1="314.3" x2="581.5" y2="314.3" stroke="#3577C6" stroke-width="0.7"/>
<line x1="577.5" y1="312.7" x2="580.8" y2="316" stroke="#3577C6" stroke-width="0.7"/>
<line x1="579.2" y1="312" x2="579.2" y2="316.6" stroke="#3577C6" stroke-width="0.7"/>
<line x1="580.8" y1="312.7" x2="577.5" y2="316" stroke="#3577C6" stroke-width="0.7"/>
<line x1="576.5" y1="314.5" x2="581.1" y2="314.5" stroke="#6231B0" stroke-width="0.7"/>
<line x1="577.1" y1="312.9" x2="580.4" y2="316.2" stroke="#6231B0" stroke-width="0.7"/>
<line x1="578.8" y1="312.2" x2="578.8" y2="316.8" stroke="#6231B0" stroke-width="0.7"/>
<line x1="580.4" y1="312.9" x2="577.1" y2="316.2" stroke="#6231B0" stroke-width="0.7"/>
<circle cx="579" cy="314.4" r="1.15" fill="#5358BE"/>
<polyline points="633.6,305.9 636.4,292 636.2,307.7 640.2,312.8 644.6,318.5" fill="none" stroke="#3577C6" stroke-width="0.9" stroke-linejoin="round" stroke-linecap="round"/>
<polyline points="630,310.8 637.2,315.1" fill="none" stroke="#3577C6" stroke-width="0.9" stroke-linejoin="round" stroke-linecap="round"/>
<polyline points="631.8,318.6 640.4,338.5 631.3,359.7" fill="none" stroke="#3577C6" stroke-width="0.9" stroke-linejoin="round" stroke-linecap="round"/>
<polyline points="630,361.4 638,361.4" fill="none" stroke="#3577C6" stroke-width="0.9" stroke-linejoin="round" stroke-linecap="round"/>
<polyline points="636.4,308.4 645.2,292 638.9,312.8" fill="none" stroke="#6231B0" stroke-width="0.9" stroke-linejoin="round" stroke-linecap="round"/>
<polyline points="629.1,311.5 636.4,315.9" fill="none" stroke="#6231B0" stroke-width="0.9" stroke-linejoin="round" stroke-linecap="round"/>
<polyline points="632.3,317.9 641.9,338 632.3,360.2" fill="none" stroke="#6231B0" stroke-width="0.9" stroke-linejoin="round" stroke-linecap="round"/>
<polyline points="629.3,361.4 637.3,361.4" fill="none" stroke="#6231B0" stroke-width="0.9" stroke-linejoin="round" stroke-linecap="round"/>
<circle cx="648.5" cy="282.8" r="0.95" fill="#6231B0"/>
<circle cx="649.5" cy="281.5" r="0.95" fill="#3577C6"/>
<line x1="635.5" y1="311.3" x2="640.1" y2="311.3" stroke="#3577C6" stroke-width="0.7"/>
<line x1="636.2" y1="309.7" x2="639.4" y2="313" stroke="#3577C6" stroke-width="0.7"/>
<line x1="637.8" y1="309" x2="637.8" y2="313.6" stroke="#3577C6" stroke-width="0.7"/>
<line x1="639.4" y1="309.7" x2="636.2" y2="313" stroke="#3577C6" stroke-width="0.7"/>
<line x1="635.1" y1="311.5" x2="639.7" y2="311.5" stroke="#6231B0" stroke-width="0.7"/>
<line x1="635.8" y1="309.9" x2="639" y2="313.2" stroke="#6231B0" stroke-width="0.7"/>
<line x1="637.4" y1="309.2" x2="637.4" y2="313.8" stroke="#6231B0" stroke-width="0.7"/>
<line x1="639" y1="309.9" x2="635.8" y2="313.2" stroke="#6231B0" stroke-width="0.7"/>
<circle cx="637.6" cy="311.4" r="1.15" fill="#5358BE"/>
<polyline points="693.1,305.2 695.2,290.7 695,307.1 701.9,314 703.8,319.1" fill="none" stroke="#3577C6" stroke-width="0.9" stroke-linejoin="round" stroke-linecap="round"/>
<polyline points="689.9,310.1 697,313.8" fill="none" stroke="#3577C6" stroke-width="0.9" stroke-linejoin="round" stroke-linecap="round"/>
<polyline points="690.5,318.6 698.3,338.5 690,359.7" fill="none" stroke="#3577C6" stroke-width="0.9" stroke-linejoin="round" stroke-linecap="round"/>
<polyline points="688.4,361.4 696.7,361.4" fill="none" stroke="#3577C6" stroke-width="0.9" stroke-linejoin="round" stroke-linecap="round"/>
<polyline points="695.6,307.7 702.5,289.5 697.5,312.8" fill="none" stroke="#6231B0" stroke-width="0.9" stroke-linejoin="round" stroke-linecap="round"/>
<polyline points="689.1,310.9 696.2,314.7" fill="none" stroke="#6231B0" stroke-width="0.9" stroke-linejoin="round" stroke-linecap="round"/>
<polyline points="691,317.9 699.8,338 691,360.2" fill="none" stroke="#6231B0" stroke-width="0.9" stroke-linejoin="round" stroke-linecap="round"/>
<polyline points="687.7,361.4 696,361.4" fill="none" stroke="#6231B0" stroke-width="0.9" stroke-linejoin="round" stroke-linecap="round"/>
<circle cx="706.3" cy="280.8" r="0.95" fill="#6231B0"/>
<circle cx="706.9" cy="279.5" r="0.95" fill="#3577C6"/>
<line x1="695" y1="310.7" x2="699.6" y2="310.7" stroke="#3577C6" stroke-width="0.7"/>
<line x1="695.6" y1="309.1" x2="698.9" y2="312.3" stroke="#3577C6" stroke-width="0.7"/>
<line x1="697.3" y1="308.4" x2="697.3" y2="313" stroke="#3577C6" stroke-width="0.7"/>
<line x1="698.9" y1="309.1" x2="695.6" y2="312.3" stroke="#3577C6" stroke-width="0.7"/>
<line x1="694.6" y1="310.9" x2="699.2" y2="310.9" stroke="#6231B0" stroke-width="0.7"/>
<line x1="695.2" y1="309.3" x2="698.5" y2="312.5" stroke="#6231B0" stroke-width="0.7"/>
<line x1="696.9" y1="308.6" x2="696.9" y2="313.2" stroke="#6231B0" stroke-width="0.7"/>
<line x1="698.5" y1="309.3" x2="695.2" y2="312.5" stroke="#6231B0" stroke-width="0.7"/>
<circle cx="697.1" cy="310.8" r="1.15" fill="#5358BE"/>
<rect x="259.4" y="400.2" width="311.9" height="25.9" fill="#fff" stroke="#4a4a4a" stroke-width="0.55"/>
<line x1="262.3" y1="407.7" x2="282.8" y2="407.7" stroke="#6231B0" stroke-width="1.5"/>
<text x="286.6" y="411" font-size="8.7" text-anchor="start" fill="#111111" textLength="113.5" lengthAdjust="spacingAndGlyphs" stroke="#111111" stroke-width="0.2">Exaggerated forward leaning</text>
<line x1="480.6" y1="407.7" x2="502.6" y2="407.7" stroke="#3577C6" stroke-width="1.5"/>
<text x="505.8" y="411" font-size="8.7" text-anchor="start" fill="#111111" textLength="63.5" lengthAdjust="spacingAndGlyphs" stroke="#111111" stroke-width="0.2">Forward leaning</text>
<line x1="262.3" y1="420.3" x2="282.8" y2="420.3" stroke="#C07F89" stroke-width="0.9"/>
<text x="286.6" y="423.6" font-size="8.7" text-anchor="start" fill="#111111" textLength="190" lengthAdjust="spacingAndGlyphs" stroke="#111111" stroke-width="0.2">Exaggerated forward leaning vs. forward leaning</text>
<clipPath id="c440"><rect x="34.8" y="451.4" width="151.6" height="125.9"/></clipPath>
<g clip-path="url(#c440)">
<rect x="94" y="451.4" width="16.9" height="125.9" fill="#E6E6E6" stroke="none" stroke-width="0.6"/>
<polygon points="34.8,501.5 37,501.5 39.1,501.5 41.3,501.6 43.5,501.7 45.7,501.8 47.9,501.9 50.1,502.1 52.3,502.2 54.5,502.4 56.7,502.6 58.9,502.8 61,503 63.2,503.2 65.4,503.5 67.6,503.8 69.8,504.2 72,504.7 74.2,505.3 76.4,505.9 78.6,506.6 80.8,507.4 82.9,508.1 85.1,508.8 87.3,509.6 89.5,510.2 91.7,510.9 93.9,511.4 96.1,511.9 98.3,512.3 100.5,512.7 102.7,513.2 104.9,513.6 107,514.1 109.2,514.4 111.4,514.8 113.6,515.1 115.8,515.3 118,515.5 120.2,515.6 122.4,515.6 124.6,515.6 126.8,515.6 128.9,515.6 131.1,515.6 133.3,515.6 135.5,515.6 137.7,515.6 139.9,515.6 142.1,515.6 144.3,515.6 146.5,515.6 148.7,515.6 150.8,515.6 153,515.6 155.2,515.6 157.4,515.6 159.6,515.6 161.8,515.6 164,515.6 166.2,515.6 168.4,515.6 170.6,515.6 172.8,515.6 174.9,515.6 177.1,515.6 179.3,515.6 181.5,515.6 183.7,515.6 185.9,515.6 185.9,539.5 183.7,539.9 181.5,540.3 179.3,540.6 177.1,540.7 174.9,540.7 172.8,540.6 170.6,540.5 168.4,540.3 166.2,540 164,539.8 161.8,539.6 159.6,539.3 157.4,539.1 155.2,538.8 153,538.5 150.8,538.3 148.7,538 146.5,537.7 144.3,537.4 142.1,537.1 139.9,536.8 137.7,536.6 135.5,536.3 133.3,536.1 131.1,535.8 128.9,535.6 126.8,535.3 124.6,535 122.4,534.7 120.2,534.3 118,533.9 115.8,533.5 113.6,533 111.4,532.5 109.2,532 107,531.4 104.9,530.7 102.7,530 100.5,529.3 98.3,528.5 96.1,527.4 93.9,526.3 91.7,525.1 89.5,523.9 87.3,522.7 85.1,521.6 82.9,520.6 80.8,519.5 78.6,518.4 76.4,517.3 74.2,516.3 72,515.3 69.8,514.4 67.6,513.7 65.4,513 63.2,512.5 61,511.9 58.9,511.3 56.7,510.8 54.5,510.3 52.3,509.8 50.1,509.4 47.9,508.9 45.7,508.6 43.5,508.2 41.3,508 39.1,507.8 37,507.6 34.8,507.5" fill="#4C86D0" fill-opacity="0.09" stroke="none"/>
<polygon points="34.8,500.5 37,500.5 39.1,500.5 41.3,500.6 43.5,500.6 45.7,500.7 47.9,500.8 50.1,500.9 52.3,501.1 54.5,501.2 56.7,501.4 58.9,501.6 61,501.9 63.2,502.2 65.4,502.5 67.6,502.8 69.8,503.2 72,503.7 74.2,504.3 76.4,504.9 78.6,505.5 80.8,506 82.9,506.6 85.1,507.3 87.3,508 89.5,508.7 91.7,509.4 93.9,510 96.1,510.6 98.3,511.2 100.5,511.9 102.7,512.5 104.9,513 107,513.6 109.2,514 111.4,514.4 113.6,514.8 115.8,515.1 118,515.4 120.2,515.6 122.4,515.6 124.6,515.5 126.8,515.5 128.9,515.4 131.1,515.4 133.3,515.3 135.5,515.2 137.7,515.2 139.9,515.1 142.1,515 144.3,515 146.5,514.9 148.7,514.8 150.8,514.8 153,514.7 155.2,514.6 157.4,514.5 159.6,514.4 161.8,514.2 164,514.1 166.2,514 168.4,513.9 170.6,513.8 172.8,513.8 174.9,513.8 177.1,513.9 179.3,513.9 181.5,514 183.7,514.2 185.9,514.3 185.9,542 183.7,543 181.5,543.8 179.3,544.6 177.1,545.1 174.9,545.5 172.8,545.7 170.6,545.8 168.4,545.6 166.2,545.4 164,545 161.8,544.5 159.6,544 157.4,543.5 155.2,543.1 153,542.4 150.8,541.7 148.7,541.1 146.5,540.8 144.3,540.8 142.1,540.9 139.9,541 137.7,541.2 135.5,541.3 133.3,541.5 131.1,541.7 128.9,541.9 126.8,542 124.6,541.9 122.4,541.5 120.2,540.9 118,540.2 115.8,539.5 113.6,538.8 111.4,538.1 109.2,537.3 107,536.3 104.9,535.2 102.7,533.7 100.5,532 98.3,530.1 96.1,528.4 93.9,526.9 91.7,525.3 89.5,523.7 87.3,522.2 85.1,520.7 82.9,519.4 80.8,518.2 78.6,517.1 76.4,516 74.2,515.1 72,514.2 69.8,513.3 67.6,512.5 65.4,511.8 63.2,511 61,510.3 58.9,509.6 56.7,508.9 54.5,508.3 52.3,507.8 50.1,507.5 47.9,507.2 45.7,506.9 43.5,506.6 41.3,506.3 39.1,506.2 37,506 34.8,506" fill="#5F3CB4" fill-opacity="0.09" stroke="none"/>
<polyline points="34.8,504.2 37,504.2 39.1,504.3 41.3,504.3 43.5,504.4 45.7,504.5 47.9,504.6 50.1,504.7 52.3,504.9 54.5,505.1 56.7,505.3 58.9,505.6 61,506 63.2,506.3 65.4,506.7 67.6,507.2 69.8,507.7 72,508.3 74.2,508.9 76.4,509.6 78.6,510.4 80.8,511.1 82.9,511.8 85.1,512.6 87.3,513.5 89.5,514.5 91.7,515.7 93.9,517.2 96.1,518.9 98.3,520.9 100.5,522.9 102.7,524.5 104.9,525.9 107,526.9 109.2,527.7 111.4,528.4 113.6,529.1 115.8,529.7 118,530 120.2,530.2 122.4,530.1 124.6,530 126.8,529.8 128.9,529.3 131.1,528.6 133.3,528 135.5,527.5 137.7,527.2 139.9,526.9 142.1,526.9 144.3,527.2 146.5,527.5 148.7,527.8 150.8,528.1 153,528.3 155.2,528.5 157.4,528.7 159.6,528.8 161.8,529 164,529.2 166.2,529.4 168.4,529.6 170.6,529.7 172.8,529.6 174.9,529.5 177.1,529.4 179.3,529.3 181.5,529.2 183.7,529 185.9,528.9" fill="none" stroke="#6231B0" stroke-width="1.65" stroke-linejoin="round" stroke-linecap="round"/>
<polyline points="34.8,505 37,505 39.1,505 41.3,505.1 43.5,505.2 45.7,505.3 47.9,505.4 50.1,505.5 52.3,505.6 54.5,505.9 56.7,506.2 58.9,506.7 61,507.1 63.2,507.5 65.4,508 67.6,508.5 69.8,508.9 72,509.5 74.2,510 76.4,510.6 78.6,511.2 80.8,511.8 82.9,512.5 85.1,513.2 87.3,513.9 89.5,514.7 91.7,515.4 93.9,516.2 96.1,517 98.3,517.8 100.5,518.5 102.7,519.1 104.9,519.8 107,520.3 109.2,520.8 111.4,521.2 113.6,521.6 115.8,521.9 118,522.2 120.2,522.3 122.4,522.4 124.6,522.5 126.8,522.5 128.9,522.5 131.1,522.6 133.3,522.9 135.5,523.3 137.7,523.9 139.9,524.7 142.1,525.5 144.3,526.3 146.5,527 148.7,527.5 150.8,527.9 153,528.2 155.2,528.4 157.4,528.6 159.6,528.8 161.8,529 164,529.2 166.2,529.4 168.4,529.6 170.6,529.7 172.8,529.7 174.9,529.6 177.1,529.6 179.3,529.5 181.5,529.4 183.7,529.2 185.9,528.9" fill="none" stroke="#3577C6" stroke-width="1.65" stroke-linejoin="round" stroke-linecap="round"/>
</g>
<line x1="34.8" y1="451.4" x2="34.8" y2="577.6" stroke="#4a4a4a" stroke-width="0.7"/>
<line x1="34.5" y1="577.3" x2="186.2" y2="577.3" stroke="#4a4a4a" stroke-width="0.7"/>
<line x1="34.8" y1="454.4" x2="36.4" y2="454.4" stroke="#4a4a4a" stroke-width="0.7"/>
<text x="0" y="0" font-size="8.8" text-anchor="end" fill="#111111" style="text-rendering:geometricPrecision" transform="translate(31.16 457.75) scale(1 1.04)" stroke="#111111" stroke-width="0.2">0.1</text>
<line x1="34.8" y1="478.3" x2="36.4" y2="478.3" stroke="#4a4a4a" stroke-width="0.7"/>
<text x="0" y="0" font-size="8.8" text-anchor="end" fill="#111111" style="text-rendering:geometricPrecision" transform="translate(31.16 481.68) scale(1 1.04)" stroke="#111111" stroke-width="0.2">0.05</text>
<line x1="34.8" y1="502.1" x2="36.4" y2="502.1" stroke="#4a4a4a" stroke-width="0.7"/>
<text x="0" y="0" font-size="8.8" text-anchor="end" fill="#111111" style="text-rendering:geometricPrecision" transform="translate(31.16 505.49) scale(1 1.04)" stroke="#111111" stroke-width="0.2">0</text>
<line x1="34.8" y1="525.9" x2="36.4" y2="525.9" stroke="#4a4a4a" stroke-width="0.7"/>
<text x="0" y="0" font-size="8.8" text-anchor="end" fill="#111111" style="text-rendering:geometricPrecision" transform="translate(31.16 529.29) scale(1 1.04)" stroke="#111111" stroke-width="0.2">-0.05</text>
<line x1="34.8" y1="549.6" x2="36.4" y2="549.6" stroke="#4a4a4a" stroke-width="0.7"/>
<text x="0" y="0" font-size="8.8" text-anchor="end" fill="#111111" style="text-rendering:geometricPrecision" transform="translate(31.16 552.97) scale(1 1.04)" stroke="#111111" stroke-width="0.2">-0.1</text>
<line x1="34.8" y1="573.5" x2="36.4" y2="573.5" stroke="#4a4a4a" stroke-width="0.7"/>
<text x="0" y="0" font-size="8.8" text-anchor="end" fill="#111111" style="text-rendering:geometricPrecision" transform="translate(31.16 576.9) scale(1 1.04)" stroke="#111111" stroke-width="0.2">-0.15</text>
<line x1="65" y1="577.3" x2="65" y2="575.7" stroke="#4a4a4a" stroke-width="0.7"/>
<text x="0" y="0" font-size="8.8" text-anchor="middle" fill="#111111" style="text-rendering:geometricPrecision" transform="translate(65.59 589.94) scale(1 1.04)" stroke="#111111" stroke-width="0.2">20</text>
<line x1="95.2" y1="577.3" x2="95.2" y2="575.7" stroke="#4a4a4a" stroke-width="0.7"/>
<text x="0" y="0" font-size="8.8" text-anchor="middle" fill="#111111" style="text-rendering:geometricPrecision" transform="translate(95.81 589.94) scale(1 1.04)" stroke="#111111" stroke-width="0.2">40</text>
<line x1="125.4" y1="577.3" x2="125.4" y2="575.7" stroke="#4a4a4a" stroke-width="0.7"/>
<text x="0" y="0" font-size="8.8" text-anchor="middle" fill="#111111" style="text-rendering:geometricPrecision" transform="translate(126.04 589.94) scale(1 1.04)" stroke="#111111" stroke-width="0.2">60</text>
<line x1="155.7" y1="577.3" x2="155.7" y2="575.7" stroke="#4a4a4a" stroke-width="0.7"/>
<text x="0" y="0" font-size="8.8" text-anchor="middle" fill="#111111" style="text-rendering:geometricPrecision" transform="translate(156.27 589.94) scale(1 1.04)" stroke="#111111" stroke-width="0.2">80</text>
<line x1="185.9" y1="577.3" x2="185.9" y2="575.7" stroke="#4a4a4a" stroke-width="0.7"/>
<text x="0" y="0" font-size="8.8" text-anchor="middle" fill="#111111" style="text-rendering:geometricPrecision" transform="translate(185.69 589.94) scale(1 1.04)" stroke="#111111" stroke-width="0.2">100</text>
<text x="110.5" y="447.8" font-size="8.8" text-anchor="middle" fill="#111111" font-weight="bold" stroke="#111111" stroke-width="0.2">GRF medio-lateral</text>
<text x="7.7" y="514.3" font-size="8.8" text-anchor="middle" fill="#111111" transform="rotate(-90 7.7 514.3)" stroke="#111111" stroke-width="0.2">Body weight [normalized]</text>
<line x1="44.1" y1="461.2" x2="50.4" y2="461.2" stroke="#9C3F4F" stroke-width="0.8"/>
<text x="44.8" y="458.6" font-size="7.25" fill="#861C30" stroke="#861C30" stroke-width="0.18">p = 0.02</text>
<line x1="59.7" y1="461.2" x2="64.2" y2="461.2" stroke="#9C3F4F" stroke-width="0.8"/>
<text x="59.7" y="468.1" font-size="7.25" fill="#861C30" stroke="#861C30" stroke-width="0.18">p = 0.02</text>
<line x1="104" y1="461.2" x2="131" y2="461.2" stroke="#9C3F4F" stroke-width="0.8"/>
<text x="104.5" y="458.6" font-size="7.25" fill="#861C30" stroke="#861C30" stroke-width="0.18">p &lt; 0.01</text>
<clipPath id="c195440"><rect x="235.3" y="451.4" width="151.6" height="125.9"/></clipPath>
<g clip-path="url(#c195440)">
<rect x="294" y="451.4" width="16.9" height="125.9" fill="#E6E6E6" stroke="none" stroke-width="0.6"/>
<polygon points="235.3,552.1 237.5,552.1 239.7,552 241.9,551.9 244.1,551.8 246.3,551.7 248.4,551.5 250.6,551.3 252.8,551.1 255,550.9 257.2,550.5 259.4,549.8 261.6,549 263.8,547.9 266,546.8 268.2,545.5 270.3,543.9 272.5,542.2 274.7,540.3 276.9,538.2 279.1,535.7 281.3,533.1 283.5,530.5 285.7,528.2 287.9,526 290.1,523.9 292.3,522 294.4,520.6 296.6,519.9 298.8,519.3 301,518.9 303.2,518.6 305.4,518.6 307.6,519.1 309.8,520 312,521.1 314.2,522.3 316.3,524 318.5,526.1 320.7,528.4 322.9,530.7 325.1,532.6 327.3,534 329.5,535.3 331.7,536.5 333.9,537.6 336.1,538.6 338.2,539.6 340.4,540.5 342.6,541.4 344.8,542.2 347,542.9 349.2,543.7 351.4,544.4 353.6,545 355.8,545.7 358,546.3 360.2,547 362.3,547.6 364.5,548.2 366.7,548.7 368.9,549.2 371.1,549.5 373.3,549.8 375.5,550.1 377.7,550.3 379.9,550.5 382.1,550.7 384.2,550.8 386.4,550.8 386.4,557.9 384.2,557.9 382.1,557.9 379.9,557.9 377.7,557.9 375.5,557.9 373.3,557.9 371.1,557.9 368.9,557.9 366.7,557.8 364.5,557.7 362.3,557.5 360.2,557.3 358,557.1 355.8,556.9 353.6,556.6 351.4,556.4 349.2,556.1 347,555.8 344.8,555.4 342.6,555 340.4,554.5 338.2,554 336.1,553.4 333.9,552.6 331.7,551.6 329.5,550.4 327.3,549.1 325.1,547.7 322.9,545.8 320.7,543.7 318.5,541.6 316.3,539.8 314.2,538.3 312,536.9 309.8,535.9 307.6,535.7 305.4,536 303.2,536.4 301,536.9 298.8,537.7 296.6,538.9 294.4,540.5 292.3,542.1 290.1,543.8 287.9,545.7 285.7,547.8 283.5,549.9 281.3,551.6 279.1,553.1 276.9,554.4 274.7,555.6 272.5,556.6 270.3,557.2 268.2,557.6 266,557.9 263.8,558.2 261.6,558.4 259.4,558.4 257.2,558.4 255,558.4 252.8,558.4 250.6,558.4 248.4,558.3 246.3,558.3 244.1,558.2 241.9,558.2 239.7,558.1 237.5,558 235.3,557.9" fill="#4C86D0" fill-opacity="0.09" stroke="none"/>
<polygon points="235.3,552.6 237.5,552.6 239.7,552.7 241.9,552.7 244.1,552.8 246.3,552.8 248.4,552.8 250.6,552.8 252.8,552.8 255,552.8 257.2,552.8 259.4,552.8 261.6,552.8 263.8,552.8 266,552.8 268.2,552.8 270.3,552.6 272.5,552.3 274.7,552 276.9,551.6 279.1,551.2 281.3,550.7 283.5,549.8 285.7,548.5 287.9,546.9 290.1,545.1 292.3,542.9 294.4,540 296.6,536.6 298.8,533.3 301,530.4 303.2,527.6 305.4,524.9 307.6,523.3 309.8,523.3 312,523.9 314.2,524.8 316.3,525.9 318.5,527.4 320.7,529.5 322.9,531.7 325.1,533.8 327.3,535.4 329.5,536.9 331.7,538.3 333.9,539.6 336.1,540.8 338.2,541.9 340.4,542.9 342.6,543.9 344.8,544.8 347,545.6 349.2,546.3 351.4,547 353.6,547.6 355.8,548.2 358,548.8 360.2,549.6 362.3,550.2 364.5,550.7 366.7,550.8 368.9,550.7 371.1,550.6 373.3,550.4 375.5,550.3 377.7,550.3 379.9,550.4 382.1,550.5 384.2,550.6 386.4,550.8 386.4,558.9 384.2,558.8 382.1,558.7 379.9,558.6 377.7,558.5 375.5,558.4 373.3,558.4 371.1,558.4 368.9,558.4 366.7,558.4 364.5,558.4 362.3,558.4 360.2,558.5 358,558.9 355.8,559.5 353.6,560.1 351.4,560.4 349.2,560 347,559 344.8,557.6 342.6,556.2 340.4,555.1 338.2,554.1 336.1,553.2 333.9,552.3 331.7,551.2 329.5,549.9 327.3,548.3 325.1,546.5 322.9,544.8 320.7,543.1 318.5,541.3 316.3,539.5 314.2,538.3 312,538.4 309.8,539 307.6,539.9 305.4,542.2 303.2,545.2 301,548.1 298.8,550.6 296.6,553.1 294.4,555.5 292.3,557.5 290.1,558.7 287.9,559.7 285.7,560.5 283.5,561.1 281.3,561.4 279.1,561.4 276.9,561.3 274.7,561.2 272.5,561 270.3,560.8 268.2,560.6 266,560.4 263.8,560.3 261.6,560.1 259.4,560 257.2,559.8 255,559.7 252.8,559.6 250.6,559.4 248.4,559.3 246.3,559.1 244.1,559 241.9,558.8 239.7,558.7 237.5,558.5 235.3,558.4" fill="#5F3CB4" fill-opacity="0.09" stroke="none"/>
<polyline points="235.3,555.9 237.5,556 239.7,556 241.9,556.1 244.1,556.2 246.3,556.3 248.4,556.3 250.6,556.4 252.8,556.4 255,556.5 257.2,556.5 259.4,556.6 261.6,556.6 263.8,556.6 266,556.6 268.2,556.6 270.3,556.6 272.5,556.5 274.7,556.4 276.9,556.3 279.1,556 281.3,555.6 283.5,555 285.7,554.1 287.9,552.9 290.1,551.3 292.3,549.4 294.4,546.9 296.6,544.1 298.8,541 301,538 303.2,535.3 305.4,533.1 307.6,531.2 309.8,530.2 312,530.4 314.2,530.9 316.3,532.3 318.5,534 320.7,535.9 322.9,538.1 325.1,540.1 327.3,541.7 329.5,543.2 331.7,544.7 333.9,545.9 336.1,547.1 338.2,548 340.4,548.8 342.6,549.5 344.8,550.3 347,551.2 349.2,552.3 351.4,553.5 353.6,554.9 355.8,555.5 358,555.6 360.2,555.4 362.3,554.9 364.5,554.9 366.7,554.9 368.9,555 371.1,555.1 373.3,555.2 375.5,555.2 377.7,555.3 379.9,555.4 382.1,555.5 384.2,555.5 386.4,555.6" fill="none" stroke="#6231B0" stroke-width="1.65" stroke-linejoin="round" stroke-linecap="round"/>
<polyline points="235.3,555.1 237.5,555.2 239.7,555.3 241.9,555.3 244.1,555.3 246.3,555.4 248.4,555.4 250.6,555.4 252.8,555.3 255,555.3 257.2,555.2 259.4,555.2 261.6,555 263.8,554.6 266,554 268.2,553.3 270.3,552.3 272.5,551 274.7,549.5 276.9,547.7 279.1,545.4 281.3,542.8 283.5,540.4 285.7,537.9 287.9,535.4 290.1,533.2 292.3,531.5 294.4,530 296.6,528.8 298.8,528 301,527.4 303.2,527 305.4,526.9 307.6,527.4 309.8,528.2 312,529.2 314.2,530.6 316.3,532.3 318.5,534 320.7,536 322.9,538.1 325.1,540.1 327.3,541.7 329.5,543.3 331.7,544.8 333.9,546 336.1,547.1 338.2,547.9 340.4,548.6 342.6,549.3 344.8,549.8 347,550.2 349.2,550.6 351.4,550.8 353.6,551.1 355.8,551.2 358,551.4 360.2,551.5 362.3,551.7 364.5,552.2 366.7,552.7 368.9,553.1 371.1,553.4 373.3,553.7 375.5,553.8 377.7,553.9 379.9,553.9 382.1,553.9 384.2,553.9 386.4,553.9" fill="none" stroke="#3577C6" stroke-width="1.65" stroke-linejoin="round" stroke-linecap="round"/>
</g>
<line x1="235.3" y1="451.4" x2="235.3" y2="577.6" stroke="#4a4a4a" stroke-width="0.7"/>
<line x1="235" y1="577.3" x2="386.7" y2="577.3" stroke="#4a4a4a" stroke-width="0.7"/>
<line x1="235.3" y1="477.3" x2="236.9" y2="477.3" stroke="#4a4a4a" stroke-width="0.7"/>
<text x="0" y="0" font-size="8.8" text-anchor="end" fill="#111111" style="text-rendering:geometricPrecision" transform="translate(231.7 480.67) scale(1 1.04)" stroke="#111111" stroke-width="0.2">0.3</text>
<line x1="235.3" y1="502.2" x2="236.9" y2="502.2" stroke="#4a4a4a" stroke-width="0.7"/>
<text x="0" y="0" font-size="8.8" text-anchor="end" fill="#111111" style="text-rendering:geometricPrecision" transform="translate(231.7 505.61) scale(1 1.04)" stroke="#111111" stroke-width="0.2">0.2</text>
<line x1="235.3" y1="528.2" x2="236.9" y2="528.2" stroke="#4a4a4a" stroke-width="0.7"/>
<text x="0" y="0" font-size="8.8" text-anchor="end" fill="#111111" style="text-rendering:geometricPrecision" transform="translate(231.7 531.56) scale(1 1.04)" stroke="#111111" stroke-width="0.2">0.1</text>
<line x1="235.3" y1="554.6" x2="236.9" y2="554.6" stroke="#4a4a4a" stroke-width="0.7"/>
<text x="0" y="0" font-size="8.8" text-anchor="end" fill="#111111" style="text-rendering:geometricPrecision" transform="translate(231.7 558) scale(1 1.04)" stroke="#111111" stroke-width="0.2">0</text>
<line x1="265.5" y1="577.3" x2="265.5" y2="575.7" stroke="#4a4a4a" stroke-width="0.7"/>
<text x="0" y="0" font-size="8.8" text-anchor="middle" fill="#111111" style="text-rendering:geometricPrecision" transform="translate(266.13 589.94) scale(1 1.04)" stroke="#111111" stroke-width="0.2">20</text>
<line x1="295.8" y1="577.3" x2="295.8" y2="575.7" stroke="#4a4a4a" stroke-width="0.7"/>
<text x="0" y="0" font-size="8.8" text-anchor="middle" fill="#111111" style="text-rendering:geometricPrecision" transform="translate(296.36 589.94) scale(1 1.04)" stroke="#111111" stroke-width="0.2">40</text>
<line x1="326" y1="577.3" x2="326" y2="575.7" stroke="#4a4a4a" stroke-width="0.7"/>
<text x="0" y="0" font-size="8.8" text-anchor="middle" fill="#111111" style="text-rendering:geometricPrecision" transform="translate(326.58 589.94) scale(1 1.04)" stroke="#111111" stroke-width="0.2">60</text>
<line x1="356.2" y1="577.3" x2="356.2" y2="575.7" stroke="#4a4a4a" stroke-width="0.7"/>
<text x="0" y="0" font-size="8.8" text-anchor="middle" fill="#111111" style="text-rendering:geometricPrecision" transform="translate(356.81 589.94) scale(1 1.04)" stroke="#111111" stroke-width="0.2">80</text>
<line x1="386.4" y1="577.3" x2="386.4" y2="575.7" stroke="#4a4a4a" stroke-width="0.7"/>
<text x="0" y="0" font-size="8.8" text-anchor="middle" fill="#111111" style="text-rendering:geometricPrecision" transform="translate(386.24 589.94) scale(1 1.04)" stroke="#111111" stroke-width="0.2">100</text>
<text x="311.1" y="447.8" font-size="8.8" text-anchor="middle" fill="#111111" font-weight="bold" stroke="#111111" stroke-width="0.2">GRF anterior-posterior</text>
<text x="215.4" y="514.3" font-size="8.8" text-anchor="middle" fill="#111111" transform="rotate(-90 215.4 514.3)" stroke="#111111" stroke-width="0.2">Body weight [normalized]</text>
<line x1="260" y1="461.2" x2="305.8" y2="461.2" stroke="#9C3F4F" stroke-width="0.8"/>
<text x="260.5" y="458.4" font-size="7.25" fill="#861C30" stroke="#861C30" stroke-width="0.18">p &lt; 0.01</text>
<line x1="352.4" y1="461.2" x2="359.2" y2="461.2" stroke="#9C3F4F" stroke-width="0.8"/>
<text x="352.4" y="458.4" font-size="7.25" fill="#861C30" stroke="#861C30" stroke-width="0.18">p &lt; 0.01</text>
<clipPath id="c395440"><rect x="435.3" y="451.4" width="151.6" height="125.9"/></clipPath>
<g clip-path="url(#c395440)">
<rect x="495" y="451.4" width="16.4" height="125.9" fill="#E6E6E6" stroke="none" stroke-width="0.6"/>
<polygon points="435.3,563.9 437.5,563.9 439.7,563.7 441.9,563.5 444.1,563.3 446.3,562.9 448.5,562.5 450.7,562.1 452.9,561.4 455.1,560.4 457.3,559.2 459.5,557.8 461.7,556.3 463.9,554.4 466.1,552.2 468.3,549.8 470.5,547.2 472.7,544.3 474.9,541 477.1,537.6 479.3,534.1 481.5,530.7 483.7,527.1 485.8,523.7 488,520.8 490.2,518.5 492.4,516.4 494.6,514.8 496.8,513.9 499,513.1 501.2,512.4 503.4,512 505.6,511.8 507.8,511.9 510,512.2 512.2,512.7 514.4,513.2 516.6,513.7 518.8,514.4 521,515.3 523.2,516.2 525.4,517.2 527.6,518.1 529.8,518.9 532,519.6 534.2,520.3 536.4,520.9 538.6,521.5 540.8,522 543,522.5 545.2,523 547.4,523.3 549.6,523.7 551.8,524 554,524.3 556.2,524.6 558.4,524.9 560.6,525.1 562.8,525.3 565,525.5 567.2,525.7 569.4,525.9 571.6,526.1 573.8,526.2 576,526.4 578.1,526.5 580.3,526.6 582.5,526.7 584.7,526.8 586.9,526.9 586.9,544.5 584.7,544.3 582.5,544.1 580.3,543.8 578.1,543.6 576,543.3 573.8,543.1 571.6,542.8 569.4,542.5 567.2,542.2 565,541.9 562.8,541.6 560.6,541.3 558.4,541 556.2,540.8 554,540.5 551.8,540.2 549.6,540 547.4,539.7 545.2,539.5 543,539.2 540.8,538.9 538.6,538.6 536.4,538.3 534.2,537.9 532,537.4 529.8,536.8 527.6,536.2 525.4,535.6 523.2,535 521,534.5 518.8,533.9 516.6,533.4 514.4,532.8 512.2,532.3 510,532 507.8,531.9 505.6,532 503.4,532.3 501.2,532.6 499,533 496.8,533.7 494.6,535 492.4,536.8 490.2,538.7 488,541 485.8,543.7 483.7,546.5 481.5,549.1 479.3,551.8 477.1,554.3 474.9,556.6 472.7,558.9 470.5,561 468.3,562.9 466.1,564.4 463.9,565.5 461.7,566.6 459.5,567.5 457.3,568.1 455.1,568.5 452.9,568.7 450.7,569 448.5,569.2 446.3,569.3 444.1,569.5 441.9,569.6 439.7,569.7 437.5,569.7 435.3,569.7" fill="#4C86D0" fill-opacity="0.09" stroke="none"/>
<polygon points="435.3,565.2 437.5,565.2 439.7,565.1 441.9,565 444.1,564.9 446.3,564.8 448.5,564.6 450.7,564.4 452.9,564.2 455.1,564 457.3,563.6 459.5,563 461.7,562.1 463.9,561.1 466.1,559.9 468.3,558.6 470.5,557.2 472.7,555.6 474.9,553.7 477.1,551.4 479.3,548.8 481.5,545.9 483.7,541.9 485.8,537.2 488,532.3 490.2,527.8 492.4,523.7 494.6,519.7 496.8,516.1 499,513.5 501.2,511 503.4,509.1 505.6,508 507.8,507.8 510,507.6 512.2,507.5 514.4,507.6 516.6,508 518.8,508.7 521,509.6 523.2,510.6 525.4,511.6 527.6,512.4 529.8,513.4 532,514.4 534.2,515.3 536.4,516.3 538.6,517.2 540.8,518 543,518.7 545.2,519.3 547.4,519.9 549.6,520.5 551.8,521 554,521.5 556.2,521.9 558.4,522.2 560.6,522.5 562.8,522.7 565,523 567.2,523.2 569.4,523.4 571.6,523.7 573.8,523.9 576,524.1 578.1,524.3 580.3,524.5 582.5,524.7 584.7,524.9 586.9,525.1 586.9,542.8 584.7,542.7 582.5,542.7 580.3,542.6 578.1,542.4 576,542.3 573.8,542.2 571.6,542 569.4,541.9 567.2,541.7 565,541.4 562.8,541.2 560.6,540.9 558.4,540.6 556.2,540.2 554,539.9 551.8,539.5 549.6,539.1 547.4,538.6 545.2,538.1 543,537.5 540.8,536.9 538.6,536.1 536.4,535.2 534.2,534.2 532,533.1 529.8,532.1 527.6,531.2 525.4,530.5 523.2,529.8 521,529.1 518.8,528.5 516.6,528.2 514.4,528.2 512.2,528.3 510,528.6 507.8,529 505.6,529.5 503.4,530.9 501.2,533.3 499,536 496.8,538.9 494.6,542.3 492.4,545.8 490.2,549 488,552.1 485.8,555.2 483.7,558 481.5,560.3 479.3,561.8 477.1,563.1 474.9,564.2 472.7,565.2 470.5,566 468.3,566.7 466.1,567.5 463.9,568.1 461.7,568.7 459.5,569.2 457.3,569.6 455.1,569.7 452.9,569.8 450.7,569.9 448.5,570 446.3,570.1 444.1,570.1 441.9,570.2 439.7,570.2 437.5,570.2 435.3,570.2" fill="#5F3CB4" fill-opacity="0.09" stroke="none"/>
<polyline points="435.3,568 437.5,567.9 439.7,567.9 441.9,567.8 444.1,567.8 446.3,567.7 448.5,567.5 450.7,567.3 452.9,567 455.1,566.8 457.3,566.4 459.5,566 461.7,565.5 463.9,564.9 466.1,564.3 468.3,563.4 470.5,562.4 472.7,561.2 474.9,559.8 477.1,558.1 479.3,556.1 481.5,553.7 483.7,550.5 485.8,546.8 488,542.4 490.2,537.9 492.4,533.8 494.6,529.9 496.8,526.6 499,523.7 501.2,521.5 503.4,519.8 505.6,518.7 507.8,518 510,517.6 512.2,517.6 514.4,517.9 516.6,518.2 518.8,518.6 521,519.2 523.2,519.8 525.4,520.4 527.6,521.1 529.8,521.9 532,522.8 534.2,523.7 536.4,524.5 538.6,525.4 540.8,526.2 543,527.1 545.2,527.9 547.4,528.5 549.6,529.1 551.8,529.7 554,530.2 556.2,530.7 558.4,531.1 560.6,531.5 562.8,531.8 565,532.1 567.2,532.3 569.4,532.4 571.6,532.5 573.8,532.7 576,533 578.1,533.3 580.3,533.6 582.5,533.8 584.7,533.9 586.9,534" fill="none" stroke="#6231B0" stroke-width="1.65" stroke-linejoin="round" stroke-linecap="round"/>
<polyline points="435.3,566.7 437.5,566.7 439.7,566.6 441.9,566.6 444.1,566.5 446.3,566.4 448.5,566.2 450.7,565.8 452.9,565.3 455.1,564.8 457.3,564.1 459.5,563.2 461.7,562.1 463.9,560.9 466.1,559.5 468.3,557.8 470.5,556 472.7,553.8 474.9,551.2 477.1,548.5 479.3,545.5 481.5,542.1 483.7,538.8 485.8,535.3 488,532.1 490.2,529.3 492.4,526.8 494.6,525.1 496.8,523.7 499,522.9 501.2,522.2 503.4,521.9 505.6,521.9 507.8,522.1 510,522.3 512.2,522.8 514.4,523.5 516.6,524.1 518.8,524.8 521,525.6 523.2,526.5 525.4,527.2 527.6,527.9 529.8,528.6 532,529.2 534.2,529.7 536.4,530.2 538.6,530.7 540.8,531.1 543,531.5 545.2,531.8 547.4,532.1 549.6,532.4 551.8,532.7 554,533 556.2,533.2 558.4,533.4 560.6,533.6 562.8,533.8 565,534 567.2,534.1 569.4,534.3 571.6,534.5 573.8,534.6 576,534.8 578.1,535 580.3,535.1 582.5,535.3 584.7,535.5 586.9,535.7" fill="none" stroke="#3577C6" stroke-width="1.65" stroke-linejoin="round" stroke-linecap="round"/>
</g>
<line x1="435.3" y1="451.4" x2="435.3" y2="577.6" stroke="#4a4a4a" stroke-width="0.7"/>
<line x1="435" y1="577.3" x2="586.7" y2="577.3" stroke="#4a4a4a" stroke-width="0.7"/>
<line x1="435.3" y1="474.8" x2="436.9" y2="474.8" stroke="#4a4a4a" stroke-width="0.7"/>
<text x="0" y="0" font-size="8.8" text-anchor="end" fill="#111111" style="text-rendering:geometricPrecision" transform="translate(431.7 478.16) scale(1 1.04)" stroke="#111111" stroke-width="0.2">1.5</text>
<line x1="435.3" y1="508.8" x2="436.9" y2="508.8" stroke="#4a4a4a" stroke-width="0.7"/>
<text x="0" y="0" font-size="8.8" text-anchor="end" fill="#111111" style="text-rendering:geometricPrecision" transform="translate(431.7 512.16) scale(1 1.04)" stroke="#111111" stroke-width="0.2">1</text>
<line x1="435.3" y1="543.3" x2="436.9" y2="543.3" stroke="#4a4a4a" stroke-width="0.7"/>
<text x="0" y="0" font-size="8.8" text-anchor="end" fill="#111111" style="text-rendering:geometricPrecision" transform="translate(431.7 546.67) scale(1 1.04)" stroke="#111111" stroke-width="0.2">0.5</text>
<line x1="435.3" y1="577.3" x2="436.9" y2="577.3" stroke="#4a4a4a" stroke-width="0.7"/>
<text x="0" y="0" font-size="8.8" text-anchor="end" fill="#111111" style="text-rendering:geometricPrecision" transform="translate(431.7 580.67) scale(1 1.04)" stroke="#111111" stroke-width="0.2">0</text>
<line x1="465.5" y1="577.3" x2="465.5" y2="575.7" stroke="#4a4a4a" stroke-width="0.7"/>
<text x="0" y="0" font-size="8.8" text-anchor="middle" fill="#111111" style="text-rendering:geometricPrecision" transform="translate(466.13 589.94) scale(1 1.04)" stroke="#111111" stroke-width="0.2">20</text>
<line x1="495.8" y1="577.3" x2="495.8" y2="575.7" stroke="#4a4a4a" stroke-width="0.7"/>
<text x="0" y="0" font-size="8.8" text-anchor="middle" fill="#111111" style="text-rendering:geometricPrecision" transform="translate(496.36 589.94) scale(1 1.04)" stroke="#111111" stroke-width="0.2">40</text>
<line x1="526" y1="577.3" x2="526" y2="575.7" stroke="#4a4a4a" stroke-width="0.7"/>
<text x="0" y="0" font-size="8.8" text-anchor="middle" fill="#111111" style="text-rendering:geometricPrecision" transform="translate(526.58 589.94) scale(1 1.04)" stroke="#111111" stroke-width="0.2">60</text>
<line x1="556.2" y1="577.3" x2="556.2" y2="575.7" stroke="#4a4a4a" stroke-width="0.7"/>
<text x="0" y="0" font-size="8.8" text-anchor="middle" fill="#111111" style="text-rendering:geometricPrecision" transform="translate(556.81 589.94) scale(1 1.04)" stroke="#111111" stroke-width="0.2">80</text>
<line x1="586.4" y1="577.3" x2="586.4" y2="575.7" stroke="#4a4a4a" stroke-width="0.7"/>
<text x="0" y="0" font-size="8.8" text-anchor="middle" fill="#111111" style="text-rendering:geometricPrecision" transform="translate(586.24 589.94) scale(1 1.04)" stroke="#111111" stroke-width="0.2">100</text>
<text x="511.1" y="447.8" font-size="8.8" text-anchor="middle" fill="#111111" font-weight="bold" stroke="#111111" stroke-width="0.2">GRF vertical</text>
<text x="415.4" y="514.3" font-size="8.8" text-anchor="middle" fill="#111111" transform="rotate(-90 415.4 514.3)" stroke="#111111" stroke-width="0.2">Body weight [normalized]</text>
<line x1="448.4" y1="461.2" x2="496.5" y2="461.2" stroke="#9C3F4F" stroke-width="0.8"/>
<text x="449.2" y="458.4" font-size="7.25" fill="#861C30" stroke="#861C30" stroke-width="0.18">p &lt; 0.01</text>
<line x1="509.6" y1="461.2" x2="543.6" y2="461.2" stroke="#9C3F4F" stroke-width="0.8"/>
<text x="509.6" y="458.4" font-size="7.25" fill="#861C30" stroke="#861C30" stroke-width="0.18">p &lt; 0.01</text>
<clipPath id="c594440"><rect x="636.1" y="451.4" width="151.6" height="125.9"/></clipPath>
<g clip-path="url(#c594440)">
<rect x="695.3" y="451.4" width="16.4" height="125.9" fill="#E6E6E6" stroke="none" stroke-width="0.6"/>
<polygon points="636.1,548.8 638.3,548.9 640.4,548.9 642.6,549 644.8,549 647,549.1 649.2,549.1 651.4,549.2 653.6,549.2 655.8,549.3 658,549.3 660.2,549.4 662.3,549.4 664.5,549.5 666.7,549.5 668.9,549.6 671.1,549.6 673.3,549.6 675.5,549.7 677.7,549.7 679.9,549.7 682.1,549.8 684.3,549.8 686.4,549.8 688.6,549.8 690.8,549.8 693,549.8 695.2,549.8 697.4,549.8 699.6,549.8 701.8,549.8 704,549.8 706.2,549.8 708.3,549.8 710.5,549.8 712.7,549.8 714.9,549.8 717.1,549.8 719.3,549.8 721.5,549.8 723.7,549.8 725.9,549.8 728.1,549.8 730.3,549.8 732.4,549.8 734.6,549.8 736.8,549.8 739,549.8 741.2,549.8 743.4,549.8 745.6,549.8 747.8,549.8 750,549.8 752.2,549.8 754.3,549.8 756.5,549.8 758.7,549.8 760.9,549.8 763.1,549.8 765.3,549.8 767.5,549.8 769.7,549.8 771.9,549.8 774.1,549.8 776.2,549.8 778.4,549.8 780.6,549.8 782.8,549.8 785,549.8 787.2,549.8 787.2,566.4 785,566.4 782.8,566.4 780.6,566.4 778.4,566.4 776.2,566.4 774.1,566.4 771.9,566.4 769.7,566.4 767.5,566.4 765.3,566.4 763.1,566.4 760.9,566.4 758.7,566.4 756.5,566.4 754.3,566.3 752.2,566.3 750,566.3 747.8,566.3 745.6,566.3 743.4,566.3 741.2,566.3 739,566.3 736.8,566.3 734.6,566.2 732.4,566.2 730.3,566.2 728.1,566.2 725.9,566.2 723.7,566.2 721.5,566.1 719.3,566.1 717.1,566.1 714.9,566.1 712.7,566.1 710.5,566.1 708.3,566.1 706.2,566 704,566 701.8,566 699.6,566 697.4,566 695.2,565.9 693,565.9 690.8,565.9 688.6,565.9 686.4,565.9 684.3,565.8 682.1,565.8 679.9,565.8 677.7,565.8 675.5,565.8 673.3,565.7 671.1,565.7 668.9,565.7 666.7,565.6 664.5,565.6 662.3,565.6 660.2,565.6 658,565.5 655.8,565.5 653.6,565.5 651.4,565.4 649.2,565.4 647,565.4 644.8,565.3 642.6,565.3 640.4,565.3 638.3,565.2 636.1,565.2" fill="#4C86D0" fill-opacity="0.09" stroke="none"/>
<polygon points="636.1,547.1 638.3,547.1 640.4,547.2 642.6,547.3 644.8,547.3 647,547.4 649.2,547.5 651.4,547.5 653.6,547.6 655.8,547.7 658,547.7 660.2,547.8 662.3,547.8 664.5,547.9 666.7,547.9 668.9,548 671.1,548 673.3,548.1 675.5,548.1 677.7,548.2 679.9,548.2 682.1,548.2 684.3,548.3 686.4,548.3 688.6,548.3 690.8,548.3 693,548.3 695.2,548.3 697.4,548.3 699.6,548.3 701.8,548.3 704,548.3 706.2,548.3 708.3,548.3 710.5,548.3 712.7,548.3 714.9,548.3 717.1,548.3 719.3,548.3 721.5,548.3 723.7,548.3 725.9,548.3 728.1,548.3 730.3,548.3 732.4,548.3 734.6,548.3 736.8,548.3 739,548.3 741.2,548.2 743.4,548.2 745.6,548.2 747.8,548.2 750,548.2 752.2,548.2 754.3,548.2 756.5,548.2 758.7,548.1 760.9,548.1 763.1,548.1 765.3,548.1 767.5,548.1 769.7,548 771.9,548 774.1,548 776.2,548 778.4,547.9 780.6,547.9 782.8,547.9 785,547.8 787.2,547.8 787.2,565.7 785,565.7 782.8,565.7 780.6,565.7 778.4,565.7 776.2,565.7 774.1,565.7 771.9,565.7 769.7,565.7 767.5,565.7 765.3,565.7 763.1,565.7 760.9,565.6 758.7,565.6 756.5,565.6 754.3,565.6 752.2,565.6 750,565.6 747.8,565.6 745.6,565.6 743.4,565.6 741.2,565.5 739,565.5 736.8,565.5 734.6,565.5 732.4,565.5 730.3,565.5 728.1,565.5 725.9,565.4 723.7,565.4 721.5,565.4 719.3,565.4 717.1,565.4 714.9,565.4 712.7,565.3 710.5,565.3 708.3,565.3 706.2,565.3 704,565.3 701.8,565.3 699.6,565.2 697.4,565.2 695.2,565.2 693,565.2 690.8,565.1 688.6,565.1 686.4,565.1 684.3,565.1 682.1,565 679.9,565 677.7,565 675.5,564.9 673.3,564.9 671.1,564.8 668.9,564.8 666.7,564.7 664.5,564.7 662.3,564.6 660.2,564.6 658,564.5 655.8,564.5 653.6,564.4 651.4,564.3 649.2,564.3 647,564.2 644.8,564.2 642.6,564.1 640.4,564.1 638.3,564 636.1,563.9" fill="#5F3CB4" fill-opacity="0.09" stroke="none"/>
<polyline points="636.1,555.1 638.3,555.1 640.4,555.2 642.6,555.2 644.8,555.2 647,555.2 649.2,555.3 651.4,555.3 653.6,555.3 655.8,555.3 658,555.4 660.2,555.4 662.3,555.5 664.5,555.5 666.7,555.5 668.9,555.6 671.1,555.6 673.3,555.7 675.5,555.7 677.7,555.7 679.9,555.8 682.1,555.8 684.3,555.9 686.4,555.9 688.6,556 690.8,556 693,556.1 695.2,556.1 697.4,556.2 699.6,556.3 701.8,556.3 704,556.4 706.2,556.5 708.3,556.6 710.5,556.7 712.7,556.8 714.9,556.8 717.1,556.9 719.3,556.9 721.5,556.9 723.7,556.9 725.9,556.9 728.1,556.9 730.3,556.9 732.4,556.9 734.6,556.9 736.8,556.9 739,556.9 741.2,556.9 743.4,556.9 745.6,556.8 747.8,556.8 750,556.8 752.2,556.8 754.3,556.8 756.5,556.8 758.7,556.8 760.9,556.8 763.1,556.7 765.3,556.7 767.5,556.7 769.7,556.7 771.9,556.6 774.1,556.6 776.2,556.6 778.4,556.5 780.6,556.5 782.8,556.5 785,556.4 787.2,556.4" fill="none" stroke="#6231B0" stroke-width="1.3" stroke-linejoin="round" stroke-linecap="round"/>
<polyline points="636.1,557.5 638.3,557.5 640.4,557.6 642.6,557.6 644.8,557.6 647,557.7 649.2,557.7 651.4,557.7 653.6,557.8 655.8,557.8 658,557.8 660.2,557.9 662.3,557.9 664.5,557.9 666.7,558 668.9,558 671.1,558 673.3,558.1 675.5,558.1 677.7,558.1 679.9,558.2 682.1,558.2 684.3,558.2 686.4,558.3 688.6,558.3 690.8,558.3 693,558.4 695.2,558.4 697.4,558.4 699.6,558.5 701.8,558.5 704,558.5 706.2,558.6 708.3,558.6 710.5,558.7 712.7,558.7 714.9,558.8 717.1,558.8 719.3,558.8 721.5,558.9 723.7,558.9 725.9,559 728.1,559 730.3,559 732.4,559.1 734.6,559.1 736.8,559.1 739,559.1 741.2,559.1 743.4,559.1 745.6,559.1 747.8,559.1 750,559.1 752.2,559.1 754.3,559.1 756.5,559.1 758.7,559.1 760.9,559.1 763.1,559.1 765.3,559.1 767.5,559.1 769.7,559.1 771.9,559.1 774.1,559.1 776.2,559.1 778.4,559.1 780.6,559.1 782.8,559.1 785,559.1 787.2,559.1" fill="none" stroke="#3577C6" stroke-width="1.3" stroke-linejoin="round" stroke-linecap="round"/>
</g>
<line x1="636.1" y1="451.4" x2="636.1" y2="577.6" stroke="#4a4a4a" stroke-width="0.7"/>
<line x1="635.8" y1="577.3" x2="787.5" y2="577.3" stroke="#4a4a4a" stroke-width="0.7"/>
<line x1="636.1" y1="456.4" x2="637.7" y2="456.4" stroke="#4a4a4a" stroke-width="0.7"/>
<text x="0" y="0" font-size="8.8" text-anchor="end" fill="#111111" style="text-rendering:geometricPrecision" transform="translate(632.47 459.77) scale(1 1.04)" stroke="#111111" stroke-width="0.2">0.6</text>
<line x1="636.1" y1="477.3" x2="637.7" y2="477.3" stroke="#4a4a4a" stroke-width="0.7"/>
<text x="0" y="0" font-size="8.8" text-anchor="end" fill="#111111" style="text-rendering:geometricPrecision" transform="translate(632.47 480.67) scale(1 1.04)" stroke="#111111" stroke-width="0.2">0.55</text>
<line x1="636.1" y1="498.4" x2="637.7" y2="498.4" stroke="#4a4a4a" stroke-width="0.7"/>
<text x="0" y="0" font-size="8.8" text-anchor="end" fill="#111111" style="text-rendering:geometricPrecision" transform="translate(632.47 501.83) scale(1 1.04)" stroke="#111111" stroke-width="0.2">0.5</text>
<line x1="636.1" y1="519.6" x2="637.7" y2="519.6" stroke="#4a4a4a" stroke-width="0.7"/>
<text x="0" y="0" font-size="8.8" text-anchor="end" fill="#111111" style="text-rendering:geometricPrecision" transform="translate(632.47 522.99) scale(1 1.04)" stroke="#111111" stroke-width="0.2">0.45</text>
<line x1="636.1" y1="540.8" x2="637.7" y2="540.8" stroke="#4a4a4a" stroke-width="0.7"/>
<text x="0" y="0" font-size="8.8" text-anchor="end" fill="#111111" style="text-rendering:geometricPrecision" transform="translate(632.47 544.15) scale(1 1.04)" stroke="#111111" stroke-width="0.2">0.4</text>
<line x1="636.1" y1="562.2" x2="637.7" y2="562.2" stroke="#4a4a4a" stroke-width="0.7"/>
<text x="0" y="0" font-size="8.8" text-anchor="end" fill="#111111" style="text-rendering:geometricPrecision" transform="translate(632.47 565.56) scale(1 1.04)" stroke="#111111" stroke-width="0.2">0.35</text>
<line x1="666.3" y1="577.3" x2="666.3" y2="575.7" stroke="#4a4a4a" stroke-width="0.7"/>
<text x="0" y="0" font-size="8.8" text-anchor="middle" fill="#111111" style="text-rendering:geometricPrecision" transform="translate(666.89 589.94) scale(1 1.04)" stroke="#111111" stroke-width="0.2">20</text>
<line x1="696.5" y1="577.3" x2="696.5" y2="575.7" stroke="#4a4a4a" stroke-width="0.7"/>
<text x="0" y="0" font-size="8.8" text-anchor="middle" fill="#111111" style="text-rendering:geometricPrecision" transform="translate(697.12 589.94) scale(1 1.04)" stroke="#111111" stroke-width="0.2">40</text>
<line x1="726.7" y1="577.3" x2="726.7" y2="575.7" stroke="#4a4a4a" stroke-width="0.7"/>
<text x="0" y="0" font-size="8.8" text-anchor="middle" fill="#111111" style="text-rendering:geometricPrecision" transform="translate(727.35 589.94) scale(1 1.04)" stroke="#111111" stroke-width="0.2">60</text>
<line x1="757" y1="577.3" x2="757" y2="575.7" stroke="#4a4a4a" stroke-width="0.7"/>
<text x="0" y="0" font-size="8.8" text-anchor="middle" fill="#111111" style="text-rendering:geometricPrecision" transform="translate(757.57 589.94) scale(1 1.04)" stroke="#111111" stroke-width="0.2">80</text>
<line x1="787.2" y1="577.3" x2="787.2" y2="575.7" stroke="#4a4a4a" stroke-width="0.7"/>
<text x="0" y="0" font-size="8.8" text-anchor="middle" fill="#111111" style="text-rendering:geometricPrecision" transform="translate(787 589.94) scale(1 1.04)" stroke="#111111" stroke-width="0.2">100</text>
<text x="711.8" y="447.8" font-size="8.8" text-anchor="middle" fill="#111111" font-weight="bold" stroke="#111111" stroke-width="0.2">CoM medio-lateral</text>
<text x="611.6" y="514.3" font-size="8.8" text-anchor="middle" fill="#111111" transform="rotate(-90 611.6 514.3)" stroke="#111111" stroke-width="0.2">Body height [normalized]</text>
<clipPath id="c600"><rect x="34.8" y="621.7" width="151.6" height="125.7"/></clipPath>
<g clip-path="url(#c600)">
<polygon points="60.5,703.8 62.5,703.7 64.5,703.6 66.5,703.5 68.6,703.4 70.6,703.3 72.6,703.3 74.7,703.3 76.7,703.3 78.7,703.3 80.8,703.3 82.8,703.4 84.8,703.4 86.9,703.5 88.9,703.5 90.9,703.5 93,703.5 95,703.5 97,703.5 99.1,703.4 101.1,703.4 103.1,703.4 105.2,703.3 107.2,703.2 109.2,703 111.2,702.7 113.3,702.4 115.3,701.9 117.2,701.5 119.2,701.1 121.2,700.5 123.1,699.9 125,699.1 126.9,698.4 128.7,697.5 130.5,696.6 132.3,695.6 134,694.5 135.8,693.4 137.4,692.2 139.1,691.1 140.8,689.9 142.4,688.6 143.8,687.2 145.1,685.7 146.4,684.1 147.6,682.4 148.7,680.7 149.8,679 150.8,677.2 151.7,675.4 152.6,673.5 153.4,671.7 154.2,669.8 155,668 155.8,666.1 156.5,664.1 157.1,662.2 157.8,660.3 158.5,658.4 159.1,656.4 159.7,654.5 160.3,652.6 160.8,650.6 161.5,648.7 162.1,646.7 162.7,644.8 163.4,642.9 164.1,641 164.7,639 166.8,639 166.5,641.2 166.2,643.4 165.9,645.6 165.6,647.8 165.2,649.9 164.9,652.1 164.5,654.3 164,656.4 163.6,658.6 163.1,660.7 162.5,662.8 162,665 161.4,667.1 160.8,669.2 160.2,671.3 159.6,673.4 158.9,675.5 158.2,677.6 157.4,679.7 156.5,681.7 155.6,683.7 154.7,685.7 153.7,687.6 152.6,689.6 151.4,691.4 150.2,693.3 148.8,695 147.3,696.6 145.7,698.1 144,699.6 142.3,700.9 140.4,702.1 138.6,703.2 136.6,704.2 134.6,705.2 132.6,706.1 130.5,706.8 128.4,707.5 126.3,708.1 124.1,708.6 122,709 119.8,709.3 117.6,709.4 115.4,709.6 113.2,709.7 111,709.7 108.8,709.8 106.6,709.8 104.4,709.8 102.2,709.8 100,709.7 97.8,709.6 95.6,709.5 93.4,709.4 91.2,709.3 89,709.3 86.8,709.2 84.6,709.1 82.4,709 80.2,708.9 78,708.8 75.8,708.8 73.6,708.8 71.4,708.8 69.2,708.8 67.1,708.8 64.9,708.8 62.7,708.8 60.5,708.8" fill="#4C86D0" fill-opacity="0.09" stroke="none"/>
<polygon points="53.4,705.8 55.8,705.8 58.2,705.8 60.5,705.8 62.9,705.8 65.3,705.8 67.7,705.8 70.1,705.9 72.4,705.9 74.8,706 77.2,706.1 79.6,706.3 81.9,706.4 84.3,706.5 86.7,706.7 89.1,706.8 91.4,707 93.8,707.2 96.2,707.3 98.6,707.5 100.9,707.7 103.3,707.9 105.7,708 108.1,708.2 110.4,708.3 112.8,708.4 115.2,708.5 117.6,708.6 120,708.7 122.3,708.8 124.7,708.8 127.1,708.8 129.5,708.7 131.8,708.4 134.2,708.1 136.5,707.7 138.9,707.2 141.2,706.5 143.4,705.7 145.6,704.8 147.7,703.7 149.8,702.4 151.7,700.9 153.3,699.3 154.8,697.4 156.1,695.4 157.3,693.4 158.5,691.3 159.5,689.1 160.4,686.9 161.3,684.7 162,682.4 162.7,680.1 163.3,677.8 163.9,675.5 164.4,673.2 164.9,670.9 165.4,668.6 165.8,666.2 166.2,663.9 166.5,661.5 166.9,659.2 167.2,656.8 167.6,654.4 168,652.1 168.3,649.7 168.7,647.4 169,645 169.3,642.7 169.5,640.3 170,640.3 170,642.9 170,645.4 170,648 170,650.5 169.8,653.1 169.7,655.7 169.5,658.2 169.4,660.8 169.2,663.3 169,665.9 168.8,668.4 168.6,671 168.3,673.5 168,676.1 167.7,678.6 167.3,681.1 166.9,683.7 166.4,686.2 165.9,688.7 165.2,691.2 164.5,693.6 163.7,696 162.7,698.4 161.6,700.8 160.3,703 158.9,705.1 157.3,707.1 155.5,709 153.6,710.7 151.6,712.2 149.4,713.6 147.1,714.7 144.8,715.7 142.3,716.6 139.8,717.4 137.3,717.9 134.8,718.2 132.3,718.5 129.7,718.7 127.1,718.9 124.6,718.9 122,718.8 119.5,718.6 116.9,718.4 114.4,718.2 111.8,718 109.3,717.7 106.7,717.4 104.2,717.1 101.7,716.7 99.1,716.3 96.6,716 94,715.6 91.5,715.3 89,715 86.4,714.6 83.9,714.3 81.4,714 78.8,713.6 76.3,713.2 73.8,712.7 71.2,712.3 68.7,711.9 66.2,711.7 63.6,711.4 61.1,711.2 58.5,711.1 56,710.9 53.4,710.8" fill="#5F3CB4" fill-opacity="0.09" stroke="none"/>
<polyline points="53.4,708.3 55.9,708.3 58.3,708.3 60.8,708.3 63.3,708.3 65.7,708.3 68.2,708.3 70.7,708.4 73.1,708.6 75.6,708.7 78.1,708.9 80.5,709.1 83,709.3 85.4,709.5 87.9,709.8 90.3,710.2 92.8,710.5 95.2,710.8 97.7,711.1 100.2,711.3 102.6,711.6 105.1,711.9 107.5,712.1 110,712.3 112.4,712.4 114.9,712.5 117.4,712.6 119.8,712.7 122.3,712.8 124.8,712.8 127.3,712.8 129.7,712.7 132.2,712.5 134.6,712.2 137.1,711.9 139.5,711.5 141.9,710.9 144.3,710.2 146.6,709.4 148.9,708.4 151.1,707.1 153.1,705.7 154.9,704.1 156.6,702.3 158.1,700.3 159.5,698.3 160.7,696.1 161.7,693.8 162.6,691.5 163.4,689.2 164.1,686.8 164.7,684.4 165.2,682 165.7,679.6 166.1,677.1 166.4,674.7 166.8,672.2 167.1,669.8 167.4,667.3 167.6,664.9 167.8,662.4 168.1,660 168.3,657.5 168.6,655.1 168.8,652.6 169.1,650.2 169.3,647.7 169.5,645.2 169.6,642.8 169.8,640.3" fill="none" stroke="#6231B0" stroke-width="1.65" stroke-linejoin="round" stroke-linecap="round"/>
<polyline points="60.5,706.3 62.6,706.2 64.7,706.2 66.8,706.1 68.9,706.1 71.1,706.1 73.2,706 75.3,706 77.4,706.1 79.5,706.1 81.7,706.2 83.8,706.3 85.9,706.4 88,706.5 90.1,706.5 92.3,706.6 94.4,706.6 96.5,706.7 98.6,706.7 100.8,706.8 102.9,706.8 105,706.8 107.1,706.8 109.2,706.7 111.4,706.6 113.5,706.4 115.6,706.1 117.7,705.9 119.8,705.6 121.9,705.2 124,704.7 126,704.1 128,703.4 130,702.7 131.9,701.9 133.9,700.9 135.8,699.9 137.6,698.8 139.4,697.7 141.1,696.5 142.8,695.1 144.4,693.7 145.9,692.2 147.2,690.6 148.4,688.9 149.6,687.1 150.7,685.2 151.7,683.4 152.7,681.5 153.7,679.6 154.7,677.7 155.5,675.8 156.4,673.8 157.1,671.9 157.8,669.9 158.5,667.8 159.1,665.8 159.7,663.8 160.3,661.7 160.9,659.7 161.4,657.6 161.9,655.6 162.5,653.5 163,651.5 163.5,649.4 163.9,647.3 164.4,645.3 164.9,643.2 165.3,641.1 165.7,639" fill="none" stroke="#3577C6" stroke-width="1.65" stroke-linejoin="round" stroke-linecap="round"/>
</g>
<line x1="34.8" y1="621.7" x2="34.8" y2="747.7" stroke="#4a4a4a" stroke-width="0.7"/>
<line x1="34.5" y1="747.4" x2="186.2" y2="747.4" stroke="#4a4a4a" stroke-width="0.7"/>
<line x1="34.8" y1="626.4" x2="36.4" y2="626.4" stroke="#4a4a4a" stroke-width="0.7"/>
<text x="0" y="0" font-size="8.8" text-anchor="end" fill="#111111" style="text-rendering:geometricPrecision" transform="translate(31.16 629.84) scale(1 1.04)" stroke="#111111" stroke-width="0.2">0.65</text>
<line x1="34.8" y1="652.4" x2="36.4" y2="652.4" stroke="#4a4a4a" stroke-width="0.7"/>
<text x="0" y="0" font-size="8.8" text-anchor="end" fill="#111111" style="text-rendering:geometricPrecision" transform="translate(31.16 655.79) scale(1 1.04)" stroke="#111111" stroke-width="0.2">0.6</text>
<line x1="34.8" y1="678.6" x2="36.4" y2="678.6" stroke="#4a4a4a" stroke-width="0.7"/>
<text x="0" y="0" font-size="8.8" text-anchor="end" fill="#111111" style="text-rendering:geometricPrecision" transform="translate(31.16 681.98) scale(1 1.04)" stroke="#111111" stroke-width="0.2">0.55</text>
<line x1="34.8" y1="704.5" x2="36.4" y2="704.5" stroke="#4a4a4a" stroke-width="0.7"/>
<text x="0" y="0" font-size="8.8" text-anchor="end" fill="#111111" style="text-rendering:geometricPrecision" transform="translate(31.16 707.93) scale(1 1.04)" stroke="#111111" stroke-width="0.2">0.5</text>
<line x1="34.8" y1="730.5" x2="36.4" y2="730.5" stroke="#4a4a4a" stroke-width="0.7"/>
<text x="0" y="0" font-size="8.8" text-anchor="end" fill="#111111" style="text-rendering:geometricPrecision" transform="translate(31.16 733.87) scale(1 1.04)" stroke="#111111" stroke-width="0.2">0.45</text>
<line x1="34.8" y1="747.4" x2="34.8" y2="745.8" stroke="#4a4a4a" stroke-width="0.7"/>
<text x="0" y="0" font-size="8.8" text-anchor="middle" fill="#111111" style="text-rendering:geometricPrecision" transform="translate(34.46 760.04) scale(1 1.04)" stroke="#111111" stroke-width="0.2">0.35</text>
<line x1="65" y1="747.4" x2="65" y2="745.8" stroke="#4a4a4a" stroke-width="0.7"/>
<text x="0" y="0" font-size="8.8" text-anchor="middle" fill="#111111" style="text-rendering:geometricPrecision" transform="translate(64.69 760.04) scale(1 1.04)" stroke="#111111" stroke-width="0.2">0.3</text>
<line x1="95.2" y1="747.4" x2="95.2" y2="745.8" stroke="#4a4a4a" stroke-width="0.7"/>
<text x="0" y="0" font-size="8.8" text-anchor="middle" fill="#111111" style="text-rendering:geometricPrecision" transform="translate(94.91 760.04) scale(1 1.04)" stroke="#111111" stroke-width="0.2">0.25</text>
<line x1="125.4" y1="747.4" x2="125.4" y2="745.8" stroke="#4a4a4a" stroke-width="0.7"/>
<text x="0" y="0" font-size="8.8" text-anchor="middle" fill="#111111" style="text-rendering:geometricPrecision" transform="translate(125.14 760.04) scale(1 1.04)" stroke="#111111" stroke-width="0.2">0.2</text>
<line x1="155.7" y1="747.4" x2="155.7" y2="745.8" stroke="#4a4a4a" stroke-width="0.7"/>
<text x="0" y="0" font-size="8.8" text-anchor="middle" fill="#111111" style="text-rendering:geometricPrecision" transform="translate(155.37 760.04) scale(1 1.04)" stroke="#111111" stroke-width="0.2">0.15</text>
<line x1="185.9" y1="747.4" x2="185.9" y2="745.8" stroke="#4a4a4a" stroke-width="0.7"/>
<text x="0" y="0" font-size="8.8" text-anchor="middle" fill="#111111" style="text-rendering:geometricPrecision" transform="translate(185.59 760.04) scale(1 1.04)" stroke="#111111" stroke-width="0.2">0.1</text>
<text x="110.5" y="618.1" font-size="8.8" text-anchor="middle" fill="#111111" font-weight="bold" stroke="#111111" stroke-width="0.2">CoM vertical, anterior-posterior</text>
<text x="7.1" y="684.5" font-size="8.8" text-anchor="middle" fill="#111111" transform="rotate(-90 7.1 684.5)" stroke="#111111" stroke-width="0.2">Body height [normalized]</text>
<text x="110.8" y="773" font-size="8.8" text-anchor="middle" fill="#111111" stroke="#111111" stroke-width="0.2">Body height [normalized]</text>
<clipPath id="c195600"><rect x="235.3" y="621.7" width="151.6" height="125.7"/></clipPath>
<g clip-path="url(#c195600)">
<rect x="294" y="621.7" width="16.9" height="125.7" fill="#E6E6E6" stroke="none" stroke-width="0.6"/>
<polygon points="235.3,684.4 237.5,683.8 239.7,683.2 241.9,682.6 244.1,682 246.3,681.3 248.4,680.7 250.6,680.1 252.8,679.4 255,678.8 257.2,678.1 259.4,677.5 261.6,676.8 263.8,676.1 266,675.4 268.2,674.7 270.3,674 272.5,673.2 274.7,672.4 276.9,671.6 279.1,670.8 281.3,670 283.5,669.3 285.7,668.5 287.9,667.8 290.1,667.1 292.3,666.4 294.4,665.8 296.6,665.3 298.8,664.7 301,664.1 303.2,663.5 305.4,663.1 307.6,662.7 309.8,662.5 312,662.5 314.2,662.5 316.3,662.6 318.5,662.7 320.7,662.8 322.9,662.9 325.1,663 327.3,663.2 329.5,663.4 331.7,663.5 333.9,663.8 336.1,664.1 338.2,664.5 340.4,664.9 342.6,665.4 344.8,665.9 347,666.5 349.2,667 351.4,667.6 353.6,668.1 355.8,668.8 358,669.5 360.2,670.2 362.3,671 364.5,671.8 366.7,672.6 368.9,673.4 371.1,674.2 373.3,675.1 375.5,675.9 377.7,676.8 379.9,677.7 382.1,678.7 384.2,679.6 386.4,680.6 386.4,702 384.2,700.8 382.1,699.6 379.9,698.4 377.7,697.3 375.5,696.3 373.3,695.3 371.1,694.4 368.9,693.5 366.7,692.7 364.5,691.9 362.3,691.2 360.2,690.5 358,689.8 355.8,689.1 353.6,688.4 351.4,687.7 349.2,687 347,686.3 344.8,685.6 342.6,684.9 340.4,684.2 338.2,683.6 336.1,683 333.9,682.4 331.7,682 329.5,681.6 327.3,681.2 325.1,680.8 322.9,680.5 320.7,680.1 318.5,679.8 316.3,679.6 314.2,679.4 312,679.4 309.8,679.4 307.6,679.4 305.4,679.6 303.2,679.7 301,680 298.8,680.2 296.6,680.5 294.4,680.8 292.3,681.2 290.1,681.8 287.9,682.5 285.7,683.3 283.5,684.1 281.3,685 279.1,685.9 276.9,686.9 274.7,687.8 272.5,688.7 270.3,689.6 268.2,690.3 266,691.1 263.8,691.7 261.6,692.3 259.4,692.9 257.2,693.5 255,694.1 252.8,694.7 250.6,695.3 248.4,695.8 246.3,696.3 244.1,696.8 241.9,697.3 239.7,697.8 237.5,698.3 235.3,698.7" fill="#4C86D0" fill-opacity="0.09" stroke="none"/>
<polygon points="235.3,683.1 237.5,682.6 239.7,682.1 241.9,681.6 244.1,681.1 246.3,680.5 248.4,680 250.6,679.4 252.8,678.8 255,678.2 257.2,677.5 259.4,676.9 261.6,676.3 263.8,675.6 266,674.9 268.2,674.2 270.3,673.5 272.5,672.7 274.7,671.8 276.9,671 279.1,670.2 281.3,669.3 283.5,668.5 285.7,667.7 287.9,666.9 290.1,666.2 292.3,665.5 294.4,664.7 296.6,663.9 298.8,663.2 301,662.5 303.2,662 305.4,661.7 307.6,661.6 309.8,661.5 312,661.4 314.2,661.3 316.3,661.3 318.5,661.2 320.7,661.2 322.9,661.3 325.1,661.6 327.3,662 329.5,662.5 331.7,663.1 333.9,663.7 336.1,664.2 338.2,664.8 340.4,665.5 342.6,666.3 344.8,667 347,667.8 349.2,668.6 351.4,669.3 353.6,670 355.8,670.7 358,671.4 360.2,672.1 362.3,672.8 364.5,673.4 366.7,674.1 368.9,674.8 371.1,675.5 373.3,676.2 375.5,676.9 377.7,677.6 379.9,678.4 382.1,679.1 384.2,679.9 386.4,680.6 386.4,715.9 384.2,714.9 382.1,713.8 379.9,712.8 377.7,711.7 375.5,710.6 373.3,709.4 371.1,708.2 368.9,706.9 366.7,705.7 364.5,704.3 362.3,702.9 360.2,701.5 358,700.1 355.8,698.7 353.6,697.3 351.4,695.9 349.2,694.4 347,692.9 344.8,691.3 342.6,689.8 340.4,688.3 338.2,686.9 336.1,685.6 333.9,684.4 331.7,683.1 329.5,681.8 327.3,680.7 325.1,679.7 322.9,679 320.7,678.6 318.5,678.3 316.3,678.1 314.2,677.9 312,677.8 309.8,677.7 307.6,677.6 305.4,677.6 303.2,677.8 301,678.3 298.8,678.9 296.6,679.7 294.4,680.5 292.3,681.3 290.1,682.1 287.9,682.9 285.7,683.7 283.5,684.7 281.3,685.6 279.1,686.6 276.9,687.6 274.7,688.6 272.5,689.5 270.3,690.3 268.2,691.1 266,691.8 263.8,692.4 261.6,693 259.4,693.6 257.2,694.1 255,694.7 252.8,695.2 250.6,695.7 248.4,696.2 246.3,696.6 244.1,697 241.9,697.4 239.7,697.7 237.5,698 235.3,698.2" fill="#5F3CB4" fill-opacity="0.09" stroke="none"/>
<polyline points="235.3,690.2 237.5,689.7 239.7,689.3 241.9,688.8 244.1,688.3 246.3,687.9 248.4,687.4 250.6,686.9 252.8,686.3 255,685.8 257.2,685.3 259.4,684.8 261.6,684.2 263.8,683.6 266,683 268.2,682.3 270.3,681.5 272.5,680.7 274.7,679.9 276.9,679 279.1,678.2 281.3,677.3 283.5,676.5 285.7,675.6 287.9,674.7 290.1,673.9 292.3,673 294.4,672.2 296.6,671.5 298.8,670.7 301,670 303.2,669.3 305.4,668.8 307.6,668.5 309.8,668.2 312,668 314.2,668 316.3,668.1 318.5,668.1 320.7,668.2 322.9,668.5 325.1,669 327.3,669.6 329.5,670.4 331.7,671.3 333.9,672.4 336.1,673.6 338.2,674.7 340.4,676 342.6,677.3 344.8,678.6 347,679.9 349.2,681.1 351.4,682.4 353.6,683.7 355.8,684.9 358,686.1 360.2,687.2 362.3,688.3 364.5,689.4 366.7,690.4 368.9,691.3 371.1,692.2 373.3,693.1 375.5,693.9 377.7,694.7 379.9,695.4 382.1,696.1 384.2,696.8 386.4,697.5" fill="none" stroke="#6231B0" stroke-width="1.65" stroke-linejoin="round" stroke-linecap="round"/>
<polyline points="235.3,691.2 237.5,690.7 239.7,690.3 241.9,689.8 244.1,689.3 246.3,688.7 248.4,688.2 250.6,687.6 252.8,687 255,686.4 257.2,685.7 259.4,685.1 261.6,684.4 263.8,683.7 266,683 268.2,682.2 270.3,681.4 272.5,680.6 274.7,679.8 276.9,678.9 279.1,678.1 281.3,677.4 283.5,676.6 285.7,675.8 287.9,675.1 290.1,674.5 292.3,673.9 294.4,673.4 296.6,672.9 298.8,672.5 301,672.3 303.2,672.1 305.4,671.9 307.6,671.8 309.8,671.8 312,671.9 314.2,672 316.3,672.1 318.5,672.2 320.7,672.4 322.9,672.7 325.1,672.9 327.3,673.2 329.5,673.6 331.7,674.1 333.9,674.6 336.1,675.1 338.2,675.5 340.4,676 342.6,676.5 344.8,677 347,677.5 349.2,678.1 351.4,678.6 353.6,679.2 355.8,679.7 358,680.3 360.2,680.9 362.3,681.5 364.5,682.1 366.7,682.8 368.9,683.5 371.1,684.3 373.3,685.2 375.5,686 377.7,686.9 379.9,687.9 382.1,688.9 384.2,689.9 386.4,690.9" fill="none" stroke="#3577C6" stroke-width="1.65" stroke-linejoin="round" stroke-linecap="round"/>
</g>
<line x1="235.3" y1="621.7" x2="235.3" y2="747.7" stroke="#4a4a4a" stroke-width="0.7"/>
<line x1="235" y1="747.4" x2="386.7" y2="747.4" stroke="#4a4a4a" stroke-width="0.7"/>
<line x1="235.3" y1="627.7" x2="236.9" y2="627.7" stroke="#4a4a4a" stroke-width="0.7"/>
<text x="0" y="0" font-size="8.8" text-anchor="end" fill="#111111" style="text-rendering:geometricPrecision" transform="translate(231.7 631.1) scale(1 1.04)" stroke="#111111" stroke-width="0.2">60</text>
<line x1="235.3" y1="655.7" x2="236.9" y2="655.7" stroke="#4a4a4a" stroke-width="0.7"/>
<text x="0" y="0" font-size="8.8" text-anchor="end" fill="#111111" style="text-rendering:geometricPrecision" transform="translate(231.7 659.06) scale(1 1.04)" stroke="#111111" stroke-width="0.2">40</text>
<line x1="235.3" y1="683.6" x2="236.9" y2="683.6" stroke="#4a4a4a" stroke-width="0.7"/>
<text x="0" y="0" font-size="8.8" text-anchor="end" fill="#111111" style="text-rendering:geometricPrecision" transform="translate(231.7 687.02) scale(1 1.04)" stroke="#111111" stroke-width="0.2">20</text>
<line x1="235.3" y1="711.6" x2="236.9" y2="711.6" stroke="#4a4a4a" stroke-width="0.7"/>
<text x="0" y="0" font-size="8.8" text-anchor="end" fill="#111111" style="text-rendering:geometricPrecision" transform="translate(231.7 714.98) scale(1 1.04)" stroke="#111111" stroke-width="0.2">0</text>
<line x1="235.3" y1="739.3" x2="236.9" y2="739.3" stroke="#4a4a4a" stroke-width="0.7"/>
<text x="0" y="0" font-size="8.8" text-anchor="end" fill="#111111" style="text-rendering:geometricPrecision" transform="translate(231.7 742.69) scale(1 1.04)" stroke="#111111" stroke-width="0.2">-20</text>
<line x1="265.5" y1="747.4" x2="265.5" y2="745.8" stroke="#4a4a4a" stroke-width="0.7"/>
<text x="0" y="0" font-size="8.8" text-anchor="middle" fill="#111111" style="text-rendering:geometricPrecision" transform="translate(266.13 760.04) scale(1 1.04)" stroke="#111111" stroke-width="0.2">20</text>
<line x1="295.8" y1="747.4" x2="295.8" y2="745.8" stroke="#4a4a4a" stroke-width="0.7"/>
<text x="0" y="0" font-size="8.8" text-anchor="middle" fill="#111111" style="text-rendering:geometricPrecision" transform="translate(296.36 760.04) scale(1 1.04)" stroke="#111111" stroke-width="0.2">40</text>
<line x1="326" y1="747.4" x2="326" y2="745.8" stroke="#4a4a4a" stroke-width="0.7"/>
<text x="0" y="0" font-size="8.8" text-anchor="middle" fill="#111111" style="text-rendering:geometricPrecision" transform="translate(326.58 760.04) scale(1 1.04)" stroke="#111111" stroke-width="0.2">60</text>
<line x1="356.2" y1="747.4" x2="356.2" y2="745.8" stroke="#4a4a4a" stroke-width="0.7"/>
<text x="0" y="0" font-size="8.8" text-anchor="middle" fill="#111111" style="text-rendering:geometricPrecision" transform="translate(356.81 760.04) scale(1 1.04)" stroke="#111111" stroke-width="0.2">80</text>
<line x1="386.4" y1="747.4" x2="386.4" y2="745.8" stroke="#4a4a4a" stroke-width="0.7"/>
<text x="0" y="0" font-size="8.8" text-anchor="middle" fill="#111111" style="text-rendering:geometricPrecision" transform="translate(386.24 760.04) scale(1 1.04)" stroke="#111111" stroke-width="0.2">100</text>
<text x="311.1" y="618.1" font-size="8.8" text-anchor="middle" fill="#111111" font-weight="bold" stroke="#111111" stroke-width="0.2">Ankle angle sagittal</text>
<text x="215.6" y="684.5" font-size="8.3" text-anchor="middle" fill="#111111" transform="rotate(-90 215.6 684.5)" stroke="#111111" stroke-width="0.2">[&#176;]</text>
<line x1="304.1" y1="632" x2="322.2" y2="632" stroke="#C68A94" stroke-width="1.1"/>
<text x="304.1" y="629.1" font-size="7.25" fill="#861C30" stroke="#861C30" stroke-width="0.18">p &lt; 0.01</text>
<line x1="353.2" y1="632" x2="385.7" y2="632" stroke="#C68A94" stroke-width="1.1"/>
<text x="353.2" y="629.1" font-size="7.25" fill="#861C30" stroke="#861C30" stroke-width="0.18">p &lt; 0.01</text>
<clipPath id="c395600"><rect x="435.3" y="621.7" width="151.6" height="125.7"/></clipPath>
<g clip-path="url(#c395600)">
<rect x="495" y="621.7" width="16.4" height="125.7" fill="#E6E6E6" stroke="none" stroke-width="0.6"/>
<polygon points="435.3,689.7 437.5,689.5 439.7,689.2 441.9,688.9 444.1,688.6 446.3,688.3 448.5,687.9 450.7,687.5 452.9,687 455.1,686.5 457.3,685.9 459.5,685.1 461.7,684.3 463.9,683.5 466.1,682.7 468.3,681.9 470.5,681.1 472.7,680.3 474.9,679.6 477.1,678.9 479.3,678.2 481.5,677.5 483.7,676.9 485.8,676.6 488,676.3 490.2,676.1 492.4,675.9 494.6,675.8 496.8,675.8 499,675.9 501.2,676.1 503.4,676.3 505.6,676.6 507.8,677.1 510,677.6 512.2,678.2 514.4,678.9 516.6,679.7 518.8,680.5 521,681.4 523.2,682.3 525.4,683.3 527.6,684.3 529.8,685.3 532,686.4 534.2,687.4 536.4,688.5 538.6,689.6 540.8,690.8 543,691.9 545.2,693.1 547.4,694.3 549.6,695.6 551.8,696.8 554,698.1 556.2,699.3 558.4,700.6 560.6,701.9 562.8,703.1 565,704.3 567.2,705.6 569.4,706.7 571.6,707.9 573.8,709.1 576,710.3 578.1,711.5 580.3,712.6 582.5,713.6 584.7,714.7 586.9,715.6 586.9,725.2 584.7,724.2 582.5,723.2 580.3,722.2 578.1,721 576,719.9 573.8,718.7 571.6,717.5 569.4,716.3 567.2,715.1 565,713.9 562.8,712.7 560.6,711.5 558.4,710.2 556.2,708.9 554,707.6 551.8,706.4 549.6,705.2 547.4,703.9 545.2,702.7 543,701.5 540.8,700.3 538.6,699.2 536.4,698.1 534.2,697 532,695.9 529.8,694.9 527.6,693.8 525.4,692.8 523.2,691.9 521,691 518.8,690.1 516.6,689.3 514.4,688.5 512.2,687.8 510,687.2 507.8,686.7 505.6,686.2 503.4,685.9 501.2,685.7 499,685.5 496.8,685.4 494.6,685.4 492.4,685.5 490.2,685.7 488,685.9 485.8,686.1 483.7,686.5 481.5,687.1 479.3,687.7 477.1,688.5 474.9,689.2 472.7,689.9 470.5,690.7 468.3,691.5 466.1,692.3 463.9,693 461.7,693.9 459.5,694.7 457.3,695.4 455.1,696.1 452.9,696.6 450.7,697.1 448.5,697.5 446.3,697.8 444.1,698.2 441.9,698.5 439.7,698.8 437.5,699 435.3,699.2" fill="#4C86D0" fill-opacity="0.09" stroke="none"/>
<polygon points="435.3,692.2 437.5,692 439.7,691.7 441.9,691.4 444.1,691.1 446.3,690.8 448.5,690.4 450.7,690 452.9,689.5 455.1,689 457.3,688.4 459.5,687.7 461.7,686.9 463.9,686 466.1,685.2 468.3,684.2 470.5,683.2 472.7,682.2 474.9,681.2 477.1,680.3 479.3,679.4 481.5,678.5 483.7,677.7 485.8,677 488,676.4 490.2,675.9 492.4,675.4 494.6,675 496.8,674.7 499,674.4 501.2,674.1 503.4,674.1 505.6,674.1 507.8,674.2 510,674.3 512.2,674.4 514.4,674.7 516.6,675.2 518.8,675.8 521,676.3 523.2,677 525.4,677.9 527.6,678.8 529.8,679.8 532,680.8 534.2,681.8 536.4,682.9 538.6,684.1 540.8,685.2 543,686.4 545.2,687.6 547.4,688.8 549.6,690.1 551.8,691.3 554,692.5 556.2,693.7 558.4,694.9 560.6,696.1 562.8,697.3 565,698.6 567.2,699.9 569.4,701.1 571.6,702.4 573.8,703.7 576,704.9 578.1,706.2 580.3,707.5 582.5,708.7 584.7,709.9 586.9,711.1 586.9,720.7 584.7,719.5 582.5,718.3 580.3,717 578.1,715.8 576,714.5 573.8,713.2 571.6,712 569.4,710.7 567.2,709.4 565,708.2 562.8,706.9 560.6,705.7 558.4,704.4 556.2,703.2 554,702 551.8,700.8 549.6,699.6 547.4,698.4 545.2,697.2 543,696 540.8,694.8 538.6,693.7 536.4,692.5 534.2,691.4 532,690.4 529.8,689.4 527.6,688.4 525.4,687.4 523.2,686.6 521,685.9 518.8,685.3 516.6,684.8 514.4,684.3 512.2,684 510,683.8 507.8,683.7 505.6,683.7 503.4,683.6 501.2,683.7 499,683.9 496.8,684.2 494.6,684.5 492.4,685 490.2,685.4 488,686 485.8,686.6 483.7,687.3 481.5,688.1 479.3,688.9 477.1,689.8 474.9,690.7 472.7,691.7 470.5,692.8 468.3,693.8 466.1,694.7 463.9,695.6 461.7,696.5 459.5,697.3 457.3,698 455.1,698.6 452.9,699.1 450.7,699.6 448.5,700 446.3,700.4 444.1,700.7 441.9,701 439.7,701.3 437.5,701.5 435.3,701.8" fill="#5F3CB4" fill-opacity="0.09" stroke="none"/>
<polyline points="435.3,697 437.5,696.8 439.7,696.5 441.9,696.2 444.1,695.9 446.3,695.6 448.5,695.2 450.7,694.8 452.9,694.3 455.1,693.8 457.3,693.2 459.5,692.5 461.7,691.7 463.9,690.8 466.1,690 468.3,689 470.5,688 472.7,686.9 474.9,686 477.1,685 479.3,684.1 481.5,683.3 483.7,682.5 485.8,681.8 488,681.2 490.2,680.7 492.4,680.2 494.6,679.8 496.8,679.4 499,679.2 501.2,678.9 503.4,678.8 505.6,678.9 507.8,678.9 510,679 512.2,679.2 514.4,679.5 516.6,680 518.8,680.5 521,681.1 523.2,681.8 525.4,682.7 527.6,683.6 529.8,684.6 532,685.6 534.2,686.6 536.4,687.7 538.6,688.9 540.8,690 543,691.2 545.2,692.4 547.4,693.6 549.6,694.8 551.8,696.1 554,697.3 556.2,698.5 558.4,699.7 560.6,700.9 562.8,702.1 565,703.4 567.2,704.6 569.4,705.9 571.6,707.2 573.8,708.5 576,709.7 578.1,711 580.3,712.3 582.5,713.5 584.7,714.7 586.9,715.9" fill="none" stroke="#6231B0" stroke-width="1.65" stroke-linejoin="round" stroke-linecap="round"/>
<polyline points="435.3,694.5 437.5,694.2 439.7,694 441.9,693.7 444.1,693.4 446.3,693.1 448.5,692.7 450.7,692.3 452.9,691.8 455.1,691.3 457.3,690.7 459.5,689.9 461.7,689.1 463.9,688.3 466.1,687.5 468.3,686.7 470.5,685.9 472.7,685.1 474.9,684.4 477.1,683.7 479.3,682.9 481.5,682.3 483.7,681.7 485.8,681.3 488,681.1 490.2,680.9 492.4,680.7 494.6,680.6 496.8,680.6 499,680.7 501.2,680.9 503.4,681.1 505.6,681.4 507.8,681.9 510,682.4 512.2,683 514.4,683.7 516.6,684.5 518.8,685.3 521,686.2 523.2,687.1 525.4,688 527.6,689.1 529.8,690.1 532,691.1 534.2,692.2 536.4,693.3 538.6,694.4 540.8,695.6 543,696.7 545.2,697.9 547.4,699.1 549.6,700.4 551.8,701.6 554,702.9 556.2,704.1 558.4,705.4 560.6,706.7 562.8,707.9 565,709.1 567.2,710.3 569.4,711.5 571.6,712.7 573.8,713.9 576,715.1 578.1,716.2 580.3,717.4 582.5,718.4 584.7,719.4 586.9,720.4" fill="none" stroke="#3577C6" stroke-width="1.65" stroke-linejoin="round" stroke-linecap="round"/>
</g>
<line x1="435.3" y1="621.7" x2="435.3" y2="747.7" stroke="#4a4a4a" stroke-width="0.7"/>
<line x1="435" y1="747.4" x2="586.7" y2="747.4" stroke="#4a4a4a" stroke-width="0.7"/>
<line x1="435.3" y1="632" x2="436.9" y2="632" stroke="#4a4a4a" stroke-width="0.7"/>
<text x="0" y="0" font-size="8.8" text-anchor="end" fill="#111111" style="text-rendering:geometricPrecision" transform="translate(431.7 635.38) scale(1 1.04)" stroke="#111111" stroke-width="0.2">150</text>
<line x1="435.3" y1="668.8" x2="436.9" y2="668.8" stroke="#4a4a4a" stroke-width="0.7"/>
<text x="0" y="0" font-size="8.8" text-anchor="end" fill="#111111" style="text-rendering:geometricPrecision" transform="translate(431.7 672.16) scale(1 1.04)" stroke="#111111" stroke-width="0.2">100</text>
<line x1="435.3" y1="705.8" x2="436.9" y2="705.8" stroke="#4a4a4a" stroke-width="0.7"/>
<text x="0" y="0" font-size="8.8" text-anchor="end" fill="#111111" style="text-rendering:geometricPrecision" transform="translate(431.7 709.19) scale(1 1.04)" stroke="#111111" stroke-width="0.2">50</text>
<line x1="435.3" y1="743.1" x2="436.9" y2="743.1" stroke="#4a4a4a" stroke-width="0.7"/>
<text x="0" y="0" font-size="8.8" text-anchor="end" fill="#111111" style="text-rendering:geometricPrecision" transform="translate(431.7 746.47) scale(1 1.04)" stroke="#111111" stroke-width="0.2">0</text>
<line x1="465.5" y1="747.4" x2="465.5" y2="745.8" stroke="#4a4a4a" stroke-width="0.7"/>
<text x="0" y="0" font-size="8.8" text-anchor="middle" fill="#111111" style="text-rendering:geometricPrecision" transform="translate(466.13 760.04) scale(1 1.04)" stroke="#111111" stroke-width="0.2">20</text>
<line x1="495.8" y1="747.4" x2="495.8" y2="745.8" stroke="#4a4a4a" stroke-width="0.7"/>
<text x="0" y="0" font-size="8.8" text-anchor="middle" fill="#111111" style="text-rendering:geometricPrecision" transform="translate(496.36 760.04) scale(1 1.04)" stroke="#111111" stroke-width="0.2">40</text>
<line x1="526" y1="747.4" x2="526" y2="745.8" stroke="#4a4a4a" stroke-width="0.7"/>
<text x="0" y="0" font-size="8.8" text-anchor="middle" fill="#111111" style="text-rendering:geometricPrecision" transform="translate(526.58 760.04) scale(1 1.04)" stroke="#111111" stroke-width="0.2">60</text>
<line x1="556.2" y1="747.4" x2="556.2" y2="745.8" stroke="#4a4a4a" stroke-width="0.7"/>
<text x="0" y="0" font-size="8.8" text-anchor="middle" fill="#111111" style="text-rendering:geometricPrecision" transform="translate(556.81 760.04) scale(1 1.04)" stroke="#111111" stroke-width="0.2">80</text>
<line x1="586.4" y1="747.4" x2="586.4" y2="745.8" stroke="#4a4a4a" stroke-width="0.7"/>
<text x="0" y="0" font-size="8.8" text-anchor="middle" fill="#111111" style="text-rendering:geometricPrecision" transform="translate(586.24 760.04) scale(1 1.04)" stroke="#111111" stroke-width="0.2">100</text>
<text x="511.1" y="618.1" font-size="8.8" text-anchor="middle" fill="#111111" font-weight="bold" stroke="#111111" stroke-width="0.2">Hip angle sagittal</text>
<text x="415.6" y="684.5" font-size="8.3" text-anchor="middle" fill="#111111" transform="rotate(-90 415.6 684.5)" stroke="#111111" stroke-width="0.2">[&#176;]</text>
<line x1="436.1" y1="632" x2="471.8" y2="632" stroke="#C68A94" stroke-width="1.1"/>
<text x="436.6" y="628.6" font-size="7.25" fill="#861C30" stroke="#861C30" stroke-width="0.18">p &lt; 0.01</text>
<line x1="502.1" y1="632" x2="586.9" y2="632" stroke="#C68A94" stroke-width="1.1"/>
<text x="502.6" y="628.6" font-size="7.25" fill="#861C30" stroke="#861C30" stroke-width="0.18">p &lt; 0.01</text>
<clipPath id="c594600"><rect x="636.1" y="621.7" width="151.6" height="125.7"/></clipPath>
<g clip-path="url(#c594600)">
<rect x="695.3" y="621.7" width="16.4" height="125.7" fill="#E6E6E6" stroke="none" stroke-width="0.6"/>
<polygon points="636.1,669 638.3,668.9 640.4,668.9 642.6,668.8 644.8,668.8 647,668.8 649.2,668.8 651.4,668.8 653.6,668.8 655.8,668.8 658,668.9 660.2,668.9 662.3,669 664.5,669.1 666.7,669.2 668.9,669.4 671.1,669.6 673.3,669.9 675.5,670.2 677.7,670.6 679.9,670.9 682.1,671.2 684.3,671.6 686.4,671.9 688.6,672.3 690.8,672.7 693,673.1 695.2,673.4 697.4,673.8 699.6,674.1 701.8,674.4 704,674.8 706.2,675.1 708.3,675.5 710.5,676 712.7,676.4 714.9,676.9 717.1,677.6 719.3,678.3 721.5,679.1 723.7,680 725.9,680.9 728.1,681.8 730.3,682.9 732.4,684 734.6,685.1 736.8,686.2 739,687.4 741.2,688.6 743.4,689.9 745.6,691.1 747.8,692.4 750,693.6 752.2,694.9 754.3,696.2 756.5,697.5 758.7,698.8 760.9,700.1 763.1,701.4 765.3,702.7 767.5,704.1 769.7,705.4 771.9,706.8 774.1,708.1 776.2,709.3 778.4,710.5 780.6,711.6 782.8,712.7 785,713.8 787.2,714.9 787.2,725.4 785,724.3 782.8,723.2 780.6,722 778.4,720.7 776.2,719.4 774.1,718.1 771.9,716.7 769.7,715.3 767.5,713.8 765.3,712.4 763.1,711 760.9,709.5 758.7,708.1 756.5,706.7 754.3,705.3 752.2,703.9 750,702.6 747.8,701.2 745.6,699.8 743.4,698.5 741.2,697.2 739,695.8 736.8,694.6 734.6,693.3 732.4,692.1 730.3,690.9 728.1,689.8 725.9,688.7 723.7,687.7 721.5,686.7 719.3,685.8 717.1,685 714.9,684.3 712.7,683.6 710.5,683.1 708.3,682.6 706.2,682.1 704,681.6 701.8,681.1 699.6,680.7 697.4,680.3 695.2,679.9 693,679.4 690.8,679 688.6,678.5 686.4,678.1 684.3,677.6 682.1,677.2 679.9,676.8 677.7,676.4 675.5,676 673.3,675.7 671.1,675.3 668.9,675 666.7,674.7 664.5,674.5 662.3,674.4 660.2,674.2 658,674.1 655.8,674 653.6,673.9 651.4,673.8 649.2,673.8 647,673.7 644.8,673.7 642.6,673.6 640.4,673.6 638.3,673.6 636.1,673.6" fill="#4C86D0" fill-opacity="0.09" stroke="none"/>
<polygon points="636.1,668.5 638.3,668.5 640.4,668.5 642.6,668.5 644.8,668.5 647,668.5 649.2,668.5 651.4,668.5 653.6,668.6 655.8,668.6 658,668.6 660.2,668.7 662.3,668.7 664.5,668.8 666.7,668.9 668.9,669.1 671.1,669.3 673.3,669.6 675.5,669.8 677.7,670.1 679.9,670.4 682.1,670.6 684.3,670.9 686.4,671.2 688.6,671.6 690.8,671.9 693,672.2 695.2,672.4 697.4,672.7 699.6,672.9 701.8,673.1 704,673.3 706.2,673.5 708.3,673.7 710.5,673.8 712.7,674 714.9,674.2 717.1,674.5 719.3,675 721.5,675.6 723.7,676.3 725.9,677 728.1,677.9 730.3,679 732.4,680.1 734.6,681.3 736.8,682.5 739,683.8 741.2,685.1 743.4,686.5 745.6,687.9 747.8,689.3 750,690.7 752.2,692.1 754.3,693.6 756.5,695 758.7,696.5 760.9,698 763.1,699.5 765.3,701 767.5,702.5 769.7,704 771.9,705.5 774.1,707 776.2,708.3 778.4,709.6 780.6,710.9 782.8,712.1 785,713.3 787.2,714.4 787.2,724.9 785,723.8 782.8,722.5 780.6,721.2 778.4,719.9 776.2,718.5 774.1,717 771.9,715.5 769.7,713.9 767.5,712.2 765.3,710.6 763.1,709 760.9,707.4 758.7,705.9 756.5,704.3 754.3,702.7 752.2,701.2 750,699.6 747.8,698.1 745.6,696.6 743.4,695.1 741.2,693.7 739,692.2 736.8,690.8 734.6,689.5 732.4,688.2 730.3,687 728.1,685.9 725.9,684.9 723.7,684 721.5,683.2 719.3,682.5 717.1,682 714.9,681.5 712.7,681.2 710.5,680.9 708.3,680.7 706.2,680.4 704,680.1 701.8,679.8 699.6,679.5 697.4,679.2 695.2,678.8 693,678.5 690.8,678.1 688.6,677.7 686.4,677.4 684.3,677 682.1,676.6 679.9,676.3 677.7,676 675.5,675.6 673.3,675.3 671.1,675 668.9,674.7 666.7,674.5 664.5,674.3 662.3,674.1 660.2,674 658,673.9 655.8,673.8 653.6,673.7 651.4,673.6 649.2,673.5 647,673.4 644.8,673.3 642.6,673.3 640.4,673.2 638.3,673.1 636.1,673" fill="#5F3CB4" fill-opacity="0.09" stroke="none"/>
<polyline points="636.1,670.8 638.3,670.8 640.4,670.8 642.6,670.9 644.8,670.9 647,671 649.2,671 651.4,671.1 653.6,671.1 655.8,671.2 658,671.3 660.2,671.3 662.3,671.4 664.5,671.5 666.7,671.7 668.9,671.9 671.1,672.1 673.3,672.4 675.5,672.7 677.7,673 679.9,673.3 682.1,673.6 684.3,674 686.4,674.3 688.6,674.7 690.8,675 693,675.3 695.2,675.6 697.4,675.9 699.6,676.2 701.8,676.5 704,676.7 706.2,677 708.3,677.2 710.5,677.3 712.7,677.6 714.9,677.8 717.1,678.2 719.3,678.8 721.5,679.4 723.7,680.1 725.9,680.9 728.1,681.9 730.3,683 732.4,684.2 734.6,685.4 736.8,686.7 739,688 741.2,689.4 743.4,690.8 745.6,692.2 747.8,693.7 750,695.2 752.2,696.6 754.3,698.1 756.5,699.7 758.7,701.2 760.9,702.7 763.1,704.3 765.3,705.8 767.5,707.4 769.7,708.9 771.9,710.5 774.1,712 776.2,713.4 778.4,714.8 780.6,716.1 782.8,717.3 785,718.5 787.2,719.6" fill="none" stroke="#6231B0" stroke-width="1.65" stroke-linejoin="round" stroke-linecap="round"/>
<polyline points="636.1,671.3 638.3,671.3 640.4,671.3 642.6,671.3 644.8,671.3 647,671.3 649.2,671.3 651.4,671.3 653.6,671.3 655.8,671.4 658,671.5 660.2,671.6 662.3,671.7 664.5,671.8 666.7,671.9 668.9,672.2 671.1,672.5 673.3,672.8 675.5,673.1 677.7,673.5 679.9,673.8 682.1,674.2 684.3,674.6 686.4,675 688.6,675.4 690.8,675.8 693,676.3 695.2,676.7 697.4,677 699.6,677.4 701.8,677.8 704,678.2 706.2,678.6 708.3,679 710.5,679.5 712.7,680 714.9,680.6 717.1,681.3 719.3,682.1 721.5,682.9 723.7,683.8 725.9,684.8 728.1,685.8 730.3,686.9 732.4,688 734.6,689.2 736.8,690.4 739,691.6 741.2,692.9 743.4,694.2 745.6,695.5 747.8,696.8 750,698.1 752.2,699.4 754.3,700.7 756.5,702.1 758.7,703.4 760.9,704.8 763.1,706.2 765.3,707.6 767.5,709 769.7,710.4 771.9,711.7 774.1,713.1 776.2,714.4 778.4,715.6 780.6,716.8 782.8,718 785,719.1 787.2,720.2" fill="none" stroke="#3577C6" stroke-width="1.65" stroke-linejoin="round" stroke-linecap="round"/>
</g>
<line x1="636.1" y1="621.7" x2="636.1" y2="747.7" stroke="#4a4a4a" stroke-width="0.7"/>
<line x1="635.8" y1="747.4" x2="787.5" y2="747.4" stroke="#4a4a4a" stroke-width="0.7"/>
<line x1="636.1" y1="656.7" x2="637.7" y2="656.7" stroke="#4a4a4a" stroke-width="0.7"/>
<text x="0" y="0" font-size="8.8" text-anchor="end" fill="#111111" style="text-rendering:geometricPrecision" transform="translate(632.47 660.07) scale(1 1.04)" stroke="#111111" stroke-width="0.2">100</text>
<line x1="636.1" y1="699" x2="637.7" y2="699" stroke="#4a4a4a" stroke-width="0.7"/>
<text x="0" y="0" font-size="8.8" text-anchor="end" fill="#111111" style="text-rendering:geometricPrecision" transform="translate(632.47 702.39) scale(1 1.04)" stroke="#111111" stroke-width="0.2">50</text>
<line x1="636.1" y1="741.6" x2="637.7" y2="741.6" stroke="#4a4a4a" stroke-width="0.7"/>
<text x="0" y="0" font-size="8.8" text-anchor="end" fill="#111111" style="text-rendering:geometricPrecision" transform="translate(632.47 744.96) scale(1 1.04)" stroke="#111111" stroke-width="0.2">0</text>
<line x1="666.3" y1="747.4" x2="666.3" y2="745.8" stroke="#4a4a4a" stroke-width="0.7"/>
<text x="0" y="0" font-size="8.8" text-anchor="middle" fill="#111111" style="text-rendering:geometricPrecision" transform="translate(666.89 760.04) scale(1 1.04)" stroke="#111111" stroke-width="0.2">20</text>
<line x1="696.5" y1="747.4" x2="696.5" y2="745.8" stroke="#4a4a4a" stroke-width="0.7"/>
<text x="0" y="0" font-size="8.8" text-anchor="middle" fill="#111111" style="text-rendering:geometricPrecision" transform="translate(697.12 760.04) scale(1 1.04)" stroke="#111111" stroke-width="0.2">40</text>
<line x1="726.7" y1="747.4" x2="726.7" y2="745.8" stroke="#4a4a4a" stroke-width="0.7"/>
<text x="0" y="0" font-size="8.8" text-anchor="middle" fill="#111111" style="text-rendering:geometricPrecision" transform="translate(727.35 760.04) scale(1 1.04)" stroke="#111111" stroke-width="0.2">60</text>
<line x1="757" y1="747.4" x2="757" y2="745.8" stroke="#4a4a4a" stroke-width="0.7"/>
<text x="0" y="0" font-size="8.8" text-anchor="middle" fill="#111111" style="text-rendering:geometricPrecision" transform="translate(757.57 760.04) scale(1 1.04)" stroke="#111111" stroke-width="0.2">80</text>
<line x1="787.2" y1="747.4" x2="787.2" y2="745.8" stroke="#4a4a4a" stroke-width="0.7"/>
<text x="0" y="0" font-size="8.8" text-anchor="middle" fill="#111111" style="text-rendering:geometricPrecision" transform="translate(787 760.04) scale(1 1.04)" stroke="#111111" stroke-width="0.2">100</text>
<text x="711.8" y="618.1" font-size="8.8" text-anchor="middle" fill="#111111" font-weight="bold" stroke="#111111" stroke-width="0.2">Knee angle sagittal</text>
<text x="612.6" y="684.5" font-size="8.3" text-anchor="middle" fill="#111111" transform="rotate(-90 612.6 684.5)" stroke="#111111" stroke-width="0.2">[&#176;]</text>
<line x1="688" y1="632" x2="746.4" y2="632" stroke="#C68A94" stroke-width="1.1"/>
<text x="688.5" y="628.6" font-size="7.25" fill="#861C30" stroke="#861C30" stroke-width="0.18">p &lt; 0.01</text>
<clipPath id="c770"><rect x="34.8" y="791.7" width="151.6" height="125.7"/></clipPath>
<g clip-path="url(#c770)">
<rect x="94" y="791.7" width="16.9" height="125.7" fill="#E6E6E6" stroke="none" stroke-width="0.6"/>
<polygon points="34.8,879.8 37,879.5 39.1,879.1 41.3,878.6 43.5,878 45.7,877.3 47.9,876.5 50.1,875.5 52.3,874.3 54.5,873.1 56.7,871.8 58.9,870.3 61,868.6 63.2,866.9 65.4,865.1 67.6,863.3 69.8,861.4 72,859.4 74.2,857.5 76.4,855.8 78.6,854 80.8,852.3 82.9,850.7 85.1,849.3 87.3,848 89.5,846.9 91.7,845.9 93.9,845.1 96.1,844.5 98.3,844 100.5,843.5 102.7,843 104.9,842.6 107,842.2 109.2,841.9 111.4,841.5 113.6,841.2 115.8,840.9 118,840.7 120.2,840.6 122.4,840.4 124.6,840.3 126.8,840.3 128.9,840.3 131.1,840.3 133.3,840.5 135.5,840.6 137.7,840.8 139.9,841 142.1,841.4 144.3,841.7 146.5,842.1 148.7,842.6 150.8,843 153,843.5 155.2,844 157.4,844.6 159.6,845.2 161.8,845.8 164,846.5 166.2,847.2 168.4,848 170.6,848.7 172.8,849.4 174.9,850.1 177.1,850.9 179.3,851.7 181.5,852.5 183.7,853.3 185.9,854.1 185.9,867.2 183.7,866.5 181.5,865.7 179.3,865 177.1,864.3 174.9,863.6 172.8,862.9 170.6,862.2 168.4,861.6 166.2,860.9 164,860.2 161.8,859.6 159.6,859 157.4,858.5 155.2,858 153,857.5 150.8,857.1 148.7,856.7 146.5,856.3 144.3,855.9 142.1,855.6 139.9,855.4 137.7,855.2 135.5,855.1 133.3,855 131.1,854.9 128.9,854.9 126.8,854.9 124.6,855 122.4,855.2 120.2,855.4 118,855.6 115.8,855.8 113.6,856.2 111.4,856.6 109.2,857 107,857.4 104.9,857.8 102.7,858.3 100.5,858.9 98.3,859.4 96.1,860 93.9,860.7 91.7,861.5 89.5,862.6 87.3,863.8 85.1,865.1 82.9,866.6 80.8,868.3 78.6,870 76.4,871.9 74.2,873.7 72,875.6 69.8,877.7 67.6,879.6 65.4,881.5 63.2,883.3 61,885.1 58.9,886.8 56.7,888.3 54.5,889.7 52.3,891 50.1,892.2 47.9,893.3 45.7,894.2 43.5,894.9 41.3,895.6 39.1,896.2 37,896.6 34.8,897" fill="#4C86D0" fill-opacity="0.09" stroke="none"/>
<polygon points="34.8,885.1 37,884.9 39.1,884.5 41.3,884 43.5,883.5 45.7,882.9 47.9,882.2 50.1,881.3 52.3,880.2 54.5,879.1 56.7,877.9 58.9,876.6 61,875.1 63.2,873.5 65.4,871.8 67.6,870 69.8,868 72,866 74.2,863.9 76.4,861.8 78.6,859.6 80.8,857.3 82.9,855.1 85.1,853.1 87.3,851.2 89.5,849.5 91.7,847.9 93.9,846.6 96.1,845.5 98.3,844.6 100.5,843.8 102.7,843 104.9,842.3 107,841.6 109.2,841 111.4,840.5 113.6,839.9 115.8,839.4 118,839 120.2,838.6 122.4,838.3 124.6,837.9 126.8,837.7 128.9,837.5 131.1,837.4 133.3,837.3 135.5,837.3 137.7,837.2 139.9,837.2 142.1,837.4 144.3,837.6 146.5,837.9 148.7,838.1 150.8,838.5 153,838.8 155.2,839.3 157.4,839.8 159.6,840.3 161.8,840.9 164,841.6 166.2,842.4 168.4,843.1 170.6,843.8 172.8,844.5 174.9,845.3 177.1,846 179.3,846.9 181.5,847.8 183.7,848.8 185.9,849.8 185.9,859.9 183.7,859 181.5,858.1 179.3,857.2 177.1,856.5 174.9,855.8 172.8,855.1 170.6,854.5 168.4,853.8 166.2,853.2 164,852.5 161.8,851.8 159.6,851.3 157.4,850.8 155.2,850.4 153,850 150.8,849.7 148.7,849.5 146.5,849.3 144.3,849.1 142.1,849 139.9,848.9 137.7,848.9 135.5,849 133.3,849.1 131.1,849.3 128.9,849.5 126.8,849.7 124.6,850 122.4,850.4 120.2,850.8 118,851.3 115.8,851.8 113.6,852.3 111.4,853 109.2,853.6 107,854.3 104.9,855 102.7,855.8 100.5,856.7 98.3,857.6 96.1,858.7 93.9,859.8 91.7,861.2 89.5,862.9 87.3,864.7 85.1,866.6 82.9,868.8 80.8,871 78.6,873.3 76.4,875.6 74.2,877.8 72,879.9 69.8,882.1 67.6,884.1 65.4,886 63.2,887.7 61,889.4 58.9,891 56.7,892.4 54.5,893.6 52.3,894.8 50.1,895.9 47.9,896.9 45.7,897.7 43.5,898.3 41.3,899 39.1,899.5 37,899.9 34.8,900.2" fill="#5F3CB4" fill-opacity="0.09" stroke="none"/>
<polyline points="34.8,892.7 37,892.4 39.1,892 41.3,891.5 43.5,890.9 45.7,890.3 47.9,889.5 50.1,888.6 52.3,887.5 54.5,886.4 56.7,885.2 58.9,883.8 61,882.2 63.2,880.6 65.4,878.9 67.6,877 69.8,875 72,873 74.2,870.8 76.4,868.7 78.6,866.5 80.8,864.2 82.9,861.9 85.1,859.9 87.3,858 89.5,856.2 91.7,854.6 93.9,853.2 96.1,852.1 98.3,851.1 100.5,850.2 102.7,849.4 104.9,848.6 107,848 109.2,847.3 111.4,846.7 113.6,846.1 115.8,845.6 118,845.1 120.2,844.7 122.4,844.3 124.6,844 126.8,843.7 128.9,843.5 131.1,843.4 133.3,843.2 135.5,843.1 137.7,843.1 139.9,843.1 142.1,843.2 144.3,843.4 146.5,843.6 148.7,843.8 150.8,844.1 153,844.4 155.2,844.8 157.4,845.3 159.6,845.8 161.8,846.4 164,847 166.2,847.8 168.4,848.5 170.6,849.1 172.8,849.8 174.9,850.5 177.1,851.2 179.3,852 181.5,852.9 183.7,853.9 185.9,854.9" fill="none" stroke="#6231B0" stroke-width="1.65" stroke-linejoin="round" stroke-linecap="round"/>
<polyline points="34.8,888.4 37,888.1 39.1,887.6 41.3,887.1 43.5,886.4 45.7,885.7 47.9,884.9 50.1,883.8 52.3,882.7 54.5,881.4 56.7,880 58.9,878.5 61,876.9 63.2,875.1 65.4,873.3 67.6,871.5 69.8,869.5 72,867.5 74.2,865.6 76.4,863.8 78.6,862 80.8,860.3 82.9,858.7 85.1,857.2 87.3,855.9 89.5,854.7 91.7,853.7 93.9,852.9 96.1,852.2 98.3,851.7 100.5,851.2 102.7,850.7 104.9,850.2 107,849.8 109.2,849.4 111.4,849 113.6,848.7 115.8,848.4 118,848.1 120.2,848 122.4,847.8 124.6,847.7 126.8,847.6 128.9,847.6 131.1,847.6 133.3,847.7 135.5,847.9 137.7,848 139.9,848.2 142.1,848.5 144.3,848.8 146.5,849.2 148.7,849.6 150.8,850 153,850.5 155.2,851 157.4,851.5 159.6,852.1 161.8,852.7 164,853.4 166.2,854.1 168.4,854.8 170.6,855.5 172.8,856.1 174.9,856.9 177.1,857.6 179.3,858.3 181.5,859.1 183.7,859.9 185.9,860.7" fill="none" stroke="#3577C6" stroke-width="1.65" stroke-linejoin="round" stroke-linecap="round"/>
</g>
<line x1="34.8" y1="791.7" x2="34.8" y2="917.7" stroke="#4a4a4a" stroke-width="0.7"/>
<line x1="34.5" y1="917.4" x2="186.2" y2="917.4" stroke="#4a4a4a" stroke-width="0.7"/>
<line x1="34.8" y1="792.2" x2="36.4" y2="792.2" stroke="#4a4a4a" stroke-width="0.7"/>
<text x="0" y="0" font-size="8.8" text-anchor="end" fill="#111111" style="text-rendering:geometricPrecision" transform="translate(31.16 795.56) scale(1 1.04)" stroke="#111111" stroke-width="0.2">80</text>
<line x1="34.8" y1="815.3" x2="36.4" y2="815.3" stroke="#4a4a4a" stroke-width="0.7"/>
<text x="0" y="0" font-size="8.8" text-anchor="end" fill="#111111" style="text-rendering:geometricPrecision" transform="translate(31.16 818.73) scale(1 1.04)" stroke="#111111" stroke-width="0.2">60</text>
<line x1="34.8" y1="838.5" x2="36.4" y2="838.5" stroke="#4a4a4a" stroke-width="0.7"/>
<text x="0" y="0" font-size="8.8" text-anchor="end" fill="#111111" style="text-rendering:geometricPrecision" transform="translate(31.16 841.91) scale(1 1.04)" stroke="#111111" stroke-width="0.2">40</text>
<line x1="34.8" y1="861.7" x2="36.4" y2="861.7" stroke="#4a4a4a" stroke-width="0.7"/>
<text x="0" y="0" font-size="8.8" text-anchor="end" fill="#111111" style="text-rendering:geometricPrecision" transform="translate(31.16 865.08) scale(1 1.04)" stroke="#111111" stroke-width="0.2">20</text>
<line x1="34.8" y1="885.1" x2="36.4" y2="885.1" stroke="#4a4a4a" stroke-width="0.7"/>
<text x="0" y="0" font-size="8.8" text-anchor="end" fill="#111111" style="text-rendering:geometricPrecision" transform="translate(31.16 888.51) scale(1 1.04)" stroke="#111111" stroke-width="0.2">0</text>
<line x1="34.8" y1="908.3" x2="36.4" y2="908.3" stroke="#4a4a4a" stroke-width="0.7"/>
<text x="0" y="0" font-size="8.8" text-anchor="end" fill="#111111" style="text-rendering:geometricPrecision" transform="translate(31.16 911.68) scale(1 1.04)" stroke="#111111" stroke-width="0.2">-20</text>
<line x1="65" y1="917.4" x2="65" y2="915.8" stroke="#4a4a4a" stroke-width="0.7"/>
<text x="0" y="0" font-size="8.8" text-anchor="middle" fill="#111111" style="text-rendering:geometricPrecision" transform="translate(65.59 930.04) scale(1 1.04)" stroke="#111111" stroke-width="0.2">20</text>
<line x1="95.2" y1="917.4" x2="95.2" y2="915.8" stroke="#4a4a4a" stroke-width="0.7"/>
<text x="0" y="0" font-size="8.8" text-anchor="middle" fill="#111111" style="text-rendering:geometricPrecision" transform="translate(95.81 930.04) scale(1 1.04)" stroke="#111111" stroke-width="0.2">40</text>
<line x1="125.4" y1="917.4" x2="125.4" y2="915.8" stroke="#4a4a4a" stroke-width="0.7"/>
<text x="0" y="0" font-size="8.8" text-anchor="middle" fill="#111111" style="text-rendering:geometricPrecision" transform="translate(126.04 930.04) scale(1 1.04)" stroke="#111111" stroke-width="0.2">60</text>
<line x1="155.7" y1="917.4" x2="155.7" y2="915.8" stroke="#4a4a4a" stroke-width="0.7"/>
<text x="0" y="0" font-size="8.8" text-anchor="middle" fill="#111111" style="text-rendering:geometricPrecision" transform="translate(156.27 930.04) scale(1 1.04)" stroke="#111111" stroke-width="0.2">80</text>
<line x1="185.9" y1="917.4" x2="185.9" y2="915.8" stroke="#4a4a4a" stroke-width="0.7"/>
<text x="0" y="0" font-size="8.8" text-anchor="middle" fill="#111111" style="text-rendering:geometricPrecision" transform="translate(185.69 930.04) scale(1 1.04)" stroke="#111111" stroke-width="0.2">100</text>
<text x="110.5" y="788.1" font-size="8.8" text-anchor="middle" fill="#111111" font-weight="bold" stroke="#111111" stroke-width="0.2">Pelvis-lab angle sagittal</text>
<text x="7.3" y="854.5" font-size="8.3" text-anchor="middle" fill="#111111" transform="rotate(-90 7.3 854.5)" stroke="#111111" stroke-width="0.2">[&#176;]</text>
<text x="110.8" y="943" font-size="8.8" text-anchor="middle" fill="#111111" stroke="#111111" stroke-width="0.2">Time [normalized, %]</text>
<line x1="35.3" y1="801.7" x2="79.3" y2="801.7" stroke="#B4606E" stroke-width="0.95"/>
<text x="35.8" y="798.6" font-size="7.25" fill="#861C30" stroke="#861C30" stroke-width="0.18">p &lt; 0.01</text>
<line x1="119.6" y1="801.7" x2="185.9" y2="801.7" stroke="#B4606E" stroke-width="0.95"/>
<text x="120.2" y="798.6" font-size="7.25" fill="#861C30" stroke="#861C30" stroke-width="0.18">p &lt; 0.01</text>
<clipPath id="c195770"><rect x="235.3" y="791.7" width="151.6" height="125.7"/></clipPath>
<g clip-path="url(#c195770)">
<rect x="294" y="791.7" width="16.9" height="125.7" fill="#E6E6E6" stroke="none" stroke-width="0.6"/>
<polygon points="235.3,875.3 237.5,875.3 239.7,875.2 241.9,875.1 244.1,875 246.3,874.8 248.4,874.6 250.6,874.4 252.8,874.2 255,874 257.2,873.8 259.4,873.5 261.6,873.3 263.8,873 266,872.7 268.2,872.4 270.3,872.1 272.5,871.7 274.7,871.2 276.9,870.8 279.1,870.3 281.3,869.7 283.5,869.2 285.7,868.6 287.9,868 290.1,867.4 292.3,866.7 294.4,866.1 296.6,865.5 298.8,864.7 301,863.8 303.2,862.9 305.4,862 307.6,861 309.8,860.1 312,859.3 314.2,858.6 316.3,858.1 318.5,857.6 320.7,857 322.9,856.6 325.1,856.2 327.3,855.9 329.5,855.7 331.7,855.6 333.9,855.7 336.1,855.9 338.2,856.2 340.4,856.6 342.6,857 344.8,857.4 347,857.8 349.2,858.4 351.4,859.1 353.6,859.9 355.8,860.8 358,861.7 360.2,862.7 362.3,863.6 364.5,864.5 366.7,865.4 368.9,866.2 371.1,867 373.3,867.8 375.5,868.7 377.7,869.5 379.9,870.3 382.1,871.1 384.2,871.9 386.4,872.8 386.4,887.9 384.2,887.3 382.1,886.7 379.9,886.1 377.7,885.5 375.5,884.9 373.3,884.4 371.1,883.8 368.9,883.2 366.7,882.6 364.5,882 362.3,881.4 360.2,880.8 358,880.3 355.8,879.7 353.6,879.3 351.4,878.9 349.2,878.5 347,878.2 344.8,877.8 342.6,877.5 340.4,877.3 338.2,877 336.1,876.8 333.9,876.6 331.7,876.4 329.5,876.2 327.3,876 325.1,875.8 322.9,875.6 320.7,875.4 318.5,875.3 316.3,875.3 314.2,875.4 312,875.6 309.8,876 307.6,876.5 305.4,877 303.2,877.6 301,878.2 298.8,878.8 296.6,879.4 294.4,879.9 292.3,880.3 290.1,880.9 287.9,881.4 285.7,881.9 283.5,882.5 281.3,883 279.1,883.5 276.9,884 274.7,884.4 272.5,884.9 270.3,885.2 268.2,885.6 266,885.8 263.8,886 261.6,886.3 259.4,886.5 257.2,886.7 255,886.9 252.8,887.1 250.6,887.2 248.4,887.4 246.3,887.5 244.1,887.7 241.9,887.8 239.7,887.8 237.5,887.9 235.3,887.9" fill="#4C86D0" fill-opacity="0.09" stroke="none"/>
<polygon points="235.3,874.5 237.5,874.5 239.7,874.5 241.9,874.4 244.1,874.2 246.3,874.1 248.4,873.9 250.6,873.7 252.8,873.5 255,873.3 257.2,873 259.4,872.8 261.6,872.5 263.8,872.2 266,872 268.2,871.6 270.3,871.3 272.5,870.9 274.7,870.4 276.9,869.9 279.1,869.4 281.3,868.8 283.5,868.2 285.7,867.6 287.9,866.9 290.1,866.3 292.3,865.6 294.4,864.9 296.6,864.2 298.8,863.3 301,862.3 303.2,861.2 305.4,860.1 307.6,859 309.8,858 312,857 314.2,856.2 316.3,855.5 318.5,854.9 320.7,854.3 322.9,853.8 325.1,853.3 327.3,852.9 329.5,852.7 331.7,852.6 333.9,852.8 336.1,853.1 338.2,853.5 340.4,854.1 342.6,854.7 344.8,855.3 347,855.9 349.2,856.6 351.4,857.5 353.6,858.4 355.8,859.4 358,860.5 360.2,861.6 362.3,862.6 364.5,863.7 366.7,864.7 368.9,865.6 371.1,866.6 373.3,867.5 375.5,868.5 377.7,869.4 379.9,870.4 382.1,871.4 384.2,872.3 386.4,873.3 386.4,890.4 384.2,889.8 382.1,889.1 379.9,888.5 377.7,887.8 375.5,887.1 373.3,886.5 371.1,885.8 368.9,885.1 366.7,884.4 364.5,883.6 362.3,882.9 360.2,882.2 358,881.5 355.8,880.8 353.6,880.2 351.4,879.6 349.2,879.1 347,878.6 344.8,878.1 342.6,877.7 340.4,877.3 338.2,876.9 336.1,876.5 333.9,876.2 331.7,875.9 329.5,875.6 327.3,875.4 325.1,875.1 322.9,874.9 320.7,874.7 318.5,874.6 316.3,874.5 314.2,874.6 312,874.9 309.8,875.5 307.6,876.1 305.4,876.9 303.2,877.7 301,878.5 298.8,879.2 296.6,879.9 294.4,880.4 292.3,880.9 290.1,881.5 287.9,882 285.7,882.6 283.5,883.1 281.3,883.6 279.1,884.1 276.9,884.6 274.7,885 272.5,885.4 270.3,885.8 268.2,886.1 266,886.3 263.8,886.5 261.6,886.8 259.4,887 257.2,887.2 255,887.4 252.8,887.6 250.6,887.7 248.4,887.9 246.3,888 244.1,888.2 241.9,888.3 239.7,888.3 237.5,888.4 235.3,888.4" fill="#5F3CB4" fill-opacity="0.09" stroke="none"/>
<polyline points="235.3,881.8 237.5,881.8 239.7,881.8 241.9,881.7 244.1,881.6 246.3,881.5 248.4,881.4 250.6,881.3 252.8,881.2 255,881 257.2,880.8 259.4,880.6 261.6,880.3 263.8,880 266,879.8 268.2,879.5 270.3,879.1 272.5,878.7 274.7,878.3 276.9,877.9 279.1,877.4 281.3,876.9 283.5,876.4 285.7,875.8 287.9,875.2 290.1,874.6 292.3,873.9 294.4,873.2 296.6,872.5 298.8,871.6 301,870.8 303.2,869.8 305.4,868.9 307.6,868 309.8,867 312,866 314.2,865.1 316.3,864.3 318.5,863.5 320.7,862.8 322.9,862.3 325.1,861.9 327.3,861.7 329.5,861.5 331.7,861.4 333.9,861.6 336.1,862 338.2,862.4 340.4,862.9 342.6,863.8 344.8,864.7 347,865.6 349.2,866.5 351.4,867.4 353.6,868.4 355.8,869.3 358,870.2 360.2,871.2 362.3,872.1 364.5,873 366.7,874 368.9,874.9 371.1,875.7 373.3,876.6 375.5,877.5 377.7,878.3 379.9,879.2 382.1,880 384.2,880.8 386.4,881.6" fill="none" stroke="#6231B0" stroke-width="1.65" stroke-linejoin="round" stroke-linecap="round"/>
<polyline points="235.3,881.8 237.5,881.8 239.7,881.8 241.9,881.7 244.1,881.6 246.3,881.5 248.4,881.4 250.6,881.3 252.8,881.2 255,881.1 257.2,880.9 259.4,880.7 261.6,880.5 263.8,880.3 266,880 268.2,879.7 270.3,879.4 272.5,879.1 274.7,878.7 276.9,878.3 279.1,877.9 281.3,877.4 283.5,877 285.7,876.5 287.9,875.9 290.1,875.4 292.3,874.8 294.4,874.2 296.6,873.5 298.8,872.7 301,871.9 303.2,871 305.4,870.2 307.6,869.3 309.8,868.5 312,867.7 314.2,867 316.3,866.4 318.5,865.8 320.7,865.4 322.9,865 325.1,864.8 327.3,864.6 329.5,864.5 331.7,864.5 333.9,864.5 336.1,864.6 338.2,864.7 340.4,864.9 342.6,865.4 344.8,865.9 347,866.4 349.2,867.1 351.4,867.8 353.6,868.6 355.8,869.4 358,870.1 360.2,870.8 362.3,871.5 364.5,872.2 366.7,872.9 368.9,873.7 371.1,874.5 373.3,875.2 375.5,876 377.7,876.7 379.9,877.5 382.1,878.2 384.2,878.9 386.4,879.6" fill="none" stroke="#3577C6" stroke-width="1.65" stroke-linejoin="round" stroke-linecap="round"/>
</g>
<line x1="235.3" y1="791.7" x2="235.3" y2="917.7" stroke="#4a4a4a" stroke-width="0.7"/>
<line x1="235" y1="917.4" x2="386.7" y2="917.4" stroke="#4a4a4a" stroke-width="0.7"/>
<line x1="235.3" y1="807.8" x2="236.9" y2="807.8" stroke="#4a4a4a" stroke-width="0.7"/>
<text x="0" y="0" font-size="8.8" text-anchor="end" fill="#111111" style="text-rendering:geometricPrecision" transform="translate(231.7 811.18) scale(1 1.04)" stroke="#111111" stroke-width="0.2">50</text>
<line x1="235.3" y1="828.7" x2="236.9" y2="828.7" stroke="#4a4a4a" stroke-width="0.7"/>
<text x="0" y="0" font-size="8.8" text-anchor="end" fill="#111111" style="text-rendering:geometricPrecision" transform="translate(231.7 832.08) scale(1 1.04)" stroke="#111111" stroke-width="0.2">40</text>
<line x1="235.3" y1="849.6" x2="236.9" y2="849.6" stroke="#4a4a4a" stroke-width="0.7"/>
<text x="0" y="0" font-size="8.8" text-anchor="end" fill="#111111" style="text-rendering:geometricPrecision" transform="translate(231.7 852.99) scale(1 1.04)" stroke="#111111" stroke-width="0.2">30</text>
<line x1="235.3" y1="870.5" x2="236.9" y2="870.5" stroke="#4a4a4a" stroke-width="0.7"/>
<text x="0" y="0" font-size="8.8" text-anchor="end" fill="#111111" style="text-rendering:geometricPrecision" transform="translate(231.7 873.9) scale(1 1.04)" stroke="#111111" stroke-width="0.2">20</text>
<line x1="235.3" y1="891.4" x2="236.9" y2="891.4" stroke="#4a4a4a" stroke-width="0.7"/>
<text x="0" y="0" font-size="8.8" text-anchor="end" fill="#111111" style="text-rendering:geometricPrecision" transform="translate(231.7 894.81) scale(1 1.04)" stroke="#111111" stroke-width="0.2">10</text>
<line x1="235.3" y1="912.3" x2="236.9" y2="912.3" stroke="#4a4a4a" stroke-width="0.7"/>
<text x="0" y="0" font-size="8.8" text-anchor="end" fill="#111111" style="text-rendering:geometricPrecision" transform="translate(231.7 915.71) scale(1 1.04)" stroke="#111111" stroke-width="0.2">0</text>
<line x1="265.5" y1="917.4" x2="265.5" y2="915.8" stroke="#4a4a4a" stroke-width="0.7"/>
<text x="0" y="0" font-size="8.8" text-anchor="middle" fill="#111111" style="text-rendering:geometricPrecision" transform="translate(266.13 930.04) scale(1 1.04)" stroke="#111111" stroke-width="0.2">20</text>
<line x1="295.8" y1="917.4" x2="295.8" y2="915.8" stroke="#4a4a4a" stroke-width="0.7"/>
<text x="0" y="0" font-size="8.8" text-anchor="middle" fill="#111111" style="text-rendering:geometricPrecision" transform="translate(296.36 930.04) scale(1 1.04)" stroke="#111111" stroke-width="0.2">40</text>
<line x1="326" y1="917.4" x2="326" y2="915.8" stroke="#4a4a4a" stroke-width="0.7"/>
<text x="0" y="0" font-size="8.8" text-anchor="middle" fill="#111111" style="text-rendering:geometricPrecision" transform="translate(326.58 930.04) scale(1 1.04)" stroke="#111111" stroke-width="0.2">60</text>
<line x1="356.2" y1="917.4" x2="356.2" y2="915.8" stroke="#4a4a4a" stroke-width="0.7"/>
<text x="0" y="0" font-size="8.8" text-anchor="middle" fill="#111111" style="text-rendering:geometricPrecision" transform="translate(356.81 930.04) scale(1 1.04)" stroke="#111111" stroke-width="0.2">80</text>
<line x1="386.4" y1="917.4" x2="386.4" y2="915.8" stroke="#4a4a4a" stroke-width="0.7"/>
<text x="0" y="0" font-size="8.8" text-anchor="middle" fill="#111111" style="text-rendering:geometricPrecision" transform="translate(386.24 930.04) scale(1 1.04)" stroke="#111111" stroke-width="0.2">100</text>
<text x="311.1" y="788.1" font-size="8.8" text-anchor="middle" fill="#111111" font-weight="bold" stroke="#111111" stroke-width="0.2">Shank-lab angle sagittal</text>
<text x="215.6" y="854.5" font-size="8.3" text-anchor="middle" fill="#111111" transform="rotate(-90 215.6 854.5)" stroke="#111111" stroke-width="0.2">[&#176;]</text>
<text x="311.4" y="943" font-size="8.8" text-anchor="middle" fill="#111111" stroke="#111111" stroke-width="0.2">Time [normalized, %]</text>
<clipPath id="c395770"><rect x="435.3" y="791.7" width="151.6" height="125.7"/></clipPath>
<g clip-path="url(#c395770)">
<rect x="495" y="791.7" width="16.4" height="125.7" fill="#E6E6E6" stroke="none" stroke-width="0.6"/>
<polygon points="435.3,901.7 437.5,901.7 439.7,901.6 441.9,901.5 444.1,901.3 446.3,901.2 448.5,901 450.7,900.8 452.9,900.6 455.1,900.3 457.3,899.9 459.5,899.6 461.7,899.1 463.9,898.7 466.1,898.3 468.3,897.7 470.5,897.1 472.7,896.5 474.9,895.8 477.1,895.1 479.3,894.4 481.5,893.6 483.7,892.9 485.8,892.1 488,891.4 490.2,890.5 492.4,889.7 494.6,888.9 496.8,888 499,887.1 501.2,886.2 503.4,885.3 505.6,884.3 507.8,883.3 510,882.3 512.2,881.2 514.4,880.1 516.6,878.9 518.8,877.6 521,876.3 523.2,874.9 525.4,873.4 527.6,872 529.8,870.4 532,868.8 534.2,867.2 536.4,865.6 538.6,863.9 540.8,862.2 543,860.5 545.2,858.8 547.4,857.1 549.6,855.5 551.8,853.8 554,852.1 556.2,850.4 558.4,848.7 560.6,847 562.8,845.3 565,843.6 567.2,842 569.4,840.3 571.6,838.7 573.8,837 576,835.4 578.1,833.9 580.3,832.4 582.5,831 584.7,829.6 586.9,828.2 586.9,838.8 584.7,840.1 582.5,841.4 580.3,842.8 578.1,844.2 576,845.7 573.8,847.2 571.6,848.7 569.4,850.3 567.2,851.9 565,853.5 562.8,855.1 560.6,856.7 558.4,858.3 556.2,859.9 554,861.5 551.8,863.2 549.6,864.8 547.4,866.4 545.2,868 543,869.6 540.8,871.2 538.6,872.9 536.4,874.4 534.2,876 532,877.5 529.8,879 527.6,880.5 525.4,881.9 523.2,883.3 521,884.6 518.8,885.9 516.6,887.1 514.4,888.2 512.2,889.2 510,890.2 507.8,891.2 505.6,892.1 503.4,893 501.2,893.9 499,894.7 496.8,895.5 494.6,896.3 492.4,897.1 490.2,897.8 488,898.6 485.8,899.3 483.7,900.1 481.5,900.8 479.3,901.4 477.1,902.1 474.9,902.8 472.7,903.4 470.5,904 468.3,904.5 466.1,905 463.9,905.4 461.7,905.8 459.5,906.2 457.3,906.5 455.1,906.8 452.9,907 450.7,907.2 448.5,907.3 446.3,907.4 444.1,907.6 441.9,907.6 439.7,907.7 437.5,907.8 435.3,907.8" fill="#4C86D0" fill-opacity="0.09" stroke="none"/>
<polygon points="435.3,902.7 437.5,902.7 439.7,902.6 441.9,902.5 444.1,902.3 446.3,902.2 448.5,902 450.7,901.8 452.9,901.6 455.1,901.3 457.3,901 459.5,900.7 461.7,900.3 463.9,899.9 466.1,899.5 468.3,899.1 470.5,898.5 472.7,898 474.9,897.4 477.1,896.7 479.3,896.1 481.5,895.4 483.7,894.8 485.8,894.1 488,893.4 490.2,892.6 492.4,891.9 494.6,891.1 496.8,890.3 499,889.6 501.2,888.8 503.4,887.9 505.6,887.1 507.8,886.2 510,885.3 512.2,884.4 514.4,883.5 516.6,882.5 518.8,881.4 521,880.3 523.2,879.2 525.4,877.9 527.6,876.6 529.8,875.2 532,873.7 534.2,872.2 536.4,870.6 538.6,869 540.8,867.3 543,865.6 545.2,863.9 547.4,862.1 549.6,860.4 551.8,858.6 554,856.7 556.2,854.9 558.4,853.1 560.6,851.3 562.8,849.5 565,847.7 567.2,846 569.4,844.3 571.6,842.6 573.8,840.9 576,839.2 578.1,837.6 580.3,836 582.5,834.4 584.7,832.8 586.9,831.2 586.9,840.8 584.7,842.3 582.5,843.8 580.3,845.3 578.1,846.9 576,848.5 573.8,850 571.6,851.6 569.4,853.2 567.2,854.9 565,856.6 562.8,858.3 560.6,860 558.4,861.7 556.2,863.5 554,865.2 551.8,866.9 549.6,868.7 547.4,870.4 545.2,872 543,873.7 540.8,875.3 538.6,876.9 536.4,878.5 534.2,880 532,881.4 529.8,882.8 527.6,884.2 525.4,885.4 523.2,886.5 521,887.6 518.8,888.7 516.6,889.6 514.4,890.6 512.2,891.4 510,892.3 507.8,893.1 505.6,893.9 503.4,894.6 501.2,895.4 499,896.1 496.8,896.8 494.6,897.5 492.4,898.2 490.2,898.9 488,899.6 485.8,900.3 483.7,900.9 481.5,901.5 479.3,902.1 477.1,902.7 474.9,903.3 472.7,903.9 470.5,904.4 468.3,904.9 466.1,905.3 463.9,905.6 461.7,906 459.5,906.3 457.3,906.6 455.1,906.8 452.9,907 450.7,907.2 448.5,907.3 446.3,907.4 444.1,907.5 441.9,907.6 439.7,907.7 437.5,907.8 435.3,907.8" fill="#5F3CB4" fill-opacity="0.09" stroke="none"/>
<polyline points="435.3,905.3 437.5,905.2 439.7,905.2 441.9,905.1 444.1,904.9 446.3,904.8 448.5,904.6 450.7,904.5 452.9,904.3 455.1,904.1 457.3,903.8 459.5,903.5 461.7,903.1 463.9,902.8 466.1,902.4 468.3,902 470.5,901.5 472.7,900.9 474.9,900.3 477.1,899.7 479.3,899.1 481.5,898.5 483.7,897.8 485.8,897.2 488,896.5 490.2,895.8 492.4,895 494.6,894.3 496.8,893.6 499,892.8 501.2,892.1 503.4,891.3 505.6,890.5 507.8,889.7 510,888.8 512.2,887.9 514.4,887 516.6,886.1 518.8,885 521,884 523.2,882.8 525.4,881.7 527.6,880.4 529.8,879 532,877.6 534.2,876.1 536.4,874.6 538.6,873 540.8,871.3 543,869.7 545.2,868 547.4,866.3 549.6,864.5 551.8,862.7 554,861 556.2,859.2 558.4,857.4 560.6,855.7 562.8,853.9 565,852.1 567.2,850.4 569.4,848.8 571.6,847.1 573.8,845.5 576,843.9 578.1,842.2 580.3,840.7 582.5,839.1 584.7,837.5 586.9,836" fill="none" stroke="#6231B0" stroke-width="1.65" stroke-linejoin="round" stroke-linecap="round"/>
<polyline points="435.3,904.8 437.5,904.7 439.7,904.7 441.9,904.6 444.1,904.5 446.3,904.3 448.5,904.1 450.7,904 452.9,903.8 455.1,903.5 457.3,903.2 459.5,902.9 461.7,902.5 463.9,902.1 466.1,901.6 468.3,901.1 470.5,900.6 472.7,899.9 474.9,899.3 477.1,898.6 479.3,897.9 481.5,897.2 483.7,896.5 485.8,895.7 488,895 490.2,894.2 492.4,893.4 494.6,892.6 496.8,891.8 499,890.9 501.2,890.1 503.4,889.2 505.6,888.2 507.8,887.3 510,886.3 512.2,885.2 514.4,884.1 516.6,883 518.8,881.7 521,880.4 523.2,879.1 525.4,877.7 527.6,876.2 529.8,874.7 532,873.2 534.2,871.6 536.4,870 538.6,868.4 540.8,866.7 543,865.1 545.2,863.4 547.4,861.8 549.6,860.1 551.8,858.5 554,856.8 556.2,855.2 558.4,853.5 560.6,851.9 562.8,850.2 565,848.6 567.2,846.9 569.4,845.3 571.6,843.7 573.8,842.1 576,840.6 578.1,839.1 580.3,837.6 582.5,836.2 584.7,834.8 586.9,833.5" fill="none" stroke="#3577C6" stroke-width="1.65" stroke-linejoin="round" stroke-linecap="round"/>
</g>
<line x1="435.3" y1="791.7" x2="435.3" y2="917.7" stroke="#4a4a4a" stroke-width="0.7"/>
<line x1="435" y1="917.4" x2="586.7" y2="917.4" stroke="#4a4a4a" stroke-width="0.7"/>
<line x1="435.3" y1="797" x2="436.9" y2="797" stroke="#4a4a4a" stroke-width="0.7"/>
<text x="0" y="0" font-size="8.8" text-anchor="end" fill="#111111" style="text-rendering:geometricPrecision" transform="translate(431.7 800.35) scale(1 1.04)" stroke="#111111" stroke-width="0.2">20</text>
<line x1="435.3" y1="821.4" x2="436.9" y2="821.4" stroke="#4a4a4a" stroke-width="0.7"/>
<text x="0" y="0" font-size="8.8" text-anchor="end" fill="#111111" style="text-rendering:geometricPrecision" transform="translate(431.7 824.78) scale(1 1.04)" stroke="#111111" stroke-width="0.2">0</text>
<line x1="435.3" y1="845.8" x2="436.9" y2="845.8" stroke="#4a4a4a" stroke-width="0.7"/>
<text x="0" y="0" font-size="8.8" text-anchor="end" fill="#111111" style="text-rendering:geometricPrecision" transform="translate(431.7 849.21) scale(1 1.04)" stroke="#111111" stroke-width="0.2">-20</text>
<line x1="435.3" y1="870.3" x2="436.9" y2="870.3" stroke="#4a4a4a" stroke-width="0.7"/>
<text x="0" y="0" font-size="8.8" text-anchor="end" fill="#111111" style="text-rendering:geometricPrecision" transform="translate(431.7 873.65) scale(1 1.04)" stroke="#111111" stroke-width="0.2">-40</text>
<line x1="435.3" y1="894.7" x2="436.9" y2="894.7" stroke="#4a4a4a" stroke-width="0.7"/>
<text x="0" y="0" font-size="8.8" text-anchor="end" fill="#111111" style="text-rendering:geometricPrecision" transform="translate(431.7 898.08) scale(1 1.04)" stroke="#111111" stroke-width="0.2">-60</text>
<line x1="465.5" y1="917.4" x2="465.5" y2="915.8" stroke="#4a4a4a" stroke-width="0.7"/>
<text x="0" y="0" font-size="8.8" text-anchor="middle" fill="#111111" style="text-rendering:geometricPrecision" transform="translate(466.13 930.04) scale(1 1.04)" stroke="#111111" stroke-width="0.2">20</text>
<line x1="495.8" y1="917.4" x2="495.8" y2="915.8" stroke="#4a4a4a" stroke-width="0.7"/>
<text x="0" y="0" font-size="8.8" text-anchor="middle" fill="#111111" style="text-rendering:geometricPrecision" transform="translate(496.36 930.04) scale(1 1.04)" stroke="#111111" stroke-width="0.2">40</text>
<line x1="526" y1="917.4" x2="526" y2="915.8" stroke="#4a4a4a" stroke-width="0.7"/>
<text x="0" y="0" font-size="8.8" text-anchor="middle" fill="#111111" style="text-rendering:geometricPrecision" transform="translate(526.58 930.04) scale(1 1.04)" stroke="#111111" stroke-width="0.2">60</text>
<line x1="556.2" y1="917.4" x2="556.2" y2="915.8" stroke="#4a4a4a" stroke-width="0.7"/>
<text x="0" y="0" font-size="8.8" text-anchor="middle" fill="#111111" style="text-rendering:geometricPrecision" transform="translate(556.81 930.04) scale(1 1.04)" stroke="#111111" stroke-width="0.2">80</text>
<line x1="586.4" y1="917.4" x2="586.4" y2="915.8" stroke="#4a4a4a" stroke-width="0.7"/>
<text x="0" y="0" font-size="8.8" text-anchor="middle" fill="#111111" style="text-rendering:geometricPrecision" transform="translate(586.24 930.04) scale(1 1.04)" stroke="#111111" stroke-width="0.2">100</text>
<text x="511.1" y="788.1" font-size="8.8" text-anchor="middle" fill="#111111" font-weight="bold" stroke="#111111" stroke-width="0.2">Thigh-lab angle sagittal</text>
<text x="415.6" y="854.5" font-size="8.3" text-anchor="middle" fill="#111111" transform="rotate(-90 415.6 854.5)" stroke="#111111" stroke-width="0.2">[&#176;]</text>
<text x="511.4" y="943" font-size="8.8" text-anchor="middle" fill="#111111" stroke="#111111" stroke-width="0.2">Time [normalized, %]</text>
<line x1="501.3" y1="801.7" x2="575.1" y2="801.7" stroke="#B4606E" stroke-width="0.95"/>
<text x="502.1" y="798.6" font-size="7.25" fill="#861C30" stroke="#861C30" stroke-width="0.18">p &lt; 0.01</text>
<clipPath id="c594770"><rect x="636.1" y="791.7" width="151.6" height="125.7"/></clipPath>
<g clip-path="url(#c594770)">
<rect x="695.3" y="791.7" width="16.4" height="125.7" fill="#E6E6E6" stroke="none" stroke-width="0.6"/>
<polygon points="636.1,882.8 638.3,882.3 640.4,881.7 642.6,881 644.8,880.3 647,879.4 649.2,878.6 651.4,877.6 653.6,876.5 655.8,875.3 658,874 660.2,872.6 662.3,871.2 664.5,869.8 666.7,868.3 668.9,866.7 671.1,865.1 673.3,863.4 675.5,861.7 677.7,860 679.9,858.5 682.1,857 684.3,855.5 686.4,854 688.6,852.6 690.8,851.3 693,850.1 695.2,848.8 697.4,847.6 699.6,846.5 701.8,845.3 704,844.1 706.2,842.9 708.3,841.7 710.5,840.6 712.7,839.5 714.9,838.4 717.1,837.4 719.3,836.4 721.5,835.4 723.7,834.5 725.9,833.7 728.1,832.9 730.3,832.1 732.4,831.4 734.6,830.7 736.8,830.1 739,829.6 741.2,829.1 743.4,828.7 745.6,828.3 747.8,828 750,827.7 752.2,827.5 754.3,827.3 756.5,827.2 758.7,827 760.9,826.8 763.1,826.7 765.3,826.6 767.5,826.5 769.7,826.4 771.9,826.3 774.1,826.3 776.2,826.3 778.4,826.2 780.6,826.2 782.8,826.2 785,826.2 787.2,826.2 787.2,832.2 785,832.3 782.8,832.3 780.6,832.4 778.4,832.5 776.2,832.6 774.1,832.7 771.9,832.8 769.7,833 767.5,833.1 765.3,833.3 763.1,833.4 760.9,833.6 758.7,833.8 756.5,834 754.3,834.2 752.2,834.5 750,834.7 747.8,835 745.6,835.4 743.4,835.9 741.2,836.4 739,836.9 736.8,837.5 734.6,838.2 732.4,838.9 730.3,839.7 728.1,840.5 725.9,841.4 723.7,842.3 721.5,843.3 719.3,844.3 717.1,845.3 714.9,846.5 712.7,847.6 710.5,848.8 708.3,850 706.2,851.2 704,852.5 701.8,853.7 699.6,855 697.4,856.2 695.2,857.5 693,858.8 690.8,860.1 688.6,861.5 686.4,863 684.3,864.5 682.1,866 679.9,867.6 677.7,869.2 675.5,870.9 673.3,872.7 671.1,874.4 668.9,876.1 666.7,877.7 664.5,879.3 662.3,880.7 660.2,882.2 658,883.6 655.8,884.9 653.6,886.2 651.4,887.3 649.2,888.3 647,889.3 644.8,890.1 642.6,891 640.4,891.7 638.3,892.4 636.1,892.9" fill="#4C86D0" fill-opacity="0.09" stroke="none"/>
<polygon points="636.1,887.1 638.3,886.8 640.4,886.3 642.6,885.7 644.8,885.1 647,884.4 649.2,883.6 651.4,882.7 653.6,881.7 655.8,880.5 658,879.2 660.2,877.8 662.3,876.4 664.5,874.8 666.7,873.2 668.9,871.3 671.1,869.3 673.3,867.2 675.5,865 677.7,862.9 679.9,860.9 682.1,859 684.3,857.2 686.4,855.3 688.6,853.4 690.8,851.5 693,849.6 695.2,847.7 697.4,845.8 699.6,844 701.8,842.3 704,840.6 706.2,838.9 708.3,837.4 710.5,836 712.7,834.7 714.9,833.5 717.1,832.4 719.3,831.3 721.5,830.3 723.7,829.2 725.9,828.2 728.1,827.3 730.3,826.6 732.4,825.9 734.6,825.4 736.8,824.8 739,824.4 741.2,824.2 743.4,823.9 745.6,823.7 747.8,823.5 750,823.4 752.2,823.4 754.3,823.4 756.5,823.4 758.7,823.4 760.9,823.4 763.1,823.3 765.3,823.3 767.5,823.4 769.7,823.5 771.9,823.7 774.1,823.9 776.2,824.1 778.4,824.2 780.6,824.4 782.8,824.6 785,824.7 787.2,824.9 787.2,831 785,830.8 782.8,830.7 780.6,830.6 778.4,830.5 776.2,830.4 774.1,830.3 771.9,830.2 769.7,830.1 767.5,830 765.3,830 763.1,830 760.9,830 758.7,830.1 756.5,830.2 754.3,830.2 752.2,830.3 750,830.4 747.8,830.6 745.6,830.8 743.4,831.1 741.2,831.4 739,831.8 736.8,832.2 734.6,832.8 732.4,833.5 730.3,834.2 728.1,835 725.9,836 723.7,837 721.5,838.1 719.3,839.3 717.1,840.4 714.9,841.6 712.7,842.9 710.5,844.2 708.3,845.7 706.2,847.3 704,849 701.8,850.7 699.6,852.5 697.4,854.4 695.2,856.3 693,858.3 690.8,860.3 688.6,862.3 686.4,864.2 684.3,866.2 682.1,868.1 679.9,870.1 677.7,872.1 675.5,874.3 673.3,876.4 671.1,878.6 668.9,880.7 666.7,882.6 664.5,884.3 662.3,885.9 660.2,887.4 658,888.8 655.8,890.1 653.6,891.3 651.4,892.4 649.2,893.4 647,894.2 644.8,895 642.6,895.7 640.4,896.3 638.3,896.8 636.1,897.2" fill="#5F3CB4" fill-opacity="0.09" stroke="none"/>
<polyline points="636.1,892.2 638.3,891.8 640.4,891.3 642.6,890.7 644.8,890 647,889.3 649.2,888.5 651.4,887.6 653.6,886.5 655.8,885.3 658,884 660.2,882.6 662.3,881.1 664.5,879.6 666.7,877.9 668.9,876 671.1,873.9 673.3,871.8 675.5,869.6 677.7,867.5 679.9,865.5 682.1,863.6 684.3,861.7 686.4,859.8 688.6,857.8 690.8,855.9 693,854 695.2,852 697.4,850.1 699.6,848.3 701.8,846.5 704,844.8 706.2,843.1 708.3,841.5 710.5,840.1 712.7,838.8 714.9,837.6 717.1,836.4 719.3,835.3 721.5,834.2 723.7,833.1 725.9,832.1 728.1,831.2 730.3,830.4 732.4,829.7 734.6,829.1 736.8,828.5 739,828.1 741.2,827.8 743.4,827.5 745.6,827.2 747.8,827.1 750,826.9 752.2,826.9 754.3,826.8 756.5,826.8 758.7,826.7 760.9,826.7 763.1,826.7 765.3,826.7 767.5,826.7 769.7,826.8 771.9,827 774.1,827.1 776.2,827.2 778.4,827.4 780.6,827.5 782.8,827.6 785,827.8 787.2,827.9" fill="none" stroke="#6231B0" stroke-width="1.65" stroke-linejoin="round" stroke-linecap="round"/>
<polyline points="636.1,887.9 638.3,887.3 640.4,886.7 642.6,886 644.8,885.2 647,884.3 649.2,883.4 651.4,882.4 653.6,881.3 655.8,880.1 658,878.8 660.2,877.4 662.3,876 664.5,874.5 666.7,873 668.9,871.4 671.1,869.7 673.3,868 675.5,866.3 677.7,864.6 679.9,863 682.1,861.5 684.3,860 686.4,858.5 688.6,857.1 690.8,855.7 693,854.4 695.2,853.2 697.4,851.9 699.6,850.7 701.8,849.5 704,848.3 706.2,847.1 708.3,845.9 710.5,844.7 712.7,843.6 714.9,842.4 717.1,841.3 719.3,840.3 721.5,839.3 723.7,838.4 725.9,837.5 728.1,836.7 730.3,835.9 732.4,835.2 734.6,834.5 736.8,833.8 739,833.2 741.2,832.7 743.4,832.3 745.6,831.9 747.8,831.5 750,831.2 752.2,831 754.3,830.8 756.5,830.6 758.7,830.4 760.9,830.2 763.1,830.1 765.3,829.9 767.5,829.8 769.7,829.7 771.9,829.6 774.1,829.5 776.2,829.4 778.4,829.4 780.6,829.3 782.8,829.3 785,829.2 787.2,829.2" fill="none" stroke="#3577C6" stroke-width="1.65" stroke-linejoin="round" stroke-linecap="round"/>
</g>
<line x1="636.1" y1="791.7" x2="636.1" y2="917.7" stroke="#4a4a4a" stroke-width="0.7"/>
<line x1="635.8" y1="917.4" x2="787.5" y2="917.4" stroke="#4a4a4a" stroke-width="0.7"/>
<line x1="636.1" y1="820.4" x2="637.7" y2="820.4" stroke="#4a4a4a" stroke-width="0.7"/>
<text x="0" y="0" font-size="8.8" text-anchor="end" fill="#111111" style="text-rendering:geometricPrecision" transform="translate(632.47 823.77) scale(1 1.04)" stroke="#111111" stroke-width="0.2">10</text>
<line x1="636.1" y1="849.3" x2="637.7" y2="849.3" stroke="#4a4a4a" stroke-width="0.7"/>
<text x="0" y="0" font-size="8.8" text-anchor="end" fill="#111111" style="text-rendering:geometricPrecision" transform="translate(632.47 852.74) scale(1 1.04)" stroke="#111111" stroke-width="0.2">0</text>
<line x1="636.1" y1="878.6" x2="637.7" y2="878.6" stroke="#4a4a4a" stroke-width="0.7"/>
<text x="0" y="0" font-size="8.8" text-anchor="end" fill="#111111" style="text-rendering:geometricPrecision" transform="translate(632.47 881.96) scale(1 1.04)" stroke="#111111" stroke-width="0.2">-10</text>
<line x1="636.1" y1="907.8" x2="637.7" y2="907.8" stroke="#4a4a4a" stroke-width="0.7"/>
<text x="0" y="0" font-size="8.8" text-anchor="end" fill="#111111" style="text-rendering:geometricPrecision" transform="translate(632.47 911.18) scale(1 1.04)" stroke="#111111" stroke-width="0.2">-20</text>
<line x1="666.3" y1="917.4" x2="666.3" y2="915.8" stroke="#4a4a4a" stroke-width="0.7"/>
<text x="0" y="0" font-size="8.8" text-anchor="middle" fill="#111111" style="text-rendering:geometricPrecision" transform="translate(666.89 930.04) scale(1 1.04)" stroke="#111111" stroke-width="0.2">20</text>
<line x1="696.5" y1="917.4" x2="696.5" y2="915.8" stroke="#4a4a4a" stroke-width="0.7"/>
<text x="0" y="0" font-size="8.8" text-anchor="middle" fill="#111111" style="text-rendering:geometricPrecision" transform="translate(697.12 930.04) scale(1 1.04)" stroke="#111111" stroke-width="0.2">40</text>
<line x1="726.7" y1="917.4" x2="726.7" y2="915.8" stroke="#4a4a4a" stroke-width="0.7"/>
<text x="0" y="0" font-size="8.8" text-anchor="middle" fill="#111111" style="text-rendering:geometricPrecision" transform="translate(727.35 930.04) scale(1 1.04)" stroke="#111111" stroke-width="0.2">60</text>
<line x1="757" y1="917.4" x2="757" y2="915.8" stroke="#4a4a4a" stroke-width="0.7"/>
<text x="0" y="0" font-size="8.8" text-anchor="middle" fill="#111111" style="text-rendering:geometricPrecision" transform="translate(757.57 930.04) scale(1 1.04)" stroke="#111111" stroke-width="0.2">80</text>
<line x1="787.2" y1="917.4" x2="787.2" y2="915.8" stroke="#4a4a4a" stroke-width="0.7"/>
<text x="0" y="0" font-size="8.8" text-anchor="middle" fill="#111111" style="text-rendering:geometricPrecision" transform="translate(787 930.04) scale(1 1.04)" stroke="#111111" stroke-width="0.2">100</text>
<text x="711.8" y="788.1" font-size="8.8" text-anchor="middle" fill="#111111" font-weight="bold" stroke="#111111" stroke-width="0.2">CoM-heel angle sagittal</text>
<text x="612.6" y="854.5" font-size="8.3" text-anchor="middle" fill="#111111" transform="rotate(-90 612.6 854.5)" stroke="#111111" stroke-width="0.2">[&#176;]</text>
<text x="712.1" y="943" font-size="8.8" text-anchor="middle" fill="#111111" stroke="#111111" stroke-width="0.2">Time [normalized, %]</text>
<line x1="636.8" y1="801.7" x2="675.9" y2="801.7" stroke="#B4606E" stroke-width="0.95"/>
<text x="637.3" y="798.6" font-size="7.25" fill="#861C30" stroke="#861C30" stroke-width="0.18">p &lt; 0.01</text>
<line x1="699.3" y1="801.7" x2="787.2" y2="801.7" stroke="#B4606E" stroke-width="0.95"/>
<text x="700.3" y="798.6" font-size="7.25" fill="#861C30" stroke="#861C30" stroke-width="0.18">p &lt; 0.01</text>
</g>
</svg>
</body></html>
